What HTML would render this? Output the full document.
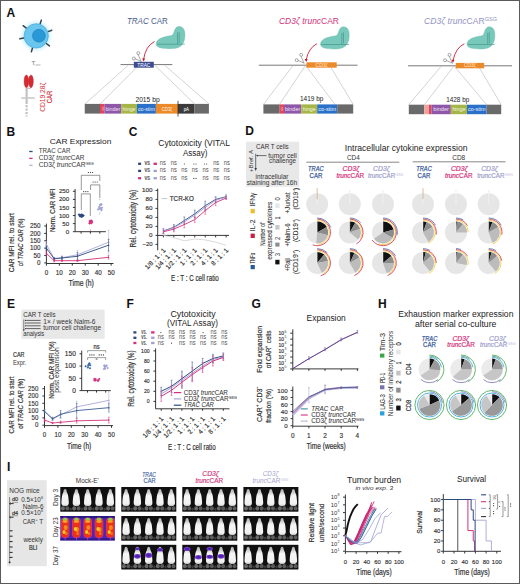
<!DOCTYPE html><html><head><meta charset="utf-8"><style>html,body{margin:0;padding:0;background:#fff;}svg{display:block;font-family:"Liberation Sans", sans-serif;}</style></head><body>
<svg width="520" height="584" viewBox="0 0 520 584">
<defs><radialGradient id="glow" cx="0.5" cy="0.5" r="0.5"><stop offset="0.6" stop-color="#a8e0f6" stop-opacity="0.9"/><stop offset="1" stop-color="#d8f2fc" stop-opacity="0"/></radialGradient><radialGradient id="cellg" cx="0.45" cy="0.45" r="0.6"><stop offset="0" stop-color="#6dcaf0"/><stop offset="1" stop-color="#3fa9dc"/></radialGradient><radialGradient id="nucg" cx="0.5" cy="0.5" r="0.5"><stop offset="0" stop-color="#2a95cf"/><stop offset="1" stop-color="#1a7fbf"/></radialGradient><filter id="bl" x="-20%" y="-20%" width="140%" height="140%"><feGaussianBlur stdDeviation="0.45"/></filter><filter id="bl2" x="-20%" y="-20%" width="140%" height="140%"><feGaussianBlur stdDeviation="0.8"/></filter><linearGradient id="mouseg" x1="0" y1="0" x2="0" y2="1"><stop offset="0" stop-color="#a8a8a8"/><stop offset="0.2" stop-color="#d0d0d0"/><stop offset="0.4" stop-color="#f6f6f6"/><stop offset="0.88" stop-color="#f0f0f0"/><stop offset="1" stop-color="#b0b0b0"/></linearGradient></defs>
<rect x="0.00" y="0.00" width="520.00" height="584.00" fill="#fff"/>
<text x="6.60" y="16.60" font-size="12" fill="#111" font-weight="bold">A</text>
<text x="6.60" y="135.80" font-size="12" fill="#111" font-weight="bold">B</text>
<text x="128.80" y="135.50" font-size="12" fill="#111" font-weight="bold">C</text>
<text x="245.20" y="135.40" font-size="12" fill="#111" font-weight="bold">D</text>
<text x="6.90" y="307.80" font-size="12" fill="#111" font-weight="bold">E</text>
<text x="126.50" y="307.70" font-size="12" fill="#111" font-weight="bold">F</text>
<text x="251.40" y="307.80" font-size="12" fill="#111" font-weight="bold">G</text>
<text x="378.00" y="307.80" font-size="12" fill="#111" font-weight="bold">H</text>
<text x="6.90" y="470.60" font-size="12" fill="#111" font-weight="bold">I</text>
<circle cx="36.20" cy="35.90" r="17.00" fill="url(#glow)"/>
<line x1="26.27" y1="28.14" x2="23.12" y2="25.68" stroke="#34444c" stroke-width="1.5" stroke-linecap="round"/>
<line x1="40.09" y1="23.92" x2="41.33" y2="20.11" stroke="#34444c" stroke-width="1.5" stroke-linecap="round"/>
<line x1="48.04" y1="31.59" x2="51.80" y2="30.22" stroke="#34444c" stroke-width="1.5" stroke-linecap="round"/>
<line x1="46.26" y1="43.48" x2="49.46" y2="45.89" stroke="#34444c" stroke-width="1.5" stroke-linecap="round"/>
<line x1="32.52" y1="47.95" x2="31.35" y2="51.77" stroke="#34444c" stroke-width="1.5" stroke-linecap="round"/>
<line x1="23.79" y1="38.09" x2="19.85" y2="38.78" stroke="#34444c" stroke-width="1.5" stroke-linecap="round"/>
<circle cx="36.20" cy="35.90" r="12.10" fill="#6ac6ee" stroke="#48ade0" stroke-width="0.8"/>
<circle cx="38.90" cy="35.70" r="6.40" fill="#2a98d4" stroke="#1c82c2" stroke-width="0.7"/>
<text x="31.40" y="64.80" font-size="6.2" fill="#7a7a7a">T</text>
<text x="34.60" y="65.60" font-size="2.8" fill="#9a9a9a">conv</text>
<line x1="26.60" y1="88.00" x2="26.60" y2="104.00" stroke="#c2c2c2" stroke-width="2.2"/>
<line x1="26.60" y1="105.00" x2="26.60" y2="116.50" stroke="#c2c2c2" stroke-width="2.2" stroke-dasharray="2.2,1.3"/>
<line x1="21.20" y1="98.00" x2="34.70" y2="98.00" stroke="#cacaca" stroke-width="1.6"/>
<ellipse cx="26.4" cy="81.3" rx="2.3" ry="6.4" fill="#d52a31" stroke="#b01823" stroke-width="0.4"/>
<ellipse cx="31.0" cy="81.3" rx="2.3" ry="6.4" fill="#d52a31" stroke="#b01823" stroke-width="0.4"/>
<path d="M25.2,75.2 q1.2,-1.8 2.4,0 M29.8,75.2 q1.2,-1.8 2.4,0" fill="none" stroke="#fff" stroke-width="0.4"/>
<line x1="27.50" y1="88.00" x2="30.50" y2="88.50" stroke="#d52a31" stroke-width="0.5"/>
<text x="44.60" y="97.20" font-size="6.8" fill="#d4303a" text-anchor="middle" textLength="29.30" lengthAdjust="spacingAndGlyphs" transform="rotate(-90 44.60 97.20)">CD19.28ζ</text>
<text x="52.40" y="97.00" font-size="6.8" fill="#d4303a" stroke="#d4303a" stroke-width="0.2" text-anchor="middle" textLength="12.50" lengthAdjust="spacingAndGlyphs" transform="rotate(-90 52.40 97.00)">CAR</text>
<text x="126.90" y="23.60" font-size="8.5" fill="#4b5b8c" textLength="41.00" lengthAdjust="spacingAndGlyphs"><tspan font-style="italic">TRAC</tspan> CAR</text>
<g transform="translate(156.2,26.0) scale(1.0,1)"><path d="M0,18 C0,12.5 8,10.5 15.5,9.5 C18.5,8.5 17.5,1.5 22,0.6 C27,0 29,4 28.7,10 C28.4,16 26,22.5 16,22.6 C7,22.8 0,22 0,18 Z" fill="#78c9bb" stroke="#5fb3a6" stroke-width="0.4"/><path d="M21.3,6.5 L21.3,18.1 M0.8,18.2 L21.3,18.2 L28.6,18.2 M23,6 L23,17" fill="none" stroke="#3e8e85" stroke-width="0.6"/></g>
<line x1="120.50" y1="64.60" x2="172.30" y2="64.60" stroke="#555" stroke-width="0.8"/>
<line x1="128.00" y1="65.50" x2="85.00" y2="103.90" stroke="#a8a8a8" stroke-width="0.5"/>
<line x1="138.80" y1="65.50" x2="100.20" y2="103.90" stroke="#a8a8a8" stroke-width="0.5"/>
<line x1="155.00" y1="65.50" x2="194.50" y2="103.90" stroke="#a8a8a8" stroke-width="0.5"/>
<line x1="165.00" y1="65.50" x2="208.90" y2="103.90" stroke="#a8a8a8" stroke-width="0.5"/>
<rect x="133.80" y="61.80" width="20.00" height="5.90" fill="#3d4b93"/>
<text x="143.80" y="66.60" font-size="4.6" fill="#fff" text-anchor="middle" textLength="13.00" lengthAdjust="spacingAndGlyphs">TRAC</text>
<g transform="translate(131.5,50.9)" fill="none" stroke="#444" stroke-width="0.45"><circle cx="2.3" cy="7.6" r="1.5" fill="#fff"/><circle cx="6.8" cy="2.2" r="1.5" fill="#fff"/><path d="M3.7,7.9 L10,10.6 M6.6,3.7 L9.6,10.6"/></g>
<path d="M154.6,41.5 Q145.5,46 143.6,59.4" fill="none" stroke="#c4122f" stroke-width="0.85"/>
<path d="M142.1,58.6 L143.6,61.6 L145.1,58.6 Z" fill="#c4122f"/>
<text x="135.40" y="101.50" font-size="7" fill="#222" textLength="24.30" lengthAdjust="spacingAndGlyphs">2015 bp</text>
<rect x="84.75" y="103.90" width="15.25" height="9.70" fill="#6a6a6a"/>
<rect x="100.00" y="103.90" width="4.40" height="9.70" fill="#e2445a"/>
<rect x="104.40" y="103.90" width="16.85" height="9.70" fill="#8f57a9"/>
<rect x="121.25" y="103.90" width="15.65" height="9.70" fill="#a6b646"/>
<rect x="136.90" y="103.90" width="19.00" height="9.70" fill="#2b70c8"/>
<rect x="155.90" y="103.90" width="22.10" height="9.70" fill="#ec8a2a"/>
<rect x="178.00" y="103.90" width="16.50" height="9.70" fill="#3b3b3b"/>
<rect x="194.50" y="103.90" width="14.40" height="9.70" fill="#6a6a6a"/>
<text x="103.50" y="108.75" font-size="4.2" fill="#fbd0d4" text-anchor="middle" transform="rotate(-90 103.50 108.75)">ss</text>
<text x="112.83" y="110.70" font-size="5.4" fill="#f0e6f4" text-anchor="middle" textLength="14.85" lengthAdjust="spacingAndGlyphs">binder</text>
<text x="129.07" y="110.70" font-size="5.4" fill="#f4f6e0" text-anchor="middle" textLength="13.00" lengthAdjust="spacingAndGlyphs">hinge</text>
<text x="146.40" y="110.70" font-size="5.4" fill="#e8f0ff" text-anchor="middle" textLength="17.00" lengthAdjust="spacingAndGlyphs">co-stim</text>
<text x="166.95" y="110.70" font-size="5.4" fill="#fff5ea" text-anchor="middle" textLength="10.40" lengthAdjust="spacingAndGlyphs">CD3ζ</text>
<text x="186.25" y="110.70" font-size="5.4" fill="#dcdcdc" stroke="#dcdcdc" stroke-width="0.2" text-anchor="middle" textLength="5.20" lengthAdjust="spacingAndGlyphs">pA</text>
<line x1="178.00" y1="100.80" x2="178.00" y2="116.60" stroke="#3a2a20" stroke-width="0.8"/>
<text x="279.00" y="23.80" font-size="8.5" fill="#d4317a" textLength="60.00" lengthAdjust="spacingAndGlyphs"><tspan font-style="italic">CD3ζ trunc</tspan>CAR</text>
<g transform="translate(320.5,26.3) scale(1.0,1)"><path d="M0,18 C0,12.5 8,10.5 15.5,9.5 C18.5,8.5 17.5,1.5 22,0.6 C27,0 29,4 28.7,10 C28.4,16 26,22.5 16,22.6 C7,22.8 0,22 0,18 Z" fill="#78c9bb" stroke="#5fb3a6" stroke-width="0.4"/><path d="M21.3,6.5 L21.3,18.1 M0.8,18.2 L21.3,18.2 L28.6,18.2 M23,6 L23,17" fill="none" stroke="#3e8e85" stroke-width="0.6"/></g>
<line x1="258.80" y1="65.20" x2="357.50" y2="65.20" stroke="#555" stroke-width="0.8"/>
<line x1="292.60" y1="66.00" x2="263.40" y2="104.50" stroke="#a8a8a8" stroke-width="0.5"/>
<line x1="305.10" y1="66.00" x2="279.40" y2="104.50" stroke="#a8a8a8" stroke-width="0.5"/>
<line x1="306.10" y1="66.00" x2="335.00" y2="104.50" stroke="#a8a8a8" stroke-width="0.5"/>
<line x1="330.10" y1="66.00" x2="353.20" y2="104.50" stroke="#a8a8a8" stroke-width="0.5"/>
<rect x="306.50" y="62.30" width="30.20" height="5.40" fill="#ec8a2a"/>
<text x="321.60" y="66.80" font-size="4.8" fill="#fde6cf" text-anchor="middle" textLength="12.00" lengthAdjust="spacingAndGlyphs">CD3ζ</text>
<g transform="translate(294.4,52.6)" fill="none" stroke="#444" stroke-width="0.45"><circle cx="2.3" cy="7.6" r="1.5" fill="#fff"/><circle cx="6.8" cy="2.2" r="1.5" fill="#fff"/><path d="M3.7,7.9 L10,10.6 M6.6,3.7 L9.6,10.6"/></g>
<path d="M316.9,43.7 Q308.5,48 306.2,59.8" fill="none" stroke="#c4122f" stroke-width="0.85"/>
<path d="M304.7,59.0 L306.2,62.0 L307.7,59.0 Z" fill="#c4122f"/>
<text x="300.00" y="101.20" font-size="7" fill="#222" textLength="23.40" lengthAdjust="spacingAndGlyphs">1419 bp</text>
<rect x="263.40" y="104.40" width="16.30" height="9.20" fill="#6a6a6a"/>
<rect x="279.70" y="104.40" width="4.30" height="9.20" fill="#e2445a"/>
<rect x="284.00" y="104.40" width="17.30" height="9.20" fill="#8f57a9"/>
<rect x="301.30" y="104.40" width="15.90" height="9.20" fill="#a6b646"/>
<rect x="317.20" y="104.40" width="20.00" height="9.20" fill="#2b70c8"/>
<rect x="337.20" y="104.40" width="16.00" height="9.20" fill="#6a6a6a"/>
<text x="283.15" y="109.00" font-size="4.2" fill="#fbd0d4" text-anchor="middle" transform="rotate(-90 283.15 109.00)">ss</text>
<text x="292.65" y="110.70" font-size="5.4" fill="#f0e6f4" text-anchor="middle" textLength="15.30" lengthAdjust="spacingAndGlyphs">binder</text>
<text x="309.25" y="110.70" font-size="5.4" fill="#f4f6e0" text-anchor="middle" textLength="13.00" lengthAdjust="spacingAndGlyphs">hinge</text>
<text x="327.20" y="110.70" font-size="5.4" fill="#e8f0ff" text-anchor="middle" textLength="18.00" lengthAdjust="spacingAndGlyphs">co-stim</text>
<text x="424.00" y="23.80" font-size="8.5" fill="#9393c4" textLength="73.00" lengthAdjust="spacingAndGlyphs"><tspan font-style="italic">CD3ζ trunc</tspan>CAR<tspan font-size="5.5" dy="-3">GSG</tspan></text>
<g transform="translate(467,26.3) scale(0.97,1)"><path d="M0,18 C0,12.5 8,10.5 15.5,9.5 C18.5,8.5 17.5,1.5 22,0.6 C27,0 29,4 28.7,10 C28.4,16 26,22.5 16,22.6 C7,22.8 0,22 0,18 Z" fill="#78c9bb" stroke="#5fb3a6" stroke-width="0.4"/><path d="M21.3,6.5 L21.3,18.1 M0.8,18.2 L21.3,18.2 L28.6,18.2 M23,6 L23,17" fill="none" stroke="#3e8e85" stroke-width="0.6"/></g>
<line x1="408.00" y1="65.80" x2="512.00" y2="65.80" stroke="#555" stroke-width="0.8"/>
<line x1="441.00" y1="66.50" x2="408.80" y2="104.70" stroke="#a8a8a8" stroke-width="0.5"/>
<line x1="453.60" y1="66.50" x2="424.40" y2="104.70" stroke="#a8a8a8" stroke-width="0.5"/>
<line x1="454.60" y1="66.50" x2="486.60" y2="104.70" stroke="#a8a8a8" stroke-width="0.5"/>
<line x1="478.60" y1="66.50" x2="501.20" y2="104.70" stroke="#a8a8a8" stroke-width="0.5"/>
<rect x="455.80" y="62.90" width="28.40" height="5.40" fill="#ec8a2a"/>
<text x="470.00" y="67.40" font-size="4.8" fill="#fde6cf" text-anchor="middle" textLength="12.00" lengthAdjust="spacingAndGlyphs">CD3ζ</text>
<g transform="translate(442.7,52.7)" fill="none" stroke="#444" stroke-width="0.45"><circle cx="2.3" cy="7.6" r="1.5" fill="#fff"/><circle cx="6.8" cy="2.2" r="1.5" fill="#fff"/><path d="M3.7,7.9 L10,10.6 M6.6,3.7 L9.6,10.6"/></g>
<path d="M464.4,43.7 Q455.5,48 453.0,60.599999999999994" fill="none" stroke="#c4122f" stroke-width="0.85"/>
<path d="M451.5,59.8 L453.0,62.8 L454.5,59.8 Z" fill="#c4122f"/>
<text x="446.20" y="102.20" font-size="7" fill="#222" textLength="23.10" lengthAdjust="spacingAndGlyphs">1428 bp</text>
<rect x="408.80" y="104.70" width="15.40" height="9.50" fill="#6a6a6a"/>
<rect x="424.20" y="104.70" width="4.70" height="9.50" fill="#f1a39a"/>
<rect x="428.90" y="104.70" width="2.50" height="9.50" fill="#e2445a"/>
<rect x="431.40" y="104.70" width="19.40" height="9.50" fill="#8f57a9"/>
<rect x="450.80" y="104.70" width="16.20" height="9.50" fill="#a6b646"/>
<rect x="467.00" y="104.70" width="19.60" height="9.50" fill="#2b70c8"/>
<rect x="486.60" y="104.70" width="14.60" height="9.50" fill="#6a6a6a"/>
<text x="441.10" y="111.30" font-size="5.4" fill="#f0e6f4" text-anchor="middle" textLength="15.60" lengthAdjust="spacingAndGlyphs">binder</text>
<text x="458.90" y="111.30" font-size="5.4" fill="#f4f6e0" text-anchor="middle" textLength="13.00" lengthAdjust="spacingAndGlyphs">hinge</text>
<text x="476.80" y="111.30" font-size="5.4" fill="#e8f0ff" text-anchor="middle" textLength="17.60" lengthAdjust="spacingAndGlyphs">co-stim</text>
<text x="49.80" y="144.20" font-size="8" fill="#222" textLength="61.50" lengthAdjust="spacingAndGlyphs">CAR Expression</text>
<line x1="29.20" y1="151.50" x2="32.60" y2="151.50" stroke="#2c4a7e" stroke-width="1.3"/>
<text x="38.80" y="153.30" font-size="6.3" fill="#444" stroke="#444" stroke-width="0.05" textLength="31.60" lengthAdjust="spacingAndGlyphs">TRAC CAR</text>
<line x1="29.20" y1="158.40" x2="32.60" y2="158.40" stroke="#d4317a" stroke-width="1.3"/>
<text x="38.80" y="160.20" font-size="6.3" fill="#444" stroke="#444" stroke-width="0.05" textLength="45.60" lengthAdjust="spacingAndGlyphs">CD3ζ <tspan font-style="italic">trunc</tspan>CAR</text>
<line x1="29.20" y1="165.30" x2="32.60" y2="165.30" stroke="#b4b4d8" stroke-width="1.3"/>
<text x="38.80" y="167.10" font-size="6.3" fill="#444" stroke="#444" stroke-width="0.05" textLength="55.00" lengthAdjust="spacingAndGlyphs">CD3ζ <tspan font-style="italic">trunc</tspan>CAR<tspan font-size="3.6" dy="-2.2">GSG</tspan></text>
<line x1="75.10" y1="189.00" x2="75.10" y2="231.70" stroke="#222" stroke-width="0.9"/>
<line x1="72.90" y1="231.70" x2="75.10" y2="231.70" stroke="#222" stroke-width="0.9"/>
<text x="69.20" y="233.76" font-size="5.9" fill="#333" stroke="#333" stroke-width="0.15" text-anchor="end" textLength="3.43" lengthAdjust="spacingAndGlyphs">0</text>
<line x1="72.90" y1="223.62" x2="75.10" y2="223.62" stroke="#222" stroke-width="0.9"/>
<text x="69.20" y="225.68" font-size="5.9" fill="#333" stroke="#333" stroke-width="0.15" text-anchor="end" textLength="6.86" lengthAdjust="spacingAndGlyphs">50</text>
<line x1="72.90" y1="215.54" x2="75.10" y2="215.54" stroke="#222" stroke-width="0.9"/>
<text x="69.20" y="217.60" font-size="5.9" fill="#333" stroke="#333" stroke-width="0.15" text-anchor="end" textLength="10.29" lengthAdjust="spacingAndGlyphs">100</text>
<line x1="72.90" y1="207.46" x2="75.10" y2="207.46" stroke="#222" stroke-width="0.9"/>
<text x="69.20" y="209.52" font-size="5.9" fill="#333" stroke="#333" stroke-width="0.15" text-anchor="end" textLength="10.29" lengthAdjust="spacingAndGlyphs">150</text>
<line x1="72.90" y1="199.38" x2="75.10" y2="199.38" stroke="#222" stroke-width="0.9"/>
<text x="69.20" y="201.44" font-size="5.9" fill="#333" stroke="#333" stroke-width="0.15" text-anchor="end" textLength="10.29" lengthAdjust="spacingAndGlyphs">200</text>
<line x1="72.90" y1="191.30" x2="75.10" y2="191.30" stroke="#222" stroke-width="0.9"/>
<text x="69.20" y="193.36" font-size="5.9" fill="#333" stroke="#333" stroke-width="0.15" text-anchor="end" textLength="10.29" lengthAdjust="spacingAndGlyphs">250</text>
<line x1="75.10" y1="231.70" x2="105.90" y2="231.70" stroke="#222" stroke-width="0.9"/>
<line x1="81.10" y1="231.70" x2="81.10" y2="233.70" stroke="#222" stroke-width="0.9"/>
<line x1="90.40" y1="231.70" x2="90.40" y2="233.70" stroke="#222" stroke-width="0.9"/>
<line x1="99.80" y1="231.70" x2="99.80" y2="233.70" stroke="#222" stroke-width="0.9"/>
<text x="55.30" y="210.30" font-size="7" fill="#333" stroke="#333" stroke-width="0.2" text-anchor="middle" textLength="43.50" lengthAdjust="spacingAndGlyphs" transform="rotate(-90 55.30 210.30)">Norm. CAR MFI</text>
<rect x="79.05" y="214.43" width="2.0" height="2.0" fill="#2c4a7e" transform="rotate(45 80.05 215.43)"/>
<rect x="79.63" y="214.27" width="2.0" height="2.0" fill="#2c4a7e" transform="rotate(45 80.63 215.27)"/>
<rect x="80.75" y="215.66" width="2.0" height="2.0" fill="#2c4a7e" transform="rotate(45 81.75 216.66)"/>
<rect x="78.06" y="213.67" width="2.0" height="2.0" fill="#2c4a7e" transform="rotate(45 79.06 214.67)"/>
<rect x="79.14" y="215.23" width="2.0" height="2.0" fill="#2c4a7e" transform="rotate(45 80.14 216.23)"/>
<rect x="82.38" y="214.62" width="2.0" height="2.0" fill="#2c4a7e" transform="rotate(45 83.38 215.62)"/>
<rect x="81.68" y="214.60" width="2.0" height="2.0" fill="#2c4a7e" transform="rotate(45 82.68 215.60)"/>
<rect x="80.81" y="215.44" width="2.0" height="2.0" fill="#2c4a7e" transform="rotate(45 81.81 216.44)"/>
<rect x="80.79" y="213.59" width="2.0" height="2.0" fill="#2c4a7e" transform="rotate(45 81.79 214.59)"/>
<rect x="89.50" y="220.38" width="2.0" height="2.0" fill="#d4317a" transform="rotate(45 90.50 221.38)"/>
<rect x="90.15" y="222.13" width="2.0" height="2.0" fill="#d4317a" transform="rotate(45 91.15 223.13)"/>
<rect x="90.54" y="220.77" width="2.0" height="2.0" fill="#d4317a" transform="rotate(45 91.54 221.77)"/>
<rect x="88.53" y="222.22" width="2.0" height="2.0" fill="#d4317a" transform="rotate(45 89.53 223.22)"/>
<rect x="91.01" y="221.07" width="2.0" height="2.0" fill="#d4317a" transform="rotate(45 92.01 222.07)"/>
<rect x="90.36" y="220.02" width="2.0" height="2.0" fill="#d4317a" transform="rotate(45 91.36 221.02)"/>
<rect x="90.34" y="219.92" width="2.0" height="2.0" fill="#d4317a" transform="rotate(45 91.34 220.92)"/>
<rect x="88.94" y="220.23" width="2.0" height="2.0" fill="#d4317a" transform="rotate(45 89.94 221.23)"/>
<rect x="89.16" y="219.88" width="2.0" height="2.0" fill="#d4317a" transform="rotate(45 90.16 220.88)"/>
<rect x="100.47" y="209.06" width="2.0" height="2.0" fill="#a0a0d4" transform="rotate(45 101.47 210.06)"/>
<rect x="97.20" y="208.29" width="2.0" height="2.0" fill="#a0a0d4" transform="rotate(45 98.20 209.29)"/>
<rect x="100.85" y="206.87" width="2.0" height="2.0" fill="#a0a0d4" transform="rotate(45 101.85 207.87)"/>
<rect x="99.36" y="207.75" width="2.0" height="2.0" fill="#a0a0d4" transform="rotate(45 100.36 208.75)"/>
<rect x="98.83" y="207.20" width="2.0" height="2.0" fill="#a0a0d4" transform="rotate(45 99.83 208.20)"/>
<rect x="98.14" y="205.91" width="2.0" height="2.0" fill="#a0a0d4" transform="rotate(45 99.14 206.91)"/>
<rect x="99.17" y="203.85" width="2.0" height="2.0" fill="#a0a0d4" transform="rotate(45 100.17 204.85)"/>
<rect x="99.60" y="203.69" width="2.0" height="2.0" fill="#a0a0d4" transform="rotate(45 100.60 204.69)"/>
<rect x="100.37" y="203.29" width="2.0" height="2.0" fill="#a0a0d4" transform="rotate(45 101.37 204.29)"/>
<circle cx="90.40" cy="230.08" r="0.50" fill="#d4317a"/>
<circle cx="99.80" cy="212.31" r="0.50" fill="#a0a0d4"/>
<circle cx="99.80" cy="213.92" r="0.50" fill="#a0a0d4"/>
<circle cx="99.80" cy="199.38" r="0.50" fill="#a0a0d4"/>
<path d="M81.3,210 L81.3,193.9 L90.3,193.9 L90.3,216" fill="none" stroke="#333" stroke-width="0.5"/>
<circle cx="83.70" cy="191.60" r="0.62" fill="#333"/>
<circle cx="85.80" cy="191.60" r="0.62" fill="#333"/>
<circle cx="87.90" cy="191.60" r="0.62" fill="#333"/>
<path d="M90.6,190 L90.6,184.9 L99.8,184.9 L99.8,198" fill="none" stroke="#333" stroke-width="0.5"/>
<circle cx="93.10" cy="182.00" r="0.62" fill="#333"/>
<circle cx="95.20" cy="182.00" r="0.62" fill="#333"/>
<circle cx="97.30" cy="182.00" r="0.62" fill="#333"/>
<path d="M81.3,190 L81.3,175.3 L99.8,175.3 L99.8,181" fill="none" stroke="#333" stroke-width="0.5"/>
<circle cx="88.40" cy="172.50" r="0.62" fill="#333"/>
<circle cx="90.50" cy="172.50" r="0.62" fill="#333"/>
<circle cx="92.60" cy="172.50" r="0.62" fill="#333"/>
<line x1="46.40" y1="223.60" x2="46.40" y2="263.50" stroke="#222" stroke-width="0.9"/>
<line x1="44.20" y1="262.90" x2="46.40" y2="262.90" stroke="#222" stroke-width="0.9"/>
<text x="40.50" y="265.14" font-size="6.4" fill="#333" stroke="#333" stroke-width="0.15" text-anchor="end" textLength="3.50" lengthAdjust="spacingAndGlyphs">0</text>
<line x1="44.20" y1="255.52" x2="46.40" y2="255.52" stroke="#222" stroke-width="0.9"/>
<text x="40.50" y="257.76" font-size="6.4" fill="#333" stroke="#333" stroke-width="0.15" text-anchor="end" textLength="7.00" lengthAdjust="spacingAndGlyphs">50</text>
<line x1="44.20" y1="248.14" x2="46.40" y2="248.14" stroke="#222" stroke-width="0.9"/>
<text x="40.50" y="250.38" font-size="6.4" fill="#333" stroke="#333" stroke-width="0.15" text-anchor="end" textLength="10.50" lengthAdjust="spacingAndGlyphs">100</text>
<line x1="44.20" y1="240.76" x2="46.40" y2="240.76" stroke="#222" stroke-width="0.9"/>
<text x="40.50" y="243.00" font-size="6.4" fill="#333" stroke="#333" stroke-width="0.15" text-anchor="end" textLength="10.50" lengthAdjust="spacingAndGlyphs">150</text>
<line x1="44.20" y1="233.38" x2="46.40" y2="233.38" stroke="#222" stroke-width="0.9"/>
<text x="40.50" y="235.62" font-size="6.4" fill="#333" stroke="#333" stroke-width="0.15" text-anchor="end" textLength="10.50" lengthAdjust="spacingAndGlyphs">200</text>
<line x1="44.20" y1="226.00" x2="46.40" y2="226.00" stroke="#222" stroke-width="0.9"/>
<text x="40.50" y="228.24" font-size="6.4" fill="#333" stroke="#333" stroke-width="0.15" text-anchor="end" textLength="10.50" lengthAdjust="spacingAndGlyphs">250</text>
<line x1="46.40" y1="263.50" x2="113.50" y2="263.50" stroke="#222" stroke-width="0.9"/>
<line x1="46.40" y1="263.50" x2="46.40" y2="265.70" stroke="#222" stroke-width="0.9"/>
<text x="46.40" y="274.60" font-size="6.4" fill="#333" stroke="#333" stroke-width="0.15" text-anchor="middle" textLength="3.50" lengthAdjust="spacingAndGlyphs">0</text>
<line x1="59.35" y1="263.50" x2="59.35" y2="265.70" stroke="#222" stroke-width="0.9"/>
<text x="59.35" y="274.60" font-size="6.4" fill="#333" stroke="#333" stroke-width="0.15" text-anchor="middle" textLength="7.00" lengthAdjust="spacingAndGlyphs">10</text>
<line x1="72.30" y1="263.50" x2="72.30" y2="265.70" stroke="#222" stroke-width="0.9"/>
<text x="72.30" y="274.60" font-size="6.4" fill="#333" stroke="#333" stroke-width="0.15" text-anchor="middle" textLength="7.00" lengthAdjust="spacingAndGlyphs">20</text>
<line x1="85.25" y1="263.50" x2="85.25" y2="265.70" stroke="#222" stroke-width="0.9"/>
<text x="85.25" y="274.60" font-size="6.4" fill="#333" stroke="#333" stroke-width="0.15" text-anchor="middle" textLength="7.00" lengthAdjust="spacingAndGlyphs">30</text>
<line x1="98.20" y1="263.50" x2="98.20" y2="265.70" stroke="#222" stroke-width="0.9"/>
<text x="98.20" y="274.60" font-size="6.4" fill="#333" stroke="#333" stroke-width="0.15" text-anchor="middle" textLength="7.00" lengthAdjust="spacingAndGlyphs">40</text>
<line x1="111.15" y1="263.50" x2="111.15" y2="265.70" stroke="#222" stroke-width="0.9"/>
<text x="111.15" y="274.60" font-size="6.4" fill="#333" stroke="#333" stroke-width="0.15" text-anchor="middle" textLength="7.00" lengthAdjust="spacingAndGlyphs">50</text>
<text x="68.50" y="286.20" font-size="8.8" fill="#333" stroke="#333" stroke-width="0.2" textLength="25.40" lengthAdjust="spacingAndGlyphs">Time (h)</text>
<text x="14.00" y="242.70" font-size="7.8" fill="#333" stroke="#333" stroke-width="0.2" text-anchor="middle" textLength="59.00" lengthAdjust="spacingAndGlyphs" transform="rotate(-90 14.00 242.70)">CAR MFI rel. to start</text>
<text x="22.60" y="242.30" font-size="7.8" fill="#333" stroke="#333" stroke-width="0.2" text-anchor="middle" textLength="47.70" lengthAdjust="spacingAndGlyphs" transform="rotate(-90 22.60 242.30)">of <tspan font-style="italic">TRAC CAR</tspan> (%)</text>
<polyline points="46.40,244.45 54.17,258.47 61.94,257.73 77.48,254.78 108.56,242.24" fill="none" stroke="#a9a9d8" stroke-width="0.9" stroke-linejoin="round"/>
<line x1="46.40" y1="241.50" x2="46.40" y2="247.40" stroke="#a9a9d8" stroke-width="0.5"/>
<line x1="45.50" y1="241.50" x2="47.30" y2="241.50" stroke="#a9a9d8" stroke-width="0.5"/>
<line x1="45.50" y1="247.40" x2="47.30" y2="247.40" stroke="#a9a9d8" stroke-width="0.5"/>
<circle cx="46.40" cy="244.45" r="0.80" fill="#a9a9d8"/>
<line x1="54.17" y1="257.29" x2="54.17" y2="259.65" stroke="#a9a9d8" stroke-width="0.5"/>
<line x1="53.27" y1="257.29" x2="55.07" y2="257.29" stroke="#a9a9d8" stroke-width="0.5"/>
<line x1="53.27" y1="259.65" x2="55.07" y2="259.65" stroke="#a9a9d8" stroke-width="0.5"/>
<circle cx="54.17" cy="258.47" r="0.80" fill="#a9a9d8"/>
<line x1="61.94" y1="256.26" x2="61.94" y2="259.21" stroke="#a9a9d8" stroke-width="0.5"/>
<line x1="61.04" y1="256.26" x2="62.84" y2="256.26" stroke="#a9a9d8" stroke-width="0.5"/>
<line x1="61.04" y1="259.21" x2="62.84" y2="259.21" stroke="#a9a9d8" stroke-width="0.5"/>
<circle cx="61.94" cy="257.73" r="0.80" fill="#a9a9d8"/>
<line x1="77.48" y1="250.35" x2="77.48" y2="259.21" stroke="#a9a9d8" stroke-width="0.5"/>
<line x1="76.58" y1="250.35" x2="78.38" y2="250.35" stroke="#a9a9d8" stroke-width="0.5"/>
<line x1="76.58" y1="259.21" x2="78.38" y2="259.21" stroke="#a9a9d8" stroke-width="0.5"/>
<circle cx="77.48" cy="254.78" r="0.80" fill="#a9a9d8"/>
<line x1="108.56" y1="230.43" x2="108.56" y2="254.04" stroke="#a9a9d8" stroke-width="0.5"/>
<line x1="107.66" y1="230.43" x2="109.46" y2="230.43" stroke="#a9a9d8" stroke-width="0.5"/>
<line x1="107.66" y1="254.04" x2="109.46" y2="254.04" stroke="#a9a9d8" stroke-width="0.5"/>
<circle cx="108.56" cy="242.24" r="0.80" fill="#a9a9d8"/>
<polyline points="46.40,248.14 54.17,258.77 61.94,258.03 77.48,256.26 108.56,245.19" fill="none" stroke="#2c4a7e" stroke-width="0.9" stroke-linejoin="round"/>
<line x1="46.40" y1="245.93" x2="46.40" y2="250.35" stroke="#2c4a7e" stroke-width="0.5"/>
<line x1="45.50" y1="245.93" x2="47.30" y2="245.93" stroke="#2c4a7e" stroke-width="0.5"/>
<line x1="45.50" y1="250.35" x2="47.30" y2="250.35" stroke="#2c4a7e" stroke-width="0.5"/>
<circle cx="46.40" cy="248.14" r="0.80" fill="#2c4a7e"/>
<line x1="54.17" y1="257.59" x2="54.17" y2="259.95" stroke="#2c4a7e" stroke-width="0.5"/>
<line x1="53.27" y1="257.59" x2="55.07" y2="257.59" stroke="#2c4a7e" stroke-width="0.5"/>
<line x1="53.27" y1="259.95" x2="55.07" y2="259.95" stroke="#2c4a7e" stroke-width="0.5"/>
<circle cx="54.17" cy="258.77" r="0.80" fill="#2c4a7e"/>
<line x1="61.94" y1="256.26" x2="61.94" y2="259.80" stroke="#2c4a7e" stroke-width="0.5"/>
<line x1="61.04" y1="256.26" x2="62.84" y2="256.26" stroke="#2c4a7e" stroke-width="0.5"/>
<line x1="61.04" y1="259.80" x2="62.84" y2="259.80" stroke="#2c4a7e" stroke-width="0.5"/>
<circle cx="61.94" cy="258.03" r="0.80" fill="#2c4a7e"/>
<line x1="77.48" y1="252.57" x2="77.48" y2="259.95" stroke="#2c4a7e" stroke-width="0.5"/>
<line x1="76.58" y1="252.57" x2="78.38" y2="252.57" stroke="#2c4a7e" stroke-width="0.5"/>
<line x1="76.58" y1="259.95" x2="78.38" y2="259.95" stroke="#2c4a7e" stroke-width="0.5"/>
<circle cx="77.48" cy="256.26" r="0.80" fill="#2c4a7e"/>
<line x1="108.56" y1="239.28" x2="108.56" y2="251.09" stroke="#2c4a7e" stroke-width="0.5"/>
<line x1="107.66" y1="239.28" x2="109.46" y2="239.28" stroke="#2c4a7e" stroke-width="0.5"/>
<line x1="107.66" y1="251.09" x2="109.46" y2="251.09" stroke="#2c4a7e" stroke-width="0.5"/>
<circle cx="108.56" cy="245.19" r="0.80" fill="#2c4a7e"/>
<polyline points="46.40,253.31 54.17,260.69 61.94,260.69 77.48,260.69 108.56,257.29" fill="none" stroke="#d4317a" stroke-width="0.9" stroke-linejoin="round"/>
<line x1="46.40" y1="251.09" x2="46.40" y2="255.52" stroke="#d4317a" stroke-width="0.5"/>
<line x1="45.50" y1="251.09" x2="47.30" y2="251.09" stroke="#d4317a" stroke-width="0.5"/>
<line x1="45.50" y1="255.52" x2="47.30" y2="255.52" stroke="#d4317a" stroke-width="0.5"/>
<circle cx="46.40" cy="253.31" r="0.80" fill="#d4317a"/>
<line x1="54.17" y1="259.51" x2="54.17" y2="261.87" stroke="#d4317a" stroke-width="0.5"/>
<line x1="53.27" y1="259.51" x2="55.07" y2="259.51" stroke="#d4317a" stroke-width="0.5"/>
<line x1="53.27" y1="261.87" x2="55.07" y2="261.87" stroke="#d4317a" stroke-width="0.5"/>
<circle cx="54.17" cy="260.69" r="0.80" fill="#d4317a"/>
<line x1="61.94" y1="259.95" x2="61.94" y2="261.42" stroke="#d4317a" stroke-width="0.5"/>
<line x1="61.04" y1="259.95" x2="62.84" y2="259.95" stroke="#d4317a" stroke-width="0.5"/>
<line x1="61.04" y1="261.42" x2="62.84" y2="261.42" stroke="#d4317a" stroke-width="0.5"/>
<circle cx="61.94" cy="260.69" r="0.80" fill="#d4317a"/>
<line x1="77.48" y1="259.95" x2="77.48" y2="261.42" stroke="#d4317a" stroke-width="0.5"/>
<line x1="76.58" y1="259.95" x2="78.38" y2="259.95" stroke="#d4317a" stroke-width="0.5"/>
<line x1="76.58" y1="261.42" x2="78.38" y2="261.42" stroke="#d4317a" stroke-width="0.5"/>
<circle cx="77.48" cy="260.69" r="0.80" fill="#d4317a"/>
<line x1="108.56" y1="255.52" x2="108.56" y2="259.06" stroke="#d4317a" stroke-width="0.5"/>
<line x1="107.66" y1="255.52" x2="109.46" y2="255.52" stroke="#d4317a" stroke-width="0.5"/>
<line x1="107.66" y1="259.06" x2="109.46" y2="259.06" stroke="#d4317a" stroke-width="0.5"/>
<circle cx="108.56" cy="257.29" r="0.80" fill="#d4317a"/>
<text x="158.30" y="146.00" font-size="8.3" fill="#222" textLength="71.70" lengthAdjust="spacingAndGlyphs">Cytotoxicity (VITAL</text>
<text x="183.00" y="155.70" font-size="8.3" fill="#222" textLength="24.40" lengthAdjust="spacingAndGlyphs">Assay)</text>
<rect x="138.10" y="162.65" width="3.00" height="2.30" fill="#2c4a7e"/>
<text x="147.25" y="165.30" font-size="6.4" fill="#555" stroke="#555" stroke-width="0.2" text-anchor="middle" textLength="5.50" lengthAdjust="spacingAndGlyphs">vs</text>
<rect x="153.50" y="162.65" width="3.40" height="2.30" fill="#d4317a"/>
<text x="162.90" y="165.30" font-size="6.4" fill="#555" text-anchor="middle" textLength="6.10" lengthAdjust="spacingAndGlyphs">ns</text>
<text x="173.80" y="165.30" font-size="6.4" fill="#555" text-anchor="middle" textLength="6.10" lengthAdjust="spacingAndGlyphs">ns</text>
<circle cx="184.40" cy="164.00" r="0.60" fill="#444"/>
<circle cx="193.80" cy="164.00" r="0.60" fill="#444"/>
<circle cx="196.00" cy="164.00" r="0.60" fill="#444"/>
<circle cx="204.40" cy="164.00" r="0.60" fill="#444"/>
<circle cx="206.60" cy="164.00" r="0.60" fill="#444"/>
<text x="216.20" y="165.30" font-size="6.4" fill="#555" text-anchor="middle" textLength="6.10" lengthAdjust="spacingAndGlyphs">ns</text>
<text x="226.80" y="165.30" font-size="6.4" fill="#555" text-anchor="middle" textLength="6.10" lengthAdjust="spacingAndGlyphs">ns</text>
<rect x="138.10" y="169.75" width="3.00" height="2.30" fill="#2c4a7e"/>
<text x="147.25" y="172.40" font-size="6.4" fill="#555" stroke="#555" stroke-width="0.2" text-anchor="middle" textLength="5.50" lengthAdjust="spacingAndGlyphs">vs</text>
<rect x="153.50" y="169.75" width="3.40" height="2.30" fill="#a0a0d4"/>
<text x="162.90" y="172.40" font-size="6.4" fill="#555" text-anchor="middle" textLength="6.10" lengthAdjust="spacingAndGlyphs">ns</text>
<text x="173.80" y="172.40" font-size="6.4" fill="#555" text-anchor="middle" textLength="6.10" lengthAdjust="spacingAndGlyphs">ns</text>
<text x="184.40" y="172.40" font-size="6.4" fill="#555" text-anchor="middle" textLength="6.10" lengthAdjust="spacingAndGlyphs">ns</text>
<text x="194.90" y="172.40" font-size="6.4" fill="#555" text-anchor="middle" textLength="6.10" lengthAdjust="spacingAndGlyphs">ns</text>
<text x="205.50" y="172.40" font-size="6.4" fill="#555" text-anchor="middle" textLength="6.10" lengthAdjust="spacingAndGlyphs">ns</text>
<text x="216.20" y="172.40" font-size="6.4" fill="#555" text-anchor="middle" textLength="6.10" lengthAdjust="spacingAndGlyphs">ns</text>
<text x="226.80" y="172.40" font-size="6.4" fill="#555" text-anchor="middle" textLength="6.10" lengthAdjust="spacingAndGlyphs">ns</text>
<rect x="138.10" y="177.05" width="3.00" height="2.30" fill="#d4317a"/>
<text x="147.25" y="179.70" font-size="6.4" fill="#555" stroke="#555" stroke-width="0.2" text-anchor="middle" textLength="5.50" lengthAdjust="spacingAndGlyphs">vs</text>
<rect x="153.50" y="177.05" width="3.40" height="2.30" fill="#a0a0d4"/>
<text x="162.90" y="179.70" font-size="6.4" fill="#555" text-anchor="middle" textLength="6.10" lengthAdjust="spacingAndGlyphs">ns</text>
<text x="173.80" y="179.70" font-size="6.4" fill="#555" text-anchor="middle" textLength="6.10" lengthAdjust="spacingAndGlyphs">ns</text>
<text x="184.40" y="179.70" font-size="6.4" fill="#555" text-anchor="middle" textLength="6.10" lengthAdjust="spacingAndGlyphs">ns</text>
<circle cx="193.80" cy="178.40" r="0.60" fill="#444"/>
<circle cx="196.00" cy="178.40" r="0.60" fill="#444"/>
<text x="205.50" y="179.70" font-size="6.4" fill="#555" text-anchor="middle" textLength="6.10" lengthAdjust="spacingAndGlyphs">ns</text>
<text x="216.20" y="179.70" font-size="6.4" fill="#555" text-anchor="middle" textLength="6.10" lengthAdjust="spacingAndGlyphs">ns</text>
<text x="226.80" y="179.70" font-size="6.4" fill="#555" text-anchor="middle" textLength="6.10" lengthAdjust="spacingAndGlyphs">ns</text>
<line x1="157.70" y1="188.60" x2="157.70" y2="250.30" stroke="#222" stroke-width="0.9"/>
<line x1="155.50" y1="190.40" x2="157.70" y2="190.40" stroke="#222" stroke-width="0.9"/>
<text x="152.60" y="192.43" font-size="5.8" fill="#333" stroke="#333" stroke-width="0.15" text-anchor="end" textLength="10.50" lengthAdjust="spacingAndGlyphs">100</text>
<line x1="155.50" y1="199.40" x2="157.70" y2="199.40" stroke="#222" stroke-width="0.9"/>
<text x="152.60" y="201.43" font-size="5.8" fill="#333" stroke="#333" stroke-width="0.15" text-anchor="end" textLength="7.00" lengthAdjust="spacingAndGlyphs">80</text>
<line x1="155.50" y1="208.40" x2="157.70" y2="208.40" stroke="#222" stroke-width="0.9"/>
<text x="152.60" y="210.43" font-size="5.8" fill="#333" stroke="#333" stroke-width="0.15" text-anchor="end" textLength="7.00" lengthAdjust="spacingAndGlyphs">60</text>
<line x1="155.50" y1="217.40" x2="157.70" y2="217.40" stroke="#222" stroke-width="0.9"/>
<text x="152.60" y="219.43" font-size="5.8" fill="#333" stroke="#333" stroke-width="0.15" text-anchor="end" textLength="7.00" lengthAdjust="spacingAndGlyphs">40</text>
<line x1="155.50" y1="226.40" x2="157.70" y2="226.40" stroke="#222" stroke-width="0.9"/>
<text x="152.60" y="228.43" font-size="5.8" fill="#333" stroke="#333" stroke-width="0.15" text-anchor="end" textLength="7.00" lengthAdjust="spacingAndGlyphs">20</text>
<line x1="155.50" y1="235.40" x2="157.70" y2="235.40" stroke="#222" stroke-width="0.9"/>
<text x="152.60" y="237.43" font-size="5.8" fill="#333" stroke="#333" stroke-width="0.15" text-anchor="end" textLength="3.50" lengthAdjust="spacingAndGlyphs">0</text>
<line x1="155.50" y1="244.40" x2="157.70" y2="244.40" stroke="#222" stroke-width="0.9"/>
<text x="152.60" y="246.43" font-size="5.8" fill="#333" stroke="#333" stroke-width="0.15" text-anchor="end" textLength="10.15" lengthAdjust="spacingAndGlyphs">−20</text>
<line x1="157.70" y1="235.40" x2="229.00" y2="235.40" stroke="#222" stroke-width="0.9"/>
<line x1="163.40" y1="235.40" x2="163.40" y2="237.40" stroke="#222" stroke-width="0.9"/>
<line x1="173.85" y1="235.40" x2="173.85" y2="237.40" stroke="#222" stroke-width="0.9"/>
<line x1="184.30" y1="235.40" x2="184.30" y2="237.40" stroke="#222" stroke-width="0.9"/>
<line x1="194.75" y1="235.40" x2="194.75" y2="237.40" stroke="#222" stroke-width="0.9"/>
<line x1="205.20" y1="235.40" x2="205.20" y2="237.40" stroke="#222" stroke-width="0.9"/>
<line x1="215.65" y1="235.40" x2="215.65" y2="237.40" stroke="#222" stroke-width="0.9"/>
<line x1="226.10" y1="235.40" x2="226.10" y2="237.40" stroke="#222" stroke-width="0.9"/>
<text x="136.20" y="218.70" font-size="8.6" fill="#333" stroke="#333" stroke-width="0.2" text-anchor="middle" textLength="57.80" lengthAdjust="spacingAndGlyphs" transform="rotate(-90 136.20 218.70)">Rel. cytotoxicity (%)</text>
<line x1="161.40" y1="198.60" x2="167.30" y2="198.60" stroke="#c8c8c8" stroke-width="1.0"/>
<text x="169.80" y="201.20" font-size="7.2" fill="#333" stroke="#333" stroke-width="0.2" textLength="24.00" lengthAdjust="spacingAndGlyphs">TCR-KO</text>
<polyline points="163.40,235.40 173.85,237.65 184.30,240.80 194.75,239.00 205.20,239.90 215.65,242.15 226.10,245.30" fill="none" stroke="#cfcfcf" stroke-width="0.8" stroke-linejoin="round"/>
<polyline points="163.40,230.90 173.85,227.30 184.30,220.55 194.75,213.80 205.20,205.70 215.65,199.40 226.10,196.70" fill="none" stroke="#2c4a7e" stroke-width="0.9" stroke-linejoin="round"/>
<line x1="163.40" y1="228.65" x2="163.40" y2="233.15" stroke="#2c4a7e" stroke-width="0.5"/>
<line x1="162.50" y1="228.65" x2="164.30" y2="228.65" stroke="#2c4a7e" stroke-width="0.5"/>
<line x1="162.50" y1="233.15" x2="164.30" y2="233.15" stroke="#2c4a7e" stroke-width="0.5"/>
<line x1="173.85" y1="224.60" x2="173.85" y2="230.00" stroke="#2c4a7e" stroke-width="0.5"/>
<line x1="172.95" y1="224.60" x2="174.75" y2="224.60" stroke="#2c4a7e" stroke-width="0.5"/>
<line x1="172.95" y1="230.00" x2="174.75" y2="230.00" stroke="#2c4a7e" stroke-width="0.5"/>
<line x1="184.30" y1="216.95" x2="184.30" y2="224.15" stroke="#2c4a7e" stroke-width="0.5"/>
<line x1="183.40" y1="216.95" x2="185.20" y2="216.95" stroke="#2c4a7e" stroke-width="0.5"/>
<line x1="183.40" y1="224.15" x2="185.20" y2="224.15" stroke="#2c4a7e" stroke-width="0.5"/>
<line x1="194.75" y1="210.20" x2="194.75" y2="217.40" stroke="#2c4a7e" stroke-width="0.5"/>
<line x1="193.85" y1="210.20" x2="195.65" y2="210.20" stroke="#2c4a7e" stroke-width="0.5"/>
<line x1="193.85" y1="217.40" x2="195.65" y2="217.40" stroke="#2c4a7e" stroke-width="0.5"/>
<line x1="205.20" y1="201.20" x2="205.20" y2="210.20" stroke="#2c4a7e" stroke-width="0.5"/>
<line x1="204.30" y1="201.20" x2="206.10" y2="201.20" stroke="#2c4a7e" stroke-width="0.5"/>
<line x1="204.30" y1="210.20" x2="206.10" y2="210.20" stroke="#2c4a7e" stroke-width="0.5"/>
<line x1="215.65" y1="196.70" x2="215.65" y2="202.10" stroke="#2c4a7e" stroke-width="0.5"/>
<line x1="214.75" y1="196.70" x2="216.55" y2="196.70" stroke="#2c4a7e" stroke-width="0.5"/>
<line x1="214.75" y1="202.10" x2="216.55" y2="202.10" stroke="#2c4a7e" stroke-width="0.5"/>
<line x1="226.10" y1="194.90" x2="226.10" y2="198.50" stroke="#2c4a7e" stroke-width="0.5"/>
<line x1="225.20" y1="194.90" x2="227.00" y2="194.90" stroke="#2c4a7e" stroke-width="0.5"/>
<line x1="225.20" y1="198.50" x2="227.00" y2="198.50" stroke="#2c4a7e" stroke-width="0.5"/>
<polyline points="163.40,230.90 173.85,227.75 184.30,221.90 194.75,215.15 205.20,207.50 215.65,200.30 226.10,197.15" fill="none" stroke="#a6a6d8" stroke-width="0.9" stroke-linejoin="round"/>
<line x1="163.40" y1="228.65" x2="163.40" y2="233.15" stroke="#a6a6d8" stroke-width="0.5"/>
<line x1="162.50" y1="228.65" x2="164.30" y2="228.65" stroke="#a6a6d8" stroke-width="0.5"/>
<line x1="162.50" y1="233.15" x2="164.30" y2="233.15" stroke="#a6a6d8" stroke-width="0.5"/>
<line x1="173.85" y1="225.05" x2="173.85" y2="230.45" stroke="#a6a6d8" stroke-width="0.5"/>
<line x1="172.95" y1="225.05" x2="174.75" y2="225.05" stroke="#a6a6d8" stroke-width="0.5"/>
<line x1="172.95" y1="230.45" x2="174.75" y2="230.45" stroke="#a6a6d8" stroke-width="0.5"/>
<line x1="184.30" y1="219.20" x2="184.30" y2="224.60" stroke="#a6a6d8" stroke-width="0.5"/>
<line x1="183.40" y1="219.20" x2="185.20" y2="219.20" stroke="#a6a6d8" stroke-width="0.5"/>
<line x1="183.40" y1="224.60" x2="185.20" y2="224.60" stroke="#a6a6d8" stroke-width="0.5"/>
<line x1="194.75" y1="212.00" x2="194.75" y2="218.30" stroke="#a6a6d8" stroke-width="0.5"/>
<line x1="193.85" y1="212.00" x2="195.65" y2="212.00" stroke="#a6a6d8" stroke-width="0.5"/>
<line x1="193.85" y1="218.30" x2="195.65" y2="218.30" stroke="#a6a6d8" stroke-width="0.5"/>
<line x1="205.20" y1="203.90" x2="205.20" y2="211.10" stroke="#a6a6d8" stroke-width="0.5"/>
<line x1="204.30" y1="203.90" x2="206.10" y2="203.90" stroke="#a6a6d8" stroke-width="0.5"/>
<line x1="204.30" y1="211.10" x2="206.10" y2="211.10" stroke="#a6a6d8" stroke-width="0.5"/>
<line x1="215.65" y1="197.60" x2="215.65" y2="203.00" stroke="#a6a6d8" stroke-width="0.5"/>
<line x1="214.75" y1="197.60" x2="216.55" y2="197.60" stroke="#a6a6d8" stroke-width="0.5"/>
<line x1="214.75" y1="203.00" x2="216.55" y2="203.00" stroke="#a6a6d8" stroke-width="0.5"/>
<line x1="226.10" y1="195.35" x2="226.10" y2="198.95" stroke="#a6a6d8" stroke-width="0.5"/>
<line x1="225.20" y1="195.35" x2="227.00" y2="195.35" stroke="#a6a6d8" stroke-width="0.5"/>
<line x1="225.20" y1="198.95" x2="227.00" y2="198.95" stroke="#a6a6d8" stroke-width="0.5"/>
<polyline points="163.40,231.80 173.85,229.10 184.30,224.60 194.75,219.65 205.20,210.65 215.65,202.55 226.10,198.05" fill="none" stroke="#d4317a" stroke-width="0.9" stroke-linejoin="round"/>
<line x1="163.40" y1="230.00" x2="163.40" y2="233.60" stroke="#d4317a" stroke-width="0.5"/>
<line x1="162.50" y1="230.00" x2="164.30" y2="230.00" stroke="#d4317a" stroke-width="0.5"/>
<line x1="162.50" y1="233.60" x2="164.30" y2="233.60" stroke="#d4317a" stroke-width="0.5"/>
<line x1="173.85" y1="226.40" x2="173.85" y2="231.80" stroke="#d4317a" stroke-width="0.5"/>
<line x1="172.95" y1="226.40" x2="174.75" y2="226.40" stroke="#d4317a" stroke-width="0.5"/>
<line x1="172.95" y1="231.80" x2="174.75" y2="231.80" stroke="#d4317a" stroke-width="0.5"/>
<line x1="184.30" y1="221.45" x2="184.30" y2="227.75" stroke="#d4317a" stroke-width="0.5"/>
<line x1="183.40" y1="221.45" x2="185.20" y2="221.45" stroke="#d4317a" stroke-width="0.5"/>
<line x1="183.40" y1="227.75" x2="185.20" y2="227.75" stroke="#d4317a" stroke-width="0.5"/>
<line x1="194.75" y1="216.95" x2="194.75" y2="222.35" stroke="#d4317a" stroke-width="0.5"/>
<line x1="193.85" y1="216.95" x2="195.65" y2="216.95" stroke="#d4317a" stroke-width="0.5"/>
<line x1="193.85" y1="222.35" x2="195.65" y2="222.35" stroke="#d4317a" stroke-width="0.5"/>
<line x1="205.20" y1="207.05" x2="205.20" y2="214.25" stroke="#d4317a" stroke-width="0.5"/>
<line x1="204.30" y1="207.05" x2="206.10" y2="207.05" stroke="#d4317a" stroke-width="0.5"/>
<line x1="204.30" y1="214.25" x2="206.10" y2="214.25" stroke="#d4317a" stroke-width="0.5"/>
<line x1="215.65" y1="199.40" x2="215.65" y2="205.70" stroke="#d4317a" stroke-width="0.5"/>
<line x1="214.75" y1="199.40" x2="216.55" y2="199.40" stroke="#d4317a" stroke-width="0.5"/>
<line x1="214.75" y1="205.70" x2="216.55" y2="205.70" stroke="#d4317a" stroke-width="0.5"/>
<line x1="226.10" y1="196.70" x2="226.10" y2="199.40" stroke="#d4317a" stroke-width="0.5"/>
<line x1="225.20" y1="196.70" x2="227.00" y2="196.70" stroke="#d4317a" stroke-width="0.5"/>
<line x1="225.20" y1="199.40" x2="227.00" y2="199.40" stroke="#d4317a" stroke-width="0.5"/>
<text x="166.00" y="250.60" font-size="6.4" fill="#333" stroke="#333" stroke-width="0.15" text-anchor="end" transform="rotate(-46 166.00 250.60)">1/8 : 1 : 1</text>
<text x="176.45" y="250.60" font-size="6.4" fill="#333" stroke="#333" stroke-width="0.15" text-anchor="end" transform="rotate(-46 176.45 250.60)">1/4 : 1 : 1</text>
<text x="186.90" y="250.60" font-size="6.4" fill="#333" stroke="#333" stroke-width="0.15" text-anchor="end" transform="rotate(-46 186.90 250.60)">1/2 : 1 : 1</text>
<text x="197.35" y="250.60" font-size="6.4" fill="#333" stroke="#333" stroke-width="0.15" text-anchor="end" transform="rotate(-46 197.35 250.60)">1 : 1 : 1</text>
<text x="207.80" y="250.60" font-size="6.4" fill="#333" stroke="#333" stroke-width="0.15" text-anchor="end" transform="rotate(-46 207.80 250.60)">2 : 1 : 1</text>
<text x="218.25" y="250.60" font-size="6.4" fill="#333" stroke="#333" stroke-width="0.15" text-anchor="end" transform="rotate(-46 218.25 250.60)">4 : 1 : 1</text>
<text x="228.70" y="250.60" font-size="6.4" fill="#333" stroke="#333" stroke-width="0.15" text-anchor="end" transform="rotate(-46 228.70 250.60)">8 : 1 : 1</text>
<text x="171.00" y="280.60" font-size="8.9" fill="#333" stroke="#333" stroke-width="0.2" textLength="47.80" lengthAdjust="spacingAndGlyphs">E : T : C cell ratio</text>
<rect x="246.00" y="141.70" width="53.20" height="45.10" fill="#e8e8e8"/>
<text x="256.00" y="149.10" font-size="6.3" fill="#333" textLength="32.70" lengthAdjust="spacingAndGlyphs">CAR T cells</text>
<text x="268.30" y="157.90" font-size="6.3" fill="#333" textLength="28.50" lengthAdjust="spacingAndGlyphs">tumor cell</text>
<text x="269.00" y="163.30" font-size="6.3" fill="#333" textLength="26.90" lengthAdjust="spacingAndGlyphs">challenge</text>
<text x="255.50" y="179.00" font-size="6.3" fill="#333" textLength="33.00" lengthAdjust="spacingAndGlyphs">intracellular</text>
<text x="246.70" y="185.30" font-size="6.3" fill="#333" textLength="50.50" lengthAdjust="spacingAndGlyphs">staining after 16h</text>
<text x="253.30" y="161.00" font-size="5.8" fill="#333" text-anchor="middle" textLength="22.00" lengthAdjust="spacingAndGlyphs" transform="rotate(-90 253.30 161.00)">+Bref. A</text>
<line x1="255.70" y1="153.80" x2="255.70" y2="168.50" stroke="#333" stroke-width="0.7"/>
<path d="M254.5,168 L255.7,171 L256.9,168 Z" fill="#333"/>
<circle cx="257.30" cy="155.60" r="0.80" fill="#333"/>
<line x1="257.30" y1="155.60" x2="266.50" y2="155.60" stroke="#333" stroke-width="0.7"/>
<text x="344.80" y="150.60" font-size="8.3" fill="#222" textLength="122.70" lengthAdjust="spacingAndGlyphs">Intracellular cytokine expression</text>
<text x="347.00" y="160.10" font-size="6.5" fill="#333" textLength="12.70" lengthAdjust="spacingAndGlyphs">CD4</text>
<text x="452.20" y="160.40" font-size="6.5" fill="#333" textLength="13.00" lengthAdjust="spacingAndGlyphs">CD8</text>
<line x1="306.30" y1="162.20" x2="399.40" y2="162.20" stroke="#555" stroke-width="0.7"/>
<line x1="412.70" y1="161.80" x2="505.60" y2="161.80" stroke="#555" stroke-width="0.7"/>
<text x="315.90" y="171.30" font-size="6.4" fill="#3d5d9a" stroke="#3d5d9a" stroke-width="0.25" text-anchor="middle" textLength="15.60" lengthAdjust="spacingAndGlyphs" font-style="italic">TRAC</text>
<text x="315.90" y="178.10" font-size="6.4" fill="#3d5d9a" stroke="#3d5d9a" stroke-width="0.25" text-anchor="middle" textLength="12.80" lengthAdjust="spacingAndGlyphs">CAR</text>
<text x="351.00" y="171.30" font-size="6.4" fill="#d4317a" stroke="#d4317a" stroke-width="0.2" text-anchor="middle" textLength="16.80" lengthAdjust="spacingAndGlyphs" font-style="italic">CD3ζ</text>
<text x="350.20" y="178.10" font-size="6.4" fill="#d4317a" stroke="#d4317a" stroke-width="0.2" text-anchor="middle" textLength="27.60" lengthAdjust="spacingAndGlyphs"><tspan font-style="italic">trunc</tspan>CAR</text>
<text x="381.50" y="171.30" font-size="6.4" fill="#a0a0cc" stroke="#a0a0cc" stroke-width="0.2" text-anchor="middle" textLength="16.80" lengthAdjust="spacingAndGlyphs" font-style="italic">CD3ζ</text>
<text x="381.60" y="178.10" font-size="6.4" fill="#a0a0cc" stroke="#a0a0cc" stroke-width="0.2" text-anchor="middle" textLength="27.30" lengthAdjust="spacingAndGlyphs"><tspan font-style="italic">trunc</tspan>CAR</text>
<text x="395.40" y="175.50" font-size="3.8" fill="#b8b8d8" textLength="8.00" lengthAdjust="spacingAndGlyphs">GSG</text>
<text x="424.00" y="171.30" font-size="6.4" fill="#3d5d9a" stroke="#3d5d9a" stroke-width="0.25" text-anchor="middle" textLength="15.60" lengthAdjust="spacingAndGlyphs" font-style="italic">TRAC</text>
<text x="424.00" y="178.10" font-size="6.4" fill="#3d5d9a" stroke="#3d5d9a" stroke-width="0.25" text-anchor="middle" textLength="12.80" lengthAdjust="spacingAndGlyphs">CAR</text>
<text x="459.30" y="171.30" font-size="6.4" fill="#d4317a" stroke="#d4317a" stroke-width="0.2" text-anchor="middle" textLength="16.80" lengthAdjust="spacingAndGlyphs" font-style="italic">CD3ζ</text>
<text x="458.70" y="178.10" font-size="6.4" fill="#d4317a" stroke="#d4317a" stroke-width="0.2" text-anchor="middle" textLength="27.60" lengthAdjust="spacingAndGlyphs"><tspan font-style="italic">trunc</tspan>CAR</text>
<text x="489.60" y="171.30" font-size="6.4" fill="#a0a0cc" stroke="#a0a0cc" stroke-width="0.2" text-anchor="middle" textLength="16.80" lengthAdjust="spacingAndGlyphs" font-style="italic">CD3ζ</text>
<text x="490.80" y="178.10" font-size="6.4" fill="#a0a0cc" stroke="#a0a0cc" stroke-width="0.2" text-anchor="middle" textLength="27.30" lengthAdjust="spacingAndGlyphs"><tspan font-style="italic">trunc</tspan>CAR</text>
<text x="504.80" y="175.50" font-size="3.8" fill="#b8b8d8" textLength="8.00" lengthAdjust="spacingAndGlyphs">GSG</text>
<circle cx="317.20" cy="204.20" r="11.00" fill="#e6e6e6"/>
<line x1="317.20" y1="204.20" x2="317.20" y2="193.20" stroke="#fff" stroke-width="0.4"/>
<line x1="317.20" y1="199.20" x2="317.20" y2="188.20" stroke="#c89060" stroke-width="0.6"/>
<circle cx="349.80" cy="204.20" r="11.00" fill="#e6e6e6"/>
<line x1="349.80" y1="204.20" x2="349.80" y2="193.20" stroke="#fff" stroke-width="0.4"/>
<line x1="349.80" y1="192.70" x2="349.80" y2="190.20" stroke="#d8c8b8" stroke-width="0.4"/>
<circle cx="383.00" cy="204.20" r="11.00" fill="#e6e6e6"/>
<line x1="383.00" y1="204.20" x2="383.00" y2="193.20" stroke="#fff" stroke-width="0.4"/>
<line x1="383.00" y1="192.70" x2="383.00" y2="190.20" stroke="#d8c8b8" stroke-width="0.4"/>
<circle cx="423.00" cy="204.20" r="11.00" fill="#e6e6e6"/>
<line x1="423.00" y1="204.20" x2="423.00" y2="193.20" stroke="#fff" stroke-width="0.4"/>
<line x1="423.00" y1="199.20" x2="423.00" y2="188.20" stroke="#c89060" stroke-width="0.6"/>
<circle cx="456.00" cy="204.20" r="11.00" fill="#e6e6e6"/>
<line x1="456.00" y1="204.20" x2="456.00" y2="193.20" stroke="#fff" stroke-width="0.4"/>
<line x1="456.00" y1="192.70" x2="456.00" y2="190.20" stroke="#d8c8b8" stroke-width="0.4"/>
<circle cx="488.70" cy="204.20" r="11.00" fill="#e6e6e6"/>
<line x1="488.70" y1="204.20" x2="488.70" y2="193.20" stroke="#fff" stroke-width="0.4"/>
<line x1="488.70" y1="192.70" x2="488.70" y2="190.20" stroke="#d8c8b8" stroke-width="0.4"/>
<circle cx="317.20" cy="232.40" r="11.00" fill="#e6e6e6"/>
<path d="M317.20,232.40 L317.20,221.40 A11.0,11.0 0 0 1 326.73,226.90 Z" fill="#111"/>
<path d="M317.20,232.40 L326.73,226.90 A11.0,11.0 0 0 1 327.83,235.25 Z" fill="#8c8c8c"/>
<path d="M317.20,232.40 L327.83,235.25 A11.0,11.0 0 0 1 316.24,243.36 Z" fill="#bcbcbc"/>
<line x1="317.20" y1="232.40" x2="317.20" y2="221.40" stroke="#fff" stroke-width="0.4"/>
<path d="M317.20,220.20 A12.2,12.2 0 0 1 318.26,244.55" fill="none" stroke="#f2c624" stroke-width="0.75"/>
<path d="M317.20,219.10 A13.3,13.3 0 1 1 312.65,244.90" fill="none" stroke="#c8203e" stroke-width="0.75"/>
<path d="M317.20,218.00 A14.4,14.4 0 0 1 330.73,227.47" fill="none" stroke="#4a5a94" stroke-width="0.75"/>
<circle cx="349.80" cy="232.40" r="11.00" fill="#e6e6e6"/>
<path d="M349.80,232.40 L349.80,221.40 A11.0,11.0 0 0 1 355.30,222.87 Z" fill="#111"/>
<path d="M349.80,232.40 L355.30,222.87 A11.0,11.0 0 0 1 360.14,228.64 Z" fill="#8c8c8c"/>
<path d="M349.80,232.40 L360.14,228.64 A11.0,11.0 0 0 1 358.23,239.47 Z" fill="#bcbcbc"/>
<line x1="349.80" y1="232.40" x2="349.80" y2="221.40" stroke="#fff" stroke-width="0.4"/>
<path d="M349.80,220.20 A12.2,12.2 0 0 1 360.37,238.50" fill="none" stroke="#f2c624" stroke-width="0.75"/>
<path d="M349.80,219.10 A13.3,13.3 0 0 1 356.45,243.92" fill="none" stroke="#c8203e" stroke-width="0.75"/>
<path d="M349.80,218.00 A14.4,14.4 0 0 1 360.83,223.14" fill="none" stroke="#4a5a94" stroke-width="0.75"/>
<circle cx="383.00" cy="232.40" r="11.00" fill="#e6e6e6"/>
<path d="M383.00,232.40 L383.00,221.40 A11.0,11.0 0 0 1 393.63,229.55 Z" fill="#111"/>
<path d="M383.00,232.40 L393.63,229.55 A11.0,11.0 0 0 1 392.53,237.90 Z" fill="#8c8c8c"/>
<path d="M383.00,232.40 L392.53,237.90 A11.0,11.0 0 0 1 373.99,238.71 Z" fill="#bcbcbc"/>
<line x1="383.00" y1="232.40" x2="383.00" y2="221.40" stroke="#fff" stroke-width="0.4"/>
<path d="M383.00,220.20 A12.2,12.2 0 1 1 378.83,243.86" fill="none" stroke="#f2c624" stroke-width="0.75"/>
<path d="M383.00,219.10 A13.3,13.3 0 1 1 372.11,240.03" fill="none" stroke="#c8203e" stroke-width="0.75"/>
<path d="M383.00,218.00 A14.4,14.4 0 0 1 397.18,234.90" fill="none" stroke="#4a5a94" stroke-width="0.75"/>
<circle cx="423.00" cy="232.40" r="11.00" fill="#e6e6e6"/>
<path d="M423.00,232.40 L423.00,221.40 A11.0,11.0 0 0 1 426.76,222.06 Z" fill="#111"/>
<path d="M423.00,232.40 L426.76,222.06 A11.0,11.0 0 0 1 432.53,226.90 Z" fill="#8c8c8c"/>
<path d="M423.00,232.40 L432.53,226.90 A11.0,11.0 0 0 1 428.50,241.93 Z" fill="#bcbcbc"/>
<line x1="423.00" y1="232.40" x2="423.00" y2="221.40" stroke="#fff" stroke-width="0.4"/>
<path d="M423.00,220.20 A12.2,12.2 0 0 1 428.16,243.46" fill="none" stroke="#f2c624" stroke-width="0.75"/>
<path d="M423.00,219.10 A13.3,13.3 0 0 1 436.10,234.71" fill="none" stroke="#c8203e" stroke-width="0.75"/>
<path d="M423.00,218.00 A14.4,14.4 0 0 1 435.47,225.20" fill="none" stroke="#4a5a94" stroke-width="0.75"/>
<circle cx="456.00" cy="232.40" r="11.00" fill="#e6e6e6"/>
<path d="M456.00,232.40 L456.00,221.40 A11.0,11.0 0 0 1 456.96,221.44 Z" fill="#111"/>
<path d="M456.00,232.40 L456.96,221.44 A11.0,11.0 0 0 1 463.07,223.97 Z" fill="#8c8c8c"/>
<path d="M456.00,232.40 L463.07,223.97 A11.0,11.0 0 0 1 467.00,232.40 Z" fill="#bcbcbc"/>
<line x1="456.00" y1="232.40" x2="456.00" y2="221.40" stroke="#fff" stroke-width="0.4"/>
<path d="M456.00,220.20 A12.2,12.2 0 0 1 468.20,232.40" fill="none" stroke="#f2c624" stroke-width="0.75"/>
<path d="M456.00,219.10 A13.3,13.3 0 0 1 467.52,225.75" fill="none" stroke="#c8203e" stroke-width="0.75"/>
<path d="M456.00,218.00 A14.4,14.4 0 0 1 463.20,219.93" fill="none" stroke="#4a5a94" stroke-width="0.75"/>
<circle cx="488.70" cy="232.40" r="11.00" fill="#e6e6e6"/>
<path d="M488.70,232.40 L488.70,221.40 A11.0,11.0 0 0 1 492.46,222.06 Z" fill="#111"/>
<path d="M488.70,232.40 L492.46,222.06 A11.0,11.0 0 0 1 498.23,226.90 Z" fill="#8c8c8c"/>
<path d="M488.70,232.40 L498.23,226.90 A11.0,11.0 0 0 1 492.46,242.74 Z" fill="#bcbcbc"/>
<line x1="488.70" y1="232.40" x2="488.70" y2="221.40" stroke="#fff" stroke-width="0.4"/>
<path d="M488.70,220.20 A12.2,12.2 0 0 1 492.87,243.86" fill="none" stroke="#f2c624" stroke-width="0.75"/>
<path d="M488.70,219.10 A13.3,13.3 0 0 1 501.80,234.71" fill="none" stroke="#c8203e" stroke-width="0.75"/>
<path d="M488.70,218.00 A14.4,14.4 0 0 1 501.17,225.20" fill="none" stroke="#4a5a94" stroke-width="0.75"/>
<circle cx="317.20" cy="263.00" r="11.00" fill="#e6e6e6"/>
<path d="M317.20,263.00 L317.20,252.00 A11.0,11.0 0 0 1 324.27,254.57 Z" fill="#111"/>
<path d="M317.20,263.00 L324.27,254.57 A11.0,11.0 0 0 1 328.03,261.09 Z" fill="#8c8c8c"/>
<path d="M317.20,263.00 L328.03,261.09 A11.0,11.0 0 0 1 321.85,272.97 Z" fill="#bcbcbc"/>
<line x1="317.20" y1="263.00" x2="317.20" y2="252.00" stroke="#fff" stroke-width="0.4"/>
<path d="M317.20,250.80 A12.2,12.2 0 0 1 323.30,273.57" fill="none" stroke="#f2c624" stroke-width="0.75"/>
<path d="M317.20,249.70 A13.3,13.3 0 0 1 320.64,275.85" fill="none" stroke="#c8203e" stroke-width="0.75"/>
<path d="M317.20,248.60 A14.4,14.4 0 0 1 327.38,252.82" fill="none" stroke="#4a5a94" stroke-width="0.75"/>
<circle cx="349.80" cy="263.00" r="11.00" fill="#e6e6e6"/>
<path d="M349.80,263.00 L349.80,252.00 A11.0,11.0 0 0 1 354.45,253.03 Z" fill="#111"/>
<path d="M349.80,263.00 L354.45,253.03 A11.0,11.0 0 0 1 359.33,257.50 Z" fill="#8c8c8c"/>
<path d="M349.80,263.00 L359.33,257.50 A11.0,11.0 0 0 1 355.30,272.53 Z" fill="#bcbcbc"/>
<line x1="349.80" y1="263.00" x2="349.80" y2="252.00" stroke="#fff" stroke-width="0.4"/>
<path d="M349.80,250.80 A12.2,12.2 0 0 1 357.64,272.35" fill="none" stroke="#f2c624" stroke-width="0.75"/>
<path d="M349.80,249.70 A13.3,13.3 0 0 1 354.35,275.50" fill="none" stroke="#c8203e" stroke-width="0.75"/>
<path d="M349.80,248.60 A14.4,14.4 0 0 1 357.00,250.53" fill="none" stroke="#4a5a94" stroke-width="0.75"/>
<circle cx="383.00" cy="263.00" r="11.00" fill="#e6e6e6"/>
<path d="M383.00,263.00 L383.00,252.00 A11.0,11.0 0 0 1 391.43,255.93 Z" fill="#111"/>
<path d="M383.00,263.00 L391.43,255.93 A11.0,11.0 0 0 1 394.00,263.00 Z" fill="#8c8c8c"/>
<path d="M383.00,263.00 L394.00,263.00 A11.0,11.0 0 0 1 386.76,273.34 Z" fill="#bcbcbc"/>
<line x1="383.00" y1="263.00" x2="383.00" y2="252.00" stroke="#fff" stroke-width="0.4"/>
<path d="M383.00,250.80 A12.2,12.2 0 0 1 389.10,273.57" fill="none" stroke="#f2c624" stroke-width="0.75"/>
<path d="M383.00,249.70 A13.3,13.3 0 0 1 387.55,275.50" fill="none" stroke="#c8203e" stroke-width="0.75"/>
<path d="M383.00,248.60 A14.4,14.4 0 0 1 395.47,255.80" fill="none" stroke="#4a5a94" stroke-width="0.75"/>
<circle cx="423.00" cy="263.00" r="11.00" fill="#e6e6e6"/>
<path d="M423.00,263.00 L423.00,252.00 A11.0,11.0 0 0 1 425.85,252.37 Z" fill="#111"/>
<path d="M423.00,263.00 L425.85,252.37 A11.0,11.0 0 0 1 431.43,255.93 Z" fill="#8c8c8c"/>
<path d="M423.00,263.00 L431.43,255.93 A11.0,11.0 0 0 1 430.07,271.43 Z" fill="#bcbcbc"/>
<line x1="423.00" y1="263.00" x2="423.00" y2="252.00" stroke="#fff" stroke-width="0.4"/>
<path d="M423.00,250.80 A12.2,12.2 0 0 1 429.10,273.57" fill="none" stroke="#f2c624" stroke-width="0.75"/>
<path d="M423.00,249.70 A13.3,13.3 0 0 1 436.30,263.00" fill="none" stroke="#c8203e" stroke-width="0.75"/>
<path d="M423.00,248.60 A14.4,14.4 0 0 1 430.20,250.53" fill="none" stroke="#4a5a94" stroke-width="0.75"/>
<circle cx="456.00" cy="263.00" r="11.00" fill="#e6e6e6"/>
<path d="M456.00,263.00 L456.00,252.00 A11.0,11.0 0 0 1 456.96,252.04 Z" fill="#111"/>
<path d="M456.00,263.00 L456.96,252.04 A11.0,11.0 0 0 1 463.07,254.57 Z" fill="#8c8c8c"/>
<path d="M456.00,263.00 L463.07,254.57 A11.0,11.0 0 0 1 466.83,264.91 Z" fill="#bcbcbc"/>
<line x1="456.00" y1="263.00" x2="456.00" y2="252.00" stroke="#fff" stroke-width="0.4"/>
<path d="M456.00,250.80 A12.2,12.2 0 0 1 468.01,265.12" fill="none" stroke="#f2c624" stroke-width="0.75"/>
<path d="M456.00,249.70 A13.3,13.3 0 0 1 467.52,256.35" fill="none" stroke="#c8203e" stroke-width="0.75"/>
<path d="M456.00,248.60 A14.4,14.4 0 0 1 460.93,249.47" fill="none" stroke="#4a5a94" stroke-width="0.75"/>
<circle cx="488.70" cy="263.00" r="11.00" fill="#e6e6e6"/>
<path d="M488.70,263.00 L488.70,252.00 A11.0,11.0 0 0 1 491.55,252.37 Z" fill="#111"/>
<path d="M488.70,263.00 L491.55,252.37 A11.0,11.0 0 0 1 497.13,255.93 Z" fill="#8c8c8c"/>
<path d="M488.70,263.00 L497.13,255.93 A11.0,11.0 0 0 1 495.77,271.43 Z" fill="#bcbcbc"/>
<line x1="488.70" y1="263.00" x2="488.70" y2="252.00" stroke="#fff" stroke-width="0.4"/>
<path d="M488.70,250.80 A12.2,12.2 0 0 1 494.80,273.57" fill="none" stroke="#f2c624" stroke-width="0.75"/>
<path d="M488.70,249.70 A13.3,13.3 0 0 1 501.80,260.69" fill="none" stroke="#c8203e" stroke-width="0.75"/>
<path d="M488.70,248.60 A14.4,14.4 0 0 1 495.90,250.53" fill="none" stroke="#4a5a94" stroke-width="0.75"/>
<rect x="250.60" y="265.00" width="4.20" height="4.20" fill="#2a5a9a"/>
<text x="255.20" y="263.60" font-size="6.5" fill="#333" stroke="#333" stroke-width="0.08" textLength="10.80" lengthAdjust="spacingAndGlyphs" transform="rotate(-90 255.20 263.60)">TNFα</text>
<rect x="250.60" y="233.60" width="4.20" height="4.40" fill="#c8203e"/>
<text x="255.20" y="231.20" font-size="6.5" fill="#333" stroke="#333" stroke-width="0.08" textLength="11.60" lengthAdjust="spacingAndGlyphs" transform="rotate(-90 255.20 231.20)">IL-2</text>
<rect x="250.60" y="208.90" width="4.20" height="4.40" fill="#e8c030"/>
<text x="255.20" y="206.50" font-size="6.5" fill="#333" stroke="#333" stroke-width="0.08" textLength="13.90" lengthAdjust="spacingAndGlyphs" transform="rotate(-90 255.20 206.50)">IFNγ</text>
<text x="265.00" y="234.30" font-size="6.4" fill="#333" stroke="#333" stroke-width="0.08" text-anchor="middle" textLength="23.20" lengthAdjust="spacingAndGlyphs" transform="rotate(-90 265.00 234.30)">Number of</text>
<text x="272.20" y="230.85" font-size="6.6" fill="#333" stroke="#333" stroke-width="0.08" text-anchor="middle" textLength="57.90" lengthAdjust="spacingAndGlyphs" transform="rotate(-90 272.20 230.85)">expressed cytokines</text>
<rect x="275.30" y="259.80" width="4.20" height="4.60" fill="#111"/>
<text x="279.80" y="256.20" font-size="6.5" fill="#333" textLength="3.30" lengthAdjust="spacingAndGlyphs" transform="rotate(-90 279.80 256.20)">3</text>
<rect x="275.30" y="242.60" width="4.20" height="4.00" fill="#8c8c8c"/>
<text x="279.80" y="240.00" font-size="6.5" fill="#333" textLength="3.30" lengthAdjust="spacingAndGlyphs" transform="rotate(-90 279.80 240.00)">2</text>
<rect x="275.30" y="225.00" width="4.20" height="4.60" fill="#c8c8c8"/>
<text x="279.80" y="219.20" font-size="6.5" fill="#333" stroke="#333" stroke-width="0.2" textLength="2.60" lengthAdjust="spacingAndGlyphs" transform="rotate(-90 279.80 219.20)">1</text>
<rect x="275.30" y="203.40" width="4.20" height="4.60" fill="#e6e6e6"/>
<text x="279.80" y="200.60" font-size="6.5" fill="#333" textLength="3.30" lengthAdjust="spacingAndGlyphs" transform="rotate(-90 279.80 200.60)">0</text>
<text x="289.90" y="264.70" font-size="6.5" fill="#333" stroke="#333" stroke-width="0.08" text-anchor="middle" textLength="13.10" lengthAdjust="spacingAndGlyphs" transform="rotate(-90 289.90 264.70)">+Raji</text>
<text x="297.70" y="262.00" font-size="6.5" fill="#333" stroke="#333" stroke-width="0.08" text-anchor="middle" textLength="24.70" lengthAdjust="spacingAndGlyphs" transform="rotate(-90 297.70 262.00)">(CD19⁺)</text>
<text x="289.90" y="235.00" font-size="6.5" fill="#333" stroke="#333" stroke-width="0.08" text-anchor="middle" textLength="23.10" lengthAdjust="spacingAndGlyphs" transform="rotate(-90 289.90 235.00)">+Nalm-6</text>
<text x="297.70" y="230.50" font-size="6.5" fill="#333" stroke="#333" stroke-width="0.08" text-anchor="middle" textLength="23.10" lengthAdjust="spacingAndGlyphs" transform="rotate(-90 297.70 230.50)">(CD19⁺)</text>
<text x="289.90" y="203.00" font-size="6.5" fill="#333" stroke="#333" stroke-width="0.08" text-anchor="middle" textLength="20.90" lengthAdjust="spacingAndGlyphs" transform="rotate(-90 289.90 203.00)">+Jurkat</text>
<text x="297.70" y="198.80" font-size="6.5" fill="#333" stroke="#333" stroke-width="0.08" text-anchor="middle" textLength="21.60" lengthAdjust="spacingAndGlyphs" transform="rotate(-90 297.70 198.80)">(CD19⁻)</text>
<rect x="21.40" y="309.60" width="83.20" height="29.20" fill="#e8e8e8"/>
<text x="23.20" y="316.90" font-size="6.4" fill="#333" textLength="32.40" lengthAdjust="spacingAndGlyphs">CAR T cells</text>
<text x="43.30" y="323.60" font-size="6.4" fill="#333" textLength="52.10" lengthAdjust="spacingAndGlyphs">1× / week Nalm-6</text>
<text x="43.30" y="329.70" font-size="6.4" fill="#333" textLength="57.70" lengthAdjust="spacingAndGlyphs">tumor cell challenge</text>
<text x="23.20" y="336.10" font-size="6.4" fill="#333" textLength="21.10" lengthAdjust="spacingAndGlyphs">analysis</text>
<line x1="23.80" y1="319.50" x2="23.80" y2="330.00" stroke="#333" stroke-width="0.6"/>
<path d="M22.9,329.6 L23.8,331.6 L24.7,329.6 Z" fill="#333"/>
<circle cx="25.60" cy="320.40" r="0.60" fill="#222"/>
<line x1="26.20" y1="320.40" x2="40.60" y2="320.40" stroke="#333" stroke-width="0.75"/>
<circle cx="25.60" cy="323.00" r="0.60" fill="#222"/>
<line x1="26.20" y1="323.00" x2="40.60" y2="323.00" stroke="#333" stroke-width="0.75"/>
<circle cx="25.60" cy="325.80" r="0.60" fill="#222"/>
<line x1="26.20" y1="325.80" x2="40.60" y2="325.80" stroke="#333" stroke-width="0.75"/>
<circle cx="25.60" cy="328.60" r="0.60" fill="#222"/>
<line x1="26.20" y1="328.60" x2="40.60" y2="328.60" stroke="#333" stroke-width="0.75"/>
<text x="13.00" y="357.40" font-size="6.4" fill="#333" stroke="#333" stroke-width="0.2" textLength="11.50" lengthAdjust="spacingAndGlyphs">CAR</text>
<text x="13.00" y="364.60" font-size="6.4" fill="#333" textLength="13.20" lengthAdjust="spacingAndGlyphs">Expr.</text>
<line x1="81.70" y1="350.60" x2="81.70" y2="390.60" stroke="#222" stroke-width="0.9"/>
<line x1="79.50" y1="390.60" x2="81.70" y2="390.60" stroke="#222" stroke-width="0.9"/>
<text x="75.90" y="392.84" font-size="6.4" fill="#333" stroke="#333" stroke-width="0.15" text-anchor="end" textLength="3.70" lengthAdjust="spacingAndGlyphs">0</text>
<line x1="79.50" y1="378.34" x2="81.70" y2="378.34" stroke="#222" stroke-width="0.9"/>
<text x="75.90" y="380.58" font-size="6.4" fill="#333" stroke="#333" stroke-width="0.15" text-anchor="end" textLength="7.40" lengthAdjust="spacingAndGlyphs">50</text>
<line x1="79.50" y1="366.07" x2="81.70" y2="366.07" stroke="#222" stroke-width="0.9"/>
<text x="75.90" y="368.31" font-size="6.4" fill="#333" stroke="#333" stroke-width="0.15" text-anchor="end" textLength="11.10" lengthAdjust="spacingAndGlyphs">100</text>
<line x1="79.50" y1="353.81" x2="81.70" y2="353.81" stroke="#222" stroke-width="0.9"/>
<text x="75.90" y="356.05" font-size="6.4" fill="#333" stroke="#333" stroke-width="0.15" text-anchor="end" textLength="11.10" lengthAdjust="spacingAndGlyphs">150</text>
<line x1="81.70" y1="390.60" x2="110.80" y2="390.60" stroke="#222" stroke-width="0.9"/>
<line x1="87.50" y1="390.60" x2="87.50" y2="392.60" stroke="#222" stroke-width="0.9"/>
<line x1="96.50" y1="390.60" x2="96.50" y2="392.60" stroke="#222" stroke-width="0.9"/>
<line x1="105.70" y1="390.60" x2="105.70" y2="392.60" stroke="#222" stroke-width="0.9"/>
<text x="53.60" y="370.00" font-size="7.2" fill="#333" stroke="#333" stroke-width="0.2" text-anchor="middle" textLength="57.50" lengthAdjust="spacingAndGlyphs" transform="rotate(-90 53.60 370.00)">Norm. CAR MFI (%)</text>
<text x="58.60" y="370.00" font-size="7.2" fill="#333" text-anchor="middle" textLength="45.50" lengthAdjust="spacingAndGlyphs" transform="rotate(-90 58.60 370.00)">post expansion</text>
<rect x="87.71" y="363.75" width="1.8" height="1.8" fill="#3b6aa8" transform="rotate(45 88.61 364.65)"/>
<rect x="88.58" y="362.57" width="1.8" height="1.8" fill="#3b6aa8" transform="rotate(45 89.48 363.47)"/>
<rect x="88.30" y="362.68" width="1.8" height="1.8" fill="#3b6aa8" transform="rotate(45 89.20 363.58)"/>
<rect x="84.75" y="365.37" width="1.8" height="1.8" fill="#3b6aa8" transform="rotate(45 85.65 366.27)"/>
<rect x="89.32" y="364.29" width="1.8" height="1.8" fill="#3b6aa8" transform="rotate(45 90.22 365.19)"/>
<rect x="89.10" y="367.45" width="1.8" height="1.8" fill="#3b6aa8" transform="rotate(45 90.00 368.35)"/>
<rect x="86.95" y="366.66" width="1.8" height="1.8" fill="#3b6aa8" transform="rotate(45 87.85 367.56)"/>
<rect x="87.32" y="364.73" width="1.8" height="1.8" fill="#3b6aa8" transform="rotate(45 88.22 365.63)"/>
<rect x="93.47" y="379.46" width="1.8" height="1.8" fill="#d4317a" transform="rotate(45 94.37 380.36)"/>
<rect x="94.80" y="378.09" width="1.8" height="1.8" fill="#d4317a" transform="rotate(45 95.70 378.99)"/>
<rect x="97.23" y="379.57" width="1.8" height="1.8" fill="#d4317a" transform="rotate(45 98.13 380.47)"/>
<rect x="97.39" y="379.62" width="1.8" height="1.8" fill="#d4317a" transform="rotate(45 98.29 380.52)"/>
<rect x="96.49" y="379.64" width="1.8" height="1.8" fill="#d4317a" transform="rotate(45 97.39 380.54)"/>
<rect x="93.41" y="378.18" width="1.8" height="1.8" fill="#d4317a" transform="rotate(45 94.31 379.08)"/>
<rect x="94.45" y="379.47" width="1.8" height="1.8" fill="#d4317a" transform="rotate(45 95.35 380.37)"/>
<rect x="98.31" y="378.18" width="1.8" height="1.8" fill="#d4317a" transform="rotate(45 99.21 379.08)"/>
<rect x="103.75" y="364.59" width="1.8" height="1.8" fill="#a0a0d4" transform="rotate(45 104.65 365.49)"/>
<rect x="105.00" y="365.70" width="1.8" height="1.8" fill="#a0a0d4" transform="rotate(45 105.90 366.60)"/>
<rect x="103.32" y="364.67" width="1.8" height="1.8" fill="#a0a0d4" transform="rotate(45 104.22 365.57)"/>
<rect x="105.75" y="364.57" width="1.8" height="1.8" fill="#a0a0d4" transform="rotate(45 106.65 365.47)"/>
<rect x="106.77" y="367.19" width="1.8" height="1.8" fill="#a0a0d4" transform="rotate(45 107.67 368.09)"/>
<rect x="104.11" y="367.71" width="1.8" height="1.8" fill="#a0a0d4" transform="rotate(45 105.01 368.61)"/>
<rect x="103.03" y="368.10" width="1.8" height="1.8" fill="#a0a0d4" transform="rotate(45 103.93 369.00)"/>
<rect x="103.81" y="365.99" width="1.8" height="1.8" fill="#a0a0d4" transform="rotate(45 104.71 366.89)"/>
<path d="M87.6,360.0 L87.6,357.6 L96.2,357.6 L96.2,360.0" fill="none" stroke="#444" stroke-width="0.5"/>
<path d="M97.0,360.0 L97.0,357.6 L105.7,357.6 L105.7,360.0" fill="none" stroke="#444" stroke-width="0.5"/>
<circle cx="89.80" cy="354.90" r="0.62" fill="#333"/>
<circle cx="91.90" cy="354.90" r="0.62" fill="#333"/>
<circle cx="94.00" cy="354.90" r="0.62" fill="#333"/>
<circle cx="99.20" cy="354.90" r="0.62" fill="#333"/>
<circle cx="101.30" cy="354.90" r="0.62" fill="#333"/>
<circle cx="103.40" cy="354.90" r="0.62" fill="#333"/>
<path d="M87.6,352.6 L87.6,350.6 L105.7,350.6 L105.7,352.6" fill="none" stroke="#444" stroke-width="0.5"/>
<text x="96.60" y="349.00" font-size="6.4" fill="#333" stroke="#333" stroke-width="0.2" text-anchor="middle" textLength="6.00" lengthAdjust="spacingAndGlyphs">ns</text>
<line x1="44.50" y1="386.00" x2="44.50" y2="425.60" stroke="#222" stroke-width="0.9"/>
<line x1="42.30" y1="425.20" x2="44.50" y2="425.20" stroke="#222" stroke-width="0.9"/>
<text x="38.30" y="427.44" font-size="6.4" fill="#333" stroke="#333" stroke-width="0.15" text-anchor="end" textLength="3.40" lengthAdjust="spacingAndGlyphs">0</text>
<line x1="42.30" y1="417.90" x2="44.50" y2="417.90" stroke="#222" stroke-width="0.9"/>
<text x="38.30" y="420.14" font-size="6.4" fill="#333" stroke="#333" stroke-width="0.15" text-anchor="end" textLength="6.80" lengthAdjust="spacingAndGlyphs">50</text>
<line x1="42.30" y1="410.60" x2="44.50" y2="410.60" stroke="#222" stroke-width="0.9"/>
<text x="38.30" y="412.84" font-size="6.4" fill="#333" stroke="#333" stroke-width="0.15" text-anchor="end" textLength="10.20" lengthAdjust="spacingAndGlyphs">100</text>
<line x1="42.30" y1="403.30" x2="44.50" y2="403.30" stroke="#222" stroke-width="0.9"/>
<text x="38.30" y="405.54" font-size="6.4" fill="#333" stroke="#333" stroke-width="0.15" text-anchor="end" textLength="10.20" lengthAdjust="spacingAndGlyphs">150</text>
<line x1="42.30" y1="396.00" x2="44.50" y2="396.00" stroke="#222" stroke-width="0.9"/>
<text x="38.30" y="398.24" font-size="6.4" fill="#333" stroke="#333" stroke-width="0.15" text-anchor="end" textLength="10.20" lengthAdjust="spacingAndGlyphs">200</text>
<line x1="42.30" y1="388.70" x2="44.50" y2="388.70" stroke="#222" stroke-width="0.9"/>
<text x="38.30" y="390.94" font-size="6.4" fill="#333" stroke="#333" stroke-width="0.15" text-anchor="end" textLength="10.20" lengthAdjust="spacingAndGlyphs">250</text>
<line x1="44.50" y1="425.60" x2="113.00" y2="425.60" stroke="#222" stroke-width="0.9"/>
<line x1="44.50" y1="425.60" x2="44.50" y2="427.80" stroke="#222" stroke-width="0.9"/>
<text x="44.50" y="437.20" font-size="6.4" fill="#333" stroke="#333" stroke-width="0.15" text-anchor="middle" textLength="3.40" lengthAdjust="spacingAndGlyphs">0</text>
<line x1="57.90" y1="425.60" x2="57.90" y2="427.80" stroke="#222" stroke-width="0.9"/>
<text x="57.90" y="437.20" font-size="6.4" fill="#333" stroke="#333" stroke-width="0.15" text-anchor="middle" textLength="6.80" lengthAdjust="spacingAndGlyphs">10</text>
<line x1="71.30" y1="425.60" x2="71.30" y2="427.80" stroke="#222" stroke-width="0.9"/>
<text x="71.30" y="437.20" font-size="6.4" fill="#333" stroke="#333" stroke-width="0.15" text-anchor="middle" textLength="6.80" lengthAdjust="spacingAndGlyphs">20</text>
<line x1="84.70" y1="425.60" x2="84.70" y2="427.80" stroke="#222" stroke-width="0.9"/>
<text x="84.70" y="437.20" font-size="6.4" fill="#333" stroke="#333" stroke-width="0.15" text-anchor="middle" textLength="6.80" lengthAdjust="spacingAndGlyphs">30</text>
<line x1="98.10" y1="425.60" x2="98.10" y2="427.80" stroke="#222" stroke-width="0.9"/>
<text x="98.10" y="437.20" font-size="6.4" fill="#333" stroke="#333" stroke-width="0.15" text-anchor="middle" textLength="6.80" lengthAdjust="spacingAndGlyphs">40</text>
<line x1="111.50" y1="425.60" x2="111.50" y2="427.80" stroke="#222" stroke-width="0.9"/>
<text x="111.50" y="437.20" font-size="6.4" fill="#333" stroke="#333" stroke-width="0.15" text-anchor="middle" textLength="6.80" lengthAdjust="spacingAndGlyphs">50</text>
<text x="67.00" y="449.20" font-size="8.8" fill="#333" stroke="#333" stroke-width="0.2" textLength="24.30" lengthAdjust="spacingAndGlyphs">Time (h)</text>
<text x="14.30" y="405.00" font-size="7.8" fill="#333" stroke="#333" stroke-width="0.2" text-anchor="middle" textLength="57.00" lengthAdjust="spacingAndGlyphs" transform="rotate(-90 14.30 405.00)">CAR MFI rel. to start</text>
<text x="22.60" y="403.80" font-size="7.8" fill="#333" stroke="#333" stroke-width="0.2" text-anchor="middle" textLength="50.00" lengthAdjust="spacingAndGlyphs" transform="rotate(-90 22.60 403.80)">of <tspan font-style="italic">TRAC CAR</tspan> (%)</text>
<polyline points="44.50,411.33 52.54,419.36 60.58,414.98 76.66,406.95 108.82,400.38" fill="none" stroke="#a9a9d8" stroke-width="0.9" stroke-linejoin="round"/>
<line x1="44.50" y1="409.87" x2="44.50" y2="412.79" stroke="#a9a9d8" stroke-width="0.5"/>
<line x1="43.60" y1="409.87" x2="45.40" y2="409.87" stroke="#a9a9d8" stroke-width="0.5"/>
<line x1="43.60" y1="412.79" x2="45.40" y2="412.79" stroke="#a9a9d8" stroke-width="0.5"/>
<circle cx="44.50" cy="411.33" r="0.80" fill="#a9a9d8"/>
<line x1="52.54" y1="418.19" x2="52.54" y2="420.53" stroke="#a9a9d8" stroke-width="0.5"/>
<line x1="51.64" y1="418.19" x2="53.44" y2="418.19" stroke="#a9a9d8" stroke-width="0.5"/>
<line x1="51.64" y1="420.53" x2="53.44" y2="420.53" stroke="#a9a9d8" stroke-width="0.5"/>
<circle cx="52.54" cy="419.36" r="0.80" fill="#a9a9d8"/>
<line x1="60.58" y1="412.06" x2="60.58" y2="417.90" stroke="#a9a9d8" stroke-width="0.5"/>
<line x1="59.68" y1="412.06" x2="61.48" y2="412.06" stroke="#a9a9d8" stroke-width="0.5"/>
<line x1="59.68" y1="417.90" x2="61.48" y2="417.90" stroke="#a9a9d8" stroke-width="0.5"/>
<circle cx="60.58" cy="414.98" r="0.80" fill="#a9a9d8"/>
<line x1="76.66" y1="401.11" x2="76.66" y2="412.79" stroke="#a9a9d8" stroke-width="0.5"/>
<line x1="75.76" y1="401.11" x2="77.56" y2="401.11" stroke="#a9a9d8" stroke-width="0.5"/>
<line x1="75.76" y1="412.79" x2="77.56" y2="412.79" stroke="#a9a9d8" stroke-width="0.5"/>
<circle cx="76.66" cy="406.95" r="0.80" fill="#a9a9d8"/>
<line x1="108.82" y1="391.62" x2="108.82" y2="409.14" stroke="#a9a9d8" stroke-width="0.5"/>
<line x1="107.92" y1="391.62" x2="109.72" y2="391.62" stroke="#a9a9d8" stroke-width="0.5"/>
<line x1="107.92" y1="409.14" x2="109.72" y2="409.14" stroke="#a9a9d8" stroke-width="0.5"/>
<circle cx="108.82" cy="400.38" r="0.80" fill="#a9a9d8"/>
<polyline points="44.50,411.33 52.54,418.63 60.58,414.25 76.66,410.60 108.82,407.68" fill="none" stroke="#3b5f95" stroke-width="0.9" stroke-linejoin="round"/>
<line x1="44.50" y1="409.87" x2="44.50" y2="412.79" stroke="#3b5f95" stroke-width="0.5"/>
<line x1="43.60" y1="409.87" x2="45.40" y2="409.87" stroke="#3b5f95" stroke-width="0.5"/>
<line x1="43.60" y1="412.79" x2="45.40" y2="412.79" stroke="#3b5f95" stroke-width="0.5"/>
<circle cx="44.50" cy="411.33" r="0.80" fill="#3b5f95"/>
<line x1="52.54" y1="417.17" x2="52.54" y2="420.09" stroke="#3b5f95" stroke-width="0.5"/>
<line x1="51.64" y1="417.17" x2="53.44" y2="417.17" stroke="#3b5f95" stroke-width="0.5"/>
<line x1="51.64" y1="420.09" x2="53.44" y2="420.09" stroke="#3b5f95" stroke-width="0.5"/>
<circle cx="52.54" cy="418.63" r="0.80" fill="#3b5f95"/>
<line x1="60.58" y1="410.60" x2="60.58" y2="417.90" stroke="#3b5f95" stroke-width="0.5"/>
<line x1="59.68" y1="410.60" x2="61.48" y2="410.60" stroke="#3b5f95" stroke-width="0.5"/>
<line x1="59.68" y1="417.90" x2="61.48" y2="417.90" stroke="#3b5f95" stroke-width="0.5"/>
<circle cx="60.58" cy="414.25" r="0.80" fill="#3b5f95"/>
<line x1="76.66" y1="403.30" x2="76.66" y2="417.90" stroke="#3b5f95" stroke-width="0.5"/>
<line x1="75.76" y1="403.30" x2="77.56" y2="403.30" stroke="#3b5f95" stroke-width="0.5"/>
<line x1="75.76" y1="417.90" x2="77.56" y2="417.90" stroke="#3b5f95" stroke-width="0.5"/>
<circle cx="76.66" cy="410.60" r="0.80" fill="#3b5f95"/>
<line x1="108.82" y1="403.30" x2="108.82" y2="412.06" stroke="#3b5f95" stroke-width="0.5"/>
<line x1="107.92" y1="403.30" x2="109.72" y2="403.30" stroke="#3b5f95" stroke-width="0.5"/>
<line x1="107.92" y1="412.06" x2="109.72" y2="412.06" stroke="#3b5f95" stroke-width="0.5"/>
<circle cx="108.82" cy="407.68" r="0.80" fill="#3b5f95"/>
<polyline points="44.50,420.09 52.54,423.01 60.58,422.28 76.66,420.82 108.82,420.09" fill="none" stroke="#d4317a" stroke-width="0.9" stroke-linejoin="round"/>
<line x1="44.50" y1="418.63" x2="44.50" y2="421.55" stroke="#d4317a" stroke-width="0.5"/>
<line x1="43.60" y1="418.63" x2="45.40" y2="418.63" stroke="#d4317a" stroke-width="0.5"/>
<line x1="43.60" y1="421.55" x2="45.40" y2="421.55" stroke="#d4317a" stroke-width="0.5"/>
<circle cx="44.50" cy="420.09" r="0.80" fill="#d4317a"/>
<line x1="52.54" y1="422.28" x2="52.54" y2="423.74" stroke="#d4317a" stroke-width="0.5"/>
<line x1="51.64" y1="422.28" x2="53.44" y2="422.28" stroke="#d4317a" stroke-width="0.5"/>
<line x1="51.64" y1="423.74" x2="53.44" y2="423.74" stroke="#d4317a" stroke-width="0.5"/>
<circle cx="52.54" cy="423.01" r="0.80" fill="#d4317a"/>
<line x1="60.58" y1="421.11" x2="60.58" y2="423.45" stroke="#d4317a" stroke-width="0.5"/>
<line x1="59.68" y1="421.11" x2="61.48" y2="421.11" stroke="#d4317a" stroke-width="0.5"/>
<line x1="59.68" y1="423.45" x2="61.48" y2="423.45" stroke="#d4317a" stroke-width="0.5"/>
<circle cx="60.58" cy="422.28" r="0.80" fill="#d4317a"/>
<line x1="76.66" y1="418.63" x2="76.66" y2="423.01" stroke="#d4317a" stroke-width="0.5"/>
<line x1="75.76" y1="418.63" x2="77.56" y2="418.63" stroke="#d4317a" stroke-width="0.5"/>
<line x1="75.76" y1="423.01" x2="77.56" y2="423.01" stroke="#d4317a" stroke-width="0.5"/>
<circle cx="76.66" cy="420.82" r="0.80" fill="#d4317a"/>
<line x1="108.82" y1="417.17" x2="108.82" y2="423.01" stroke="#d4317a" stroke-width="0.5"/>
<line x1="107.92" y1="417.17" x2="109.72" y2="417.17" stroke="#d4317a" stroke-width="0.5"/>
<line x1="107.92" y1="423.01" x2="109.72" y2="423.01" stroke="#d4317a" stroke-width="0.5"/>
<circle cx="108.82" cy="420.09" r="0.80" fill="#d4317a"/>
<text x="170.40" y="317.20" font-size="8.3" fill="#222" textLength="45.30" lengthAdjust="spacingAndGlyphs">Cytotoxicity</text>
<text x="167.00" y="326.20" font-size="8.3" fill="#222" textLength="50.90" lengthAdjust="spacingAndGlyphs">(VITAL Assay)</text>
<rect x="133.40" y="331.25" width="3.00" height="2.30" fill="#2c4a7e"/>
<text x="144.10" y="333.90" font-size="6.4" fill="#555" stroke="#555" stroke-width="0.2" text-anchor="middle" textLength="5.50" lengthAdjust="spacingAndGlyphs">vs.</text>
<rect x="151.10" y="331.25" width="3.40" height="2.30" fill="#d4317a"/>
<circle cx="160.90" cy="332.60" r="0.60" fill="#444"/>
<text x="171.50" y="333.90" font-size="6.4" fill="#555" text-anchor="middle" textLength="6.10" lengthAdjust="spacingAndGlyphs">ns</text>
<text x="182.00" y="333.90" font-size="6.4" fill="#555" text-anchor="middle" textLength="6.10" lengthAdjust="spacingAndGlyphs">ns</text>
<text x="192.50" y="333.90" font-size="6.4" fill="#555" text-anchor="middle" textLength="6.10" lengthAdjust="spacingAndGlyphs">ns</text>
<circle cx="203.10" cy="332.60" r="0.60" fill="#444"/>
<text x="213.60" y="333.90" font-size="6.4" fill="#555" text-anchor="middle" textLength="6.10" lengthAdjust="spacingAndGlyphs">ns</text>
<text x="224.30" y="333.90" font-size="6.4" fill="#555" text-anchor="middle" textLength="6.10" lengthAdjust="spacingAndGlyphs">ns</text>
<rect x="133.40" y="336.65" width="3.00" height="2.30" fill="#2c4a7e"/>
<text x="144.10" y="339.30" font-size="6.4" fill="#555" stroke="#555" stroke-width="0.2" text-anchor="middle" textLength="5.50" lengthAdjust="spacingAndGlyphs">vs.</text>
<rect x="151.10" y="336.65" width="3.40" height="2.30" fill="#a0a0d4"/>
<text x="160.90" y="339.30" font-size="6.4" fill="#555" text-anchor="middle" textLength="6.10" lengthAdjust="spacingAndGlyphs">ns</text>
<text x="171.50" y="339.30" font-size="6.4" fill="#555" text-anchor="middle" textLength="6.10" lengthAdjust="spacingAndGlyphs">ns</text>
<text x="182.00" y="339.30" font-size="6.4" fill="#555" text-anchor="middle" textLength="6.10" lengthAdjust="spacingAndGlyphs">ns</text>
<text x="192.50" y="339.30" font-size="6.4" fill="#555" text-anchor="middle" textLength="6.10" lengthAdjust="spacingAndGlyphs">ns</text>
<text x="203.10" y="339.30" font-size="6.4" fill="#555" text-anchor="middle" textLength="6.10" lengthAdjust="spacingAndGlyphs">ns</text>
<text x="213.60" y="339.30" font-size="6.4" fill="#555" text-anchor="middle" textLength="6.10" lengthAdjust="spacingAndGlyphs">ns</text>
<text x="224.30" y="339.30" font-size="6.4" fill="#555" text-anchor="middle" textLength="6.10" lengthAdjust="spacingAndGlyphs">ns</text>
<rect x="133.40" y="341.85" width="3.00" height="2.30" fill="#d4317a"/>
<text x="144.10" y="344.50" font-size="6.4" fill="#555" stroke="#555" stroke-width="0.2" text-anchor="middle" textLength="5.50" lengthAdjust="spacingAndGlyphs">vs.</text>
<rect x="151.10" y="341.85" width="3.40" height="2.30" fill="#a0a0d4"/>
<text x="160.90" y="344.50" font-size="6.4" fill="#555" text-anchor="middle" textLength="6.10" lengthAdjust="spacingAndGlyphs">ns</text>
<circle cx="171.50" cy="343.20" r="0.60" fill="#444"/>
<text x="182.00" y="344.50" font-size="6.4" fill="#555" text-anchor="middle" textLength="6.10" lengthAdjust="spacingAndGlyphs">ns</text>
<text x="192.50" y="344.50" font-size="6.4" fill="#555" text-anchor="middle" textLength="6.10" lengthAdjust="spacingAndGlyphs">ns</text>
<text x="203.10" y="344.50" font-size="6.4" fill="#555" text-anchor="middle" textLength="6.10" lengthAdjust="spacingAndGlyphs">ns</text>
<text x="213.60" y="344.50" font-size="6.4" fill="#555" text-anchor="middle" textLength="6.10" lengthAdjust="spacingAndGlyphs">ns</text>
<text x="224.30" y="344.50" font-size="6.4" fill="#555" text-anchor="middle" textLength="6.10" lengthAdjust="spacingAndGlyphs">ns</text>
<line x1="155.60" y1="348.40" x2="155.60" y2="408.80" stroke="#222" stroke-width="0.9"/>
<line x1="153.40" y1="350.90" x2="155.60" y2="350.90" stroke="#222" stroke-width="0.9"/>
<text x="149.70" y="352.82" font-size="5.5" fill="#333" stroke="#333" stroke-width="0.15" text-anchor="end" textLength="8.61" lengthAdjust="spacingAndGlyphs">100</text>
<line x1="153.40" y1="361.00" x2="155.60" y2="361.00" stroke="#222" stroke-width="0.9"/>
<text x="149.70" y="362.93" font-size="5.5" fill="#333" stroke="#333" stroke-width="0.15" text-anchor="end" textLength="5.74" lengthAdjust="spacingAndGlyphs">80</text>
<line x1="153.40" y1="371.10" x2="155.60" y2="371.10" stroke="#222" stroke-width="0.9"/>
<text x="149.70" y="373.02" font-size="5.5" fill="#333" stroke="#333" stroke-width="0.15" text-anchor="end" textLength="5.74" lengthAdjust="spacingAndGlyphs">60</text>
<line x1="153.40" y1="381.20" x2="155.60" y2="381.20" stroke="#222" stroke-width="0.9"/>
<text x="149.70" y="383.12" font-size="5.5" fill="#333" stroke="#333" stroke-width="0.15" text-anchor="end" textLength="5.74" lengthAdjust="spacingAndGlyphs">40</text>
<line x1="153.40" y1="391.30" x2="155.60" y2="391.30" stroke="#222" stroke-width="0.9"/>
<text x="149.70" y="393.22" font-size="5.5" fill="#333" stroke="#333" stroke-width="0.15" text-anchor="end" textLength="5.74" lengthAdjust="spacingAndGlyphs">20</text>
<line x1="153.40" y1="401.40" x2="155.60" y2="401.40" stroke="#222" stroke-width="0.9"/>
<text x="149.70" y="403.32" font-size="5.5" fill="#333" stroke="#333" stroke-width="0.15" text-anchor="end" textLength="2.87" lengthAdjust="spacingAndGlyphs">0</text>
<line x1="155.60" y1="408.80" x2="229.50" y2="408.80" stroke="#222" stroke-width="0.9"/>
<line x1="161.20" y1="408.80" x2="161.20" y2="410.80" stroke="#222" stroke-width="0.9"/>
<line x1="171.55" y1="408.80" x2="171.55" y2="410.80" stroke="#222" stroke-width="0.9"/>
<line x1="181.90" y1="408.80" x2="181.90" y2="410.80" stroke="#222" stroke-width="0.9"/>
<line x1="192.25" y1="408.80" x2="192.25" y2="410.80" stroke="#222" stroke-width="0.9"/>
<line x1="202.60" y1="408.80" x2="202.60" y2="410.80" stroke="#222" stroke-width="0.9"/>
<line x1="212.95" y1="408.80" x2="212.95" y2="410.80" stroke="#222" stroke-width="0.9"/>
<line x1="223.30" y1="408.80" x2="223.30" y2="410.80" stroke="#222" stroke-width="0.9"/>
<text x="133.90" y="378.50" font-size="8.6" fill="#333" stroke="#333" stroke-width="0.2" text-anchor="middle" textLength="56.40" lengthAdjust="spacingAndGlyphs" transform="rotate(-90 133.90 378.50)">Rel. cytotoxicity (%)</text>
<polyline points="161.20,391.30 171.55,386.25 181.90,378.67 192.25,371.10 202.60,363.52 212.95,358.47 223.30,355.95" fill="none" stroke="#2c4a7e" stroke-width="1.0" stroke-linejoin="round"/>
<line x1="161.20" y1="387.26" x2="161.20" y2="395.34" stroke="#2c4a7e" stroke-width="0.5"/>
<line x1="160.30" y1="387.26" x2="162.10" y2="387.26" stroke="#2c4a7e" stroke-width="0.5"/>
<line x1="160.30" y1="395.34" x2="162.10" y2="395.34" stroke="#2c4a7e" stroke-width="0.5"/>
<line x1="171.55" y1="380.19" x2="171.55" y2="392.31" stroke="#2c4a7e" stroke-width="0.5"/>
<line x1="170.65" y1="380.19" x2="172.45" y2="380.19" stroke="#2c4a7e" stroke-width="0.5"/>
<line x1="170.65" y1="392.31" x2="172.45" y2="392.31" stroke="#2c4a7e" stroke-width="0.5"/>
<line x1="181.90" y1="371.10" x2="181.90" y2="386.25" stroke="#2c4a7e" stroke-width="0.5"/>
<line x1="181.00" y1="371.10" x2="182.80" y2="371.10" stroke="#2c4a7e" stroke-width="0.5"/>
<line x1="181.00" y1="386.25" x2="182.80" y2="386.25" stroke="#2c4a7e" stroke-width="0.5"/>
<line x1="192.25" y1="362.01" x2="192.25" y2="380.19" stroke="#2c4a7e" stroke-width="0.5"/>
<line x1="191.35" y1="362.01" x2="193.15" y2="362.01" stroke="#2c4a7e" stroke-width="0.5"/>
<line x1="191.35" y1="380.19" x2="193.15" y2="380.19" stroke="#2c4a7e" stroke-width="0.5"/>
<line x1="202.60" y1="358.47" x2="202.60" y2="368.57" stroke="#2c4a7e" stroke-width="0.5"/>
<line x1="201.70" y1="358.47" x2="203.50" y2="358.47" stroke="#2c4a7e" stroke-width="0.5"/>
<line x1="201.70" y1="368.57" x2="203.50" y2="368.57" stroke="#2c4a7e" stroke-width="0.5"/>
<line x1="212.95" y1="354.43" x2="212.95" y2="362.51" stroke="#2c4a7e" stroke-width="0.5"/>
<line x1="212.05" y1="354.43" x2="213.85" y2="354.43" stroke="#2c4a7e" stroke-width="0.5"/>
<line x1="212.05" y1="362.51" x2="213.85" y2="362.51" stroke="#2c4a7e" stroke-width="0.5"/>
<line x1="223.30" y1="352.92" x2="223.30" y2="358.98" stroke="#2c4a7e" stroke-width="0.5"/>
<line x1="222.40" y1="352.92" x2="224.20" y2="352.92" stroke="#2c4a7e" stroke-width="0.5"/>
<line x1="222.40" y1="358.98" x2="224.20" y2="358.98" stroke="#2c4a7e" stroke-width="0.5"/>
<polyline points="161.20,393.82 171.55,387.76 181.90,380.19 192.25,373.12 202.60,366.05 212.95,359.48 223.30,356.96" fill="none" stroke="#a6a6d8" stroke-width="1.0" stroke-linejoin="round"/>
<line x1="161.20" y1="389.78" x2="161.20" y2="397.86" stroke="#a6a6d8" stroke-width="0.5"/>
<line x1="160.30" y1="389.78" x2="162.10" y2="389.78" stroke="#a6a6d8" stroke-width="0.5"/>
<line x1="160.30" y1="397.86" x2="162.10" y2="397.86" stroke="#a6a6d8" stroke-width="0.5"/>
<line x1="171.55" y1="382.71" x2="171.55" y2="392.81" stroke="#a6a6d8" stroke-width="0.5"/>
<line x1="170.65" y1="382.71" x2="172.45" y2="382.71" stroke="#a6a6d8" stroke-width="0.5"/>
<line x1="170.65" y1="392.81" x2="172.45" y2="392.81" stroke="#a6a6d8" stroke-width="0.5"/>
<line x1="181.90" y1="372.61" x2="181.90" y2="387.76" stroke="#a6a6d8" stroke-width="0.5"/>
<line x1="181.00" y1="372.61" x2="182.80" y2="372.61" stroke="#a6a6d8" stroke-width="0.5"/>
<line x1="181.00" y1="387.76" x2="182.80" y2="387.76" stroke="#a6a6d8" stroke-width="0.5"/>
<line x1="192.25" y1="365.54" x2="192.25" y2="380.69" stroke="#a6a6d8" stroke-width="0.5"/>
<line x1="191.35" y1="365.54" x2="193.15" y2="365.54" stroke="#a6a6d8" stroke-width="0.5"/>
<line x1="191.35" y1="380.69" x2="193.15" y2="380.69" stroke="#a6a6d8" stroke-width="0.5"/>
<line x1="202.60" y1="361.00" x2="202.60" y2="371.10" stroke="#a6a6d8" stroke-width="0.5"/>
<line x1="201.70" y1="361.00" x2="203.50" y2="361.00" stroke="#a6a6d8" stroke-width="0.5"/>
<line x1="201.70" y1="371.10" x2="203.50" y2="371.10" stroke="#a6a6d8" stroke-width="0.5"/>
<line x1="212.95" y1="355.44" x2="212.95" y2="363.52" stroke="#a6a6d8" stroke-width="0.5"/>
<line x1="212.05" y1="355.44" x2="213.85" y2="355.44" stroke="#a6a6d8" stroke-width="0.5"/>
<line x1="212.05" y1="363.52" x2="213.85" y2="363.52" stroke="#a6a6d8" stroke-width="0.5"/>
<line x1="223.30" y1="353.93" x2="223.30" y2="359.99" stroke="#a6a6d8" stroke-width="0.5"/>
<line x1="222.40" y1="353.93" x2="224.20" y2="353.93" stroke="#a6a6d8" stroke-width="0.5"/>
<line x1="222.40" y1="359.99" x2="224.20" y2="359.99" stroke="#a6a6d8" stroke-width="0.5"/>
<polyline points="161.20,396.35 171.55,390.29 181.90,382.21 192.25,374.63 202.60,367.56 212.95,361.00 223.30,357.46" fill="none" stroke="#d4317a" stroke-width="1.0" stroke-linejoin="round"/>
<line x1="161.20" y1="391.30" x2="161.20" y2="401.40" stroke="#d4317a" stroke-width="0.5"/>
<line x1="160.30" y1="391.30" x2="162.10" y2="391.30" stroke="#d4317a" stroke-width="0.5"/>
<line x1="160.30" y1="401.40" x2="162.10" y2="401.40" stroke="#d4317a" stroke-width="0.5"/>
<line x1="171.55" y1="385.24" x2="171.55" y2="395.34" stroke="#d4317a" stroke-width="0.5"/>
<line x1="170.65" y1="385.24" x2="172.45" y2="385.24" stroke="#d4317a" stroke-width="0.5"/>
<line x1="170.65" y1="395.34" x2="172.45" y2="395.34" stroke="#d4317a" stroke-width="0.5"/>
<line x1="181.90" y1="376.15" x2="181.90" y2="388.27" stroke="#d4317a" stroke-width="0.5"/>
<line x1="181.00" y1="376.15" x2="182.80" y2="376.15" stroke="#d4317a" stroke-width="0.5"/>
<line x1="181.00" y1="388.27" x2="182.80" y2="388.27" stroke="#d4317a" stroke-width="0.5"/>
<line x1="192.25" y1="367.56" x2="192.25" y2="381.70" stroke="#d4317a" stroke-width="0.5"/>
<line x1="191.35" y1="367.56" x2="193.15" y2="367.56" stroke="#d4317a" stroke-width="0.5"/>
<line x1="191.35" y1="381.70" x2="193.15" y2="381.70" stroke="#d4317a" stroke-width="0.5"/>
<line x1="202.60" y1="362.51" x2="202.60" y2="372.61" stroke="#d4317a" stroke-width="0.5"/>
<line x1="201.70" y1="362.51" x2="203.50" y2="362.51" stroke="#d4317a" stroke-width="0.5"/>
<line x1="201.70" y1="372.61" x2="203.50" y2="372.61" stroke="#d4317a" stroke-width="0.5"/>
<line x1="212.95" y1="355.95" x2="212.95" y2="366.05" stroke="#d4317a" stroke-width="0.5"/>
<line x1="212.05" y1="355.95" x2="213.85" y2="355.95" stroke="#d4317a" stroke-width="0.5"/>
<line x1="212.05" y1="366.05" x2="213.85" y2="366.05" stroke="#d4317a" stroke-width="0.5"/>
<line x1="223.30" y1="354.43" x2="223.30" y2="360.50" stroke="#d4317a" stroke-width="0.5"/>
<line x1="222.40" y1="354.43" x2="224.20" y2="354.43" stroke="#d4317a" stroke-width="0.5"/>
<line x1="222.40" y1="360.50" x2="224.20" y2="360.50" stroke="#d4317a" stroke-width="0.5"/>
<line x1="173.80" y1="392.60" x2="181.30" y2="392.60" stroke="#d4317a" stroke-width="1.2"/>
<text x="183.80" y="394.80" font-size="7.0" fill="#333" stroke="#333" stroke-width="0.05" textLength="44.00" lengthAdjust="spacingAndGlyphs">CD3ζ <tspan font-style="italic">trunc</tspan>CAR</text>
<line x1="173.80" y1="398.90" x2="181.30" y2="398.90" stroke="#a6a6d8" stroke-width="1.2"/>
<text x="183.80" y="401.10" font-size="7.0" fill="#333" stroke="#333" stroke-width="0.05" textLength="53.00" lengthAdjust="spacingAndGlyphs">CD3ζ <tspan font-style="italic">trunc</tspan>CAR<tspan font-size="4" dy="-2.5">GSG</tspan></text>
<line x1="173.80" y1="405.20" x2="181.30" y2="405.20" stroke="#2c4a7e" stroke-width="1.2"/>
<text x="183.80" y="407.40" font-size="7.0" fill="#333" stroke="#333" stroke-width="0.05" textLength="30.00" lengthAdjust="spacingAndGlyphs" font-style="italic">TRAC CAR</text>
<text x="163.80" y="419.20" font-size="6.4" fill="#333" stroke="#333" stroke-width="0.15" text-anchor="end" transform="rotate(-46 163.80 419.20)">1/8 : 1 : 1</text>
<text x="174.15" y="419.20" font-size="6.4" fill="#333" stroke="#333" stroke-width="0.15" text-anchor="end" transform="rotate(-46 174.15 419.20)">1/4 : 1 : 1</text>
<text x="184.50" y="419.20" font-size="6.4" fill="#333" stroke="#333" stroke-width="0.15" text-anchor="end" transform="rotate(-46 184.50 419.20)">1/2 : 1 : 1</text>
<text x="194.85" y="419.20" font-size="6.4" fill="#333" stroke="#333" stroke-width="0.15" text-anchor="end" transform="rotate(-46 194.85 419.20)">1 : 1 : 1</text>
<text x="205.20" y="419.20" font-size="6.4" fill="#333" stroke="#333" stroke-width="0.15" text-anchor="end" transform="rotate(-46 205.20 419.20)">2 : 1 : 1</text>
<text x="215.55" y="419.20" font-size="6.4" fill="#333" stroke="#333" stroke-width="0.15" text-anchor="end" transform="rotate(-46 215.55 419.20)">4 : 1 : 1</text>
<text x="225.90" y="419.20" font-size="6.4" fill="#333" stroke="#333" stroke-width="0.15" text-anchor="end" transform="rotate(-46 225.90 419.20)">8 : 1 : 1</text>
<text x="168.10" y="450.30" font-size="8.9" fill="#333" stroke="#333" stroke-width="0.2" textLength="47.60" lengthAdjust="spacingAndGlyphs">E : T : C cell ratio</text>
<text x="306.60" y="321.40" font-size="8.3" fill="#222" textLength="39.20" lengthAdjust="spacingAndGlyphs">Expansion</text>
<line x1="292.80" y1="329.30" x2="292.80" y2="368.90" stroke="#222" stroke-width="0.9"/>
<line x1="290.20" y1="368.90" x2="292.80" y2="368.90" stroke="#222" stroke-width="0.9"/>
<line x1="290.20" y1="362.95" x2="292.80" y2="362.95" stroke="#222" stroke-width="0.9"/>
<line x1="290.20" y1="357.00" x2="292.80" y2="357.00" stroke="#222" stroke-width="0.9"/>
<line x1="290.20" y1="351.05" x2="292.80" y2="351.05" stroke="#222" stroke-width="0.9"/>
<line x1="290.20" y1="345.10" x2="292.80" y2="345.10" stroke="#222" stroke-width="0.9"/>
<line x1="290.20" y1="339.15" x2="292.80" y2="339.15" stroke="#222" stroke-width="0.9"/>
<line x1="290.20" y1="333.20" x2="292.80" y2="333.20" stroke="#222" stroke-width="0.9"/>
<line x1="292.80" y1="368.90" x2="358.50" y2="368.90" stroke="#222" stroke-width="0.9"/>
<line x1="292.70" y1="368.90" x2="292.70" y2="370.90" stroke="#222" stroke-width="0.9"/>
<line x1="308.90" y1="368.90" x2="308.90" y2="370.90" stroke="#222" stroke-width="0.9"/>
<line x1="325.00" y1="368.90" x2="325.00" y2="370.90" stroke="#222" stroke-width="0.9"/>
<line x1="341.20" y1="368.90" x2="341.20" y2="370.90" stroke="#222" stroke-width="0.9"/>
<line x1="357.40" y1="368.90" x2="357.40" y2="370.90" stroke="#222" stroke-width="0.9"/>
<text x="284.00" y="370.90" font-size="5.8" fill="#333" stroke="#333" stroke-width="0.2" text-anchor="end" textLength="5.50" lengthAdjust="spacingAndGlyphs">10</text>
<text x="284.50" y="368.20" font-size="3.4" fill="#333">0</text>
<text x="284.00" y="364.95" font-size="5.8" fill="#333" stroke="#333" stroke-width="0.2" text-anchor="end" textLength="5.50" lengthAdjust="spacingAndGlyphs">10</text>
<text x="284.50" y="362.25" font-size="3.4" fill="#333">1</text>
<text x="284.00" y="359.00" font-size="5.8" fill="#333" stroke="#333" stroke-width="0.2" text-anchor="end" textLength="5.50" lengthAdjust="spacingAndGlyphs">10</text>
<text x="284.50" y="356.30" font-size="3.4" fill="#333">2</text>
<text x="284.00" y="353.05" font-size="5.8" fill="#333" stroke="#333" stroke-width="0.2" text-anchor="end" textLength="5.50" lengthAdjust="spacingAndGlyphs">10</text>
<text x="284.50" y="350.35" font-size="3.4" fill="#333">3</text>
<text x="284.00" y="347.10" font-size="5.8" fill="#333" stroke="#333" stroke-width="0.2" text-anchor="end" textLength="5.50" lengthAdjust="spacingAndGlyphs">10</text>
<text x="284.50" y="344.40" font-size="3.4" fill="#333">4</text>
<text x="284.00" y="341.15" font-size="5.8" fill="#333" stroke="#333" stroke-width="0.2" text-anchor="end" textLength="5.50" lengthAdjust="spacingAndGlyphs">10</text>
<text x="284.50" y="338.45" font-size="3.4" fill="#333">5</text>
<text x="284.00" y="335.20" font-size="5.8" fill="#333" stroke="#333" stroke-width="0.2" text-anchor="end" textLength="5.50" lengthAdjust="spacingAndGlyphs">10</text>
<text x="284.50" y="332.50" font-size="3.4" fill="#333">6</text>
<polyline points="292.80,368.60 308.90,358.60 325.00,349.60 341.20,339.80 357.40,332.20" fill="none" stroke="#4e4a92" stroke-width="1.0" stroke-linejoin="round"/>
<polyline points="292.80,368.60 308.90,358.90 325.00,349.30 341.20,339.40 357.40,332.60" fill="none" stroke="#8a3f8f" stroke-width="0.5" stroke-linejoin="round"/>
<line x1="308.90" y1="356.80" x2="308.90" y2="359.60" stroke="#6a4a9a" stroke-width="0.5"/>
<line x1="308.00" y1="356.80" x2="309.80" y2="356.80" stroke="#6a4a9a" stroke-width="0.5"/>
<line x1="308.00" y1="359.60" x2="309.80" y2="359.60" stroke="#6a4a9a" stroke-width="0.5"/>
<line x1="325.00" y1="347.80" x2="325.00" y2="350.60" stroke="#6a4a9a" stroke-width="0.5"/>
<line x1="324.10" y1="347.80" x2="325.90" y2="347.80" stroke="#6a4a9a" stroke-width="0.5"/>
<line x1="324.10" y1="350.60" x2="325.90" y2="350.60" stroke="#6a4a9a" stroke-width="0.5"/>
<line x1="341.20" y1="338.00" x2="341.20" y2="340.80" stroke="#6a4a9a" stroke-width="0.5"/>
<line x1="340.30" y1="338.00" x2="342.10" y2="338.00" stroke="#6a4a9a" stroke-width="0.5"/>
<line x1="340.30" y1="340.80" x2="342.10" y2="340.80" stroke="#6a4a9a" stroke-width="0.5"/>
<line x1="357.40" y1="330.40" x2="357.40" y2="333.20" stroke="#6a4a9a" stroke-width="0.5"/>
<line x1="356.50" y1="330.40" x2="358.30" y2="330.40" stroke="#6a4a9a" stroke-width="0.5"/>
<line x1="356.50" y1="333.20" x2="358.30" y2="333.20" stroke="#6a4a9a" stroke-width="0.5"/>
<text x="262.00" y="349.30" font-size="7.8" fill="#333" stroke="#333" stroke-width="0.2" text-anchor="middle" textLength="46.70" lengthAdjust="spacingAndGlyphs" transform="rotate(-90 262.00 349.30)">Fold expansion</text>
<text x="270.80" y="349.30" font-size="7.8" fill="#333" stroke="#333" stroke-width="0.2" text-anchor="middle" textLength="37.70" lengthAdjust="spacingAndGlyphs" transform="rotate(-90 270.80 349.30)">of CAR⁺ cells</text>
<line x1="292.80" y1="386.50" x2="292.80" y2="426.20" stroke="#222" stroke-width="0.9"/>
<line x1="290.60" y1="425.70" x2="292.80" y2="425.70" stroke="#222" stroke-width="0.9"/>
<text x="287.60" y="427.80" font-size="6.0" fill="#333" stroke="#333" stroke-width="0.15" text-anchor="end" textLength="3.45" lengthAdjust="spacingAndGlyphs">0</text>
<line x1="290.60" y1="418.64" x2="292.80" y2="418.64" stroke="#222" stroke-width="0.9"/>
<text x="287.60" y="420.74" font-size="6.0" fill="#333" stroke="#333" stroke-width="0.15" text-anchor="end" textLength="6.90" lengthAdjust="spacingAndGlyphs">20</text>
<line x1="290.60" y1="411.58" x2="292.80" y2="411.58" stroke="#222" stroke-width="0.9"/>
<text x="287.60" y="413.68" font-size="6.0" fill="#333" stroke="#333" stroke-width="0.15" text-anchor="end" textLength="6.90" lengthAdjust="spacingAndGlyphs">40</text>
<line x1="290.60" y1="404.52" x2="292.80" y2="404.52" stroke="#222" stroke-width="0.9"/>
<text x="287.60" y="406.62" font-size="6.0" fill="#333" stroke="#333" stroke-width="0.15" text-anchor="end" textLength="6.90" lengthAdjust="spacingAndGlyphs">60</text>
<line x1="290.60" y1="397.46" x2="292.80" y2="397.46" stroke="#222" stroke-width="0.9"/>
<text x="287.60" y="399.56" font-size="6.0" fill="#333" stroke="#333" stroke-width="0.15" text-anchor="end" textLength="6.90" lengthAdjust="spacingAndGlyphs">80</text>
<line x1="290.60" y1="390.40" x2="292.80" y2="390.40" stroke="#222" stroke-width="0.9"/>
<text x="287.60" y="392.50" font-size="6.0" fill="#333" stroke="#333" stroke-width="0.15" text-anchor="end" textLength="10.35" lengthAdjust="spacingAndGlyphs">100</text>
<line x1="292.80" y1="426.20" x2="358.50" y2="426.20" stroke="#222" stroke-width="0.9"/>
<line x1="292.70" y1="426.20" x2="292.70" y2="428.40" stroke="#222" stroke-width="0.9"/>
<text x="292.70" y="438.00" font-size="6.4" fill="#333" stroke="#333" stroke-width="0.15" text-anchor="middle" textLength="3.60" lengthAdjust="spacingAndGlyphs">0</text>
<line x1="308.90" y1="426.20" x2="308.90" y2="428.40" stroke="#222" stroke-width="0.9"/>
<text x="308.90" y="438.00" font-size="6.4" fill="#333" stroke="#333" stroke-width="0.15" text-anchor="middle" textLength="3.60" lengthAdjust="spacingAndGlyphs">1</text>
<line x1="325.00" y1="426.20" x2="325.00" y2="428.40" stroke="#222" stroke-width="0.9"/>
<text x="325.00" y="438.00" font-size="6.4" fill="#333" stroke="#333" stroke-width="0.15" text-anchor="middle" textLength="3.60" lengthAdjust="spacingAndGlyphs">2</text>
<line x1="341.20" y1="426.20" x2="341.20" y2="428.40" stroke="#222" stroke-width="0.9"/>
<text x="341.20" y="438.00" font-size="6.4" fill="#333" stroke="#333" stroke-width="0.15" text-anchor="middle" textLength="3.60" lengthAdjust="spacingAndGlyphs">3</text>
<line x1="357.40" y1="426.20" x2="357.40" y2="428.40" stroke="#222" stroke-width="0.9"/>
<text x="357.40" y="438.00" font-size="6.4" fill="#333" stroke="#333" stroke-width="0.15" text-anchor="middle" textLength="3.60" lengthAdjust="spacingAndGlyphs">4</text>
<text x="306.60" y="449.40" font-size="8.8" fill="#333" stroke="#333" stroke-width="0.2" textLength="39.20" lengthAdjust="spacingAndGlyphs">Time (weeks)</text>
<text x="262.40" y="404.00" font-size="7.8" fill="#333" stroke="#333" stroke-width="0.2" text-anchor="middle" textLength="36.00" lengthAdjust="spacingAndGlyphs" transform="rotate(-90 262.40 404.00)">CAR⁺ CD3⁻</text>
<text x="270.60" y="405.80" font-size="7.8" fill="#333" stroke="#333" stroke-width="0.2" text-anchor="middle" textLength="34.10" lengthAdjust="spacingAndGlyphs" transform="rotate(-90 270.60 405.80)">fraction (%)</text>
<polyline points="292.70,415.11 308.90,398.17 325.00,389.69 341.20,387.93 357.40,387.58" fill="none" stroke="#b8b8e0" stroke-width="2.2" stroke-linejoin="round"/>
<polyline points="292.70,413.34 308.90,397.46 325.00,389.34 341.20,387.58 357.40,387.22" fill="none" stroke="#d4317a" stroke-width="0.7" stroke-linejoin="round"/>
<polyline points="292.70,411.58 308.90,396.75 325.00,389.69 341.20,387.58 357.40,387.22" fill="none" stroke="#3a6a9a" stroke-width="0.8" stroke-linejoin="round"/>
<line x1="308.90" y1="387.58" x2="308.90" y2="402.75" stroke="#9a9ad0" stroke-width="0.5"/>
<line x1="308.00" y1="387.58" x2="309.80" y2="387.58" stroke="#9a9ad0" stroke-width="0.5"/>
<line x1="308.00" y1="402.75" x2="309.80" y2="402.75" stroke="#9a9ad0" stroke-width="0.5"/>
<line x1="325.00" y1="385.11" x2="325.00" y2="393.22" stroke="#4a5a8a" stroke-width="0.5"/>
<line x1="324.10" y1="385.11" x2="325.90" y2="385.11" stroke="#4a5a8a" stroke-width="0.5"/>
<line x1="324.10" y1="393.22" x2="325.90" y2="393.22" stroke="#4a5a8a" stroke-width="0.5"/>
<line x1="341.20" y1="386.87" x2="341.20" y2="388.63" stroke="#4a5a8a" stroke-width="0.5"/>
<line x1="340.30" y1="386.87" x2="342.10" y2="386.87" stroke="#4a5a8a" stroke-width="0.5"/>
<line x1="340.30" y1="388.63" x2="342.10" y2="388.63" stroke="#4a5a8a" stroke-width="0.5"/>
<line x1="357.40" y1="386.52" x2="357.40" y2="388.28" stroke="#4a5a8a" stroke-width="0.5"/>
<line x1="356.50" y1="386.52" x2="358.30" y2="386.52" stroke="#4a5a8a" stroke-width="0.5"/>
<line x1="356.50" y1="388.28" x2="358.30" y2="388.28" stroke="#4a5a8a" stroke-width="0.5"/>
<line x1="300.80" y1="408.90" x2="307.70" y2="408.90" stroke="#3a8aa0" stroke-width="1.1"/>
<text x="311.20" y="411.20" font-size="7.0" fill="#333" stroke="#333" stroke-width="0.05" textLength="32.30" lengthAdjust="spacingAndGlyphs"><tspan font-style="italic">TRAC</tspan> CAR</text>
<line x1="300.80" y1="415.00" x2="307.70" y2="415.00" stroke="#d4317a" stroke-width="1.1"/>
<text x="311.20" y="417.30" font-size="7.0" fill="#333" stroke="#333" stroke-width="0.05" textLength="44.50" lengthAdjust="spacingAndGlyphs">CD3ζ <tspan font-style="italic">trunc</tspan>CAR</text>
<line x1="300.80" y1="421.10" x2="307.70" y2="421.10" stroke="#b4b4d8" stroke-width="1.1"/>
<text x="311.20" y="423.40" font-size="7.0" fill="#333" stroke="#333" stroke-width="0.05" textLength="53.00" lengthAdjust="spacingAndGlyphs">CD3ζ <tspan font-style="italic">trunc</tspan>CAR<tspan font-size="4" dy="-2.5">GSG</tspan></text>
<text x="398.30" y="317.00" font-size="8.3" fill="#222" textLength="115.10" lengthAdjust="spacingAndGlyphs">Exhaustion marker expression</text>
<text x="415.00" y="326.60" font-size="8.3" fill="#222" textLength="81.40" lengthAdjust="spacingAndGlyphs">after serial co-culture</text>
<text x="429.50" y="340.80" font-size="6.6" fill="#3d5d9a" stroke="#3d5d9a" stroke-width="0.25" text-anchor="middle" textLength="15.60" lengthAdjust="spacingAndGlyphs" font-style="italic">TRAC</text>
<text x="429.50" y="347.10" font-size="6.6" fill="#3d5d9a" stroke="#3d5d9a" stroke-width="0.25" text-anchor="middle" textLength="12.80" lengthAdjust="spacingAndGlyphs">CAR</text>
<text x="460.80" y="340.80" font-size="6.6" fill="#d4317a" stroke="#d4317a" stroke-width="0.2" text-anchor="middle" textLength="16.80" lengthAdjust="spacingAndGlyphs" font-style="italic">CD3ζ</text>
<text x="461.10" y="347.10" font-size="6.6" fill="#d4317a" stroke="#d4317a" stroke-width="0.2" text-anchor="middle" textLength="27.60" lengthAdjust="spacingAndGlyphs"><tspan font-style="italic">trunc</tspan>CAR</text>
<text x="497.50" y="340.80" font-size="6.6" fill="#a0a0cc" stroke="#a0a0cc" stroke-width="0.2" text-anchor="middle" textLength="16.80" lengthAdjust="spacingAndGlyphs" font-style="italic">CD3ζ</text>
<text x="493.60" y="347.10" font-size="6.6" fill="#a0a0cc" stroke="#a0a0cc" stroke-width="0.2" text-anchor="middle" textLength="27.30" lengthAdjust="spacingAndGlyphs"><tspan font-style="italic">trunc</tspan>CAR</text>
<text x="507.50" y="344.50" font-size="3.8" fill="#b8b8d8" textLength="8.00" lengthAdjust="spacingAndGlyphs">GSG</text>
<circle cx="429.50" cy="369.40" r="10.80" fill="#ebebeb"/>
<path d="M429.50,369.40 L429.50,358.60 A10.8,10.8 0 0 1 434.57,359.86 Z" fill="#111"/>
<path d="M429.50,369.40 L434.57,359.86 A10.8,10.8 0 0 1 440.26,370.34 Z" fill="#999"/>
<path d="M429.50,369.40 L440.26,370.34 A10.8,10.8 0 0 1 420.65,375.59 Z" fill="#c6c6c6"/>
<line x1="429.50" y1="369.40" x2="429.50" y2="358.60" stroke="#fff" stroke-width="0.4"/>
<path d="M429.50,357.20 A12.2,12.2 0 0 1 441.51,367.28" fill="none" stroke="#2aa0dc" stroke-width="0.8"/>
<path d="M438.05,379.59 A13.3,13.3 0 0 1 420.95,379.59" fill="none" stroke="#7b6fb0" stroke-width="0.8"/>
<path d="M429.50,355.00 A14.4,14.4 0 0 1 436.70,381.87" fill="none" stroke="#3aa648" stroke-width="0.8"/>
<path d="M429.50,356.10 A13.3,13.3 0 0 1 438.05,359.21" fill="none" stroke="#5a9a8a" stroke-width="0.8"/>
<circle cx="461.00" cy="369.40" r="10.80" fill="#ebebeb"/>
<path d="M461.00,369.40 L461.00,358.60 A10.8,10.8 0 0 1 464.69,359.25 Z" fill="#111"/>
<path d="M461.00,369.40 L464.69,359.25 A10.8,10.8 0 0 1 471.80,369.40 Z" fill="#999"/>
<path d="M461.00,369.40 L471.80,369.40 A10.8,10.8 0 0 1 452.97,376.63 Z" fill="#c6c6c6"/>
<line x1="461.00" y1="369.40" x2="461.00" y2="358.60" stroke="#fff" stroke-width="0.4"/>
<path d="M461.00,357.20 A12.2,12.2 0 0 1 473.01,367.28" fill="none" stroke="#2aa0dc" stroke-width="0.8"/>
<path d="M469.55,379.59 A13.3,13.3 0 0 1 452.45,379.59" fill="none" stroke="#7b6fb0" stroke-width="0.8"/>
<path d="M461.00,355.00 A14.4,14.4 0 0 1 468.20,381.87" fill="none" stroke="#3aa648" stroke-width="0.8"/>
<path d="M461.00,356.10 A13.3,13.3 0 0 1 469.55,359.21" fill="none" stroke="#5a9a8a" stroke-width="0.8"/>
<circle cx="492.00" cy="369.40" r="10.80" fill="#ebebeb"/>
<path d="M492.00,369.40 L492.00,358.60 A10.8,10.8 0 0 1 495.69,359.25 Z" fill="#111"/>
<path d="M492.00,369.40 L495.69,359.25 A10.8,10.8 0 0 1 502.80,369.40 Z" fill="#999"/>
<path d="M492.00,369.40 L502.80,369.40 A10.8,10.8 0 0 1 483.15,375.59 Z" fill="#c6c6c6"/>
<line x1="492.00" y1="369.40" x2="492.00" y2="358.60" stroke="#fff" stroke-width="0.4"/>
<path d="M492.00,357.20 A12.2,12.2 0 0 1 504.01,367.28" fill="none" stroke="#2aa0dc" stroke-width="0.8"/>
<path d="M500.55,379.59 A13.3,13.3 0 0 1 483.45,379.59" fill="none" stroke="#7b6fb0" stroke-width="0.8"/>
<path d="M492.00,355.00 A14.4,14.4 0 0 1 499.20,381.87" fill="none" stroke="#3aa648" stroke-width="0.8"/>
<path d="M492.00,356.10 A13.3,13.3 0 0 1 500.55,359.21" fill="none" stroke="#5a9a8a" stroke-width="0.8"/>
<circle cx="429.50" cy="405.00" r="10.80" fill="#ebebeb"/>
<path d="M429.50,405.00 L429.50,394.20 A10.8,10.8 0 0 1 439.29,400.44 Z" fill="#111"/>
<path d="M429.50,405.00 L439.29,400.44 A10.8,10.8 0 1 1 419.35,408.69 Z" fill="#999"/>
<path d="M429.50,405.00 L419.35,408.69 A10.8,10.8 0 0 1 424.10,395.65 Z" fill="#c6c6c6"/>
<line x1="429.50" y1="405.00" x2="429.50" y2="394.20" stroke="#fff" stroke-width="0.4"/>
<circle cx="429.50" cy="405.00" r="12.00" fill="none" stroke="#2aa0dc" stroke-width="0.8"/>
<path d="M429.50,391.70 A13.3,13.3 0 0 1 442.60,402.69" fill="none" stroke="#7b6fb0" stroke-width="0.8"/>
<circle cx="429.50" cy="405.00" r="14.60" fill="none" stroke="#3aa648" stroke-width="0.8"/>
<circle cx="461.00" cy="405.00" r="10.80" fill="#ebebeb"/>
<path d="M461.00,405.00 L461.00,394.20 A10.8,10.8 0 0 1 469.27,398.06 Z" fill="#111"/>
<path d="M461.00,405.00 L469.27,398.06 A10.8,10.8 0 1 1 452.15,411.19 Z" fill="#999"/>
<path d="M461.00,405.00 L452.15,411.19 A10.8,10.8 0 0 1 455.60,395.65 Z" fill="#c6c6c6"/>
<line x1="461.00" y1="405.00" x2="461.00" y2="394.20" stroke="#fff" stroke-width="0.4"/>
<circle cx="461.00" cy="405.00" r="12.00" fill="none" stroke="#2aa0dc" stroke-width="0.8"/>
<path d="M461.00,391.70 A13.3,13.3 0 0 1 474.10,402.69" fill="none" stroke="#7b6fb0" stroke-width="0.8"/>
<circle cx="461.00" cy="405.00" r="14.60" fill="none" stroke="#3aa648" stroke-width="0.8"/>
<circle cx="492.00" cy="405.00" r="10.80" fill="#ebebeb"/>
<path d="M492.00,405.00 L492.00,394.20 A10.8,10.8 0 0 1 499.64,397.36 Z" fill="#111"/>
<path d="M492.00,405.00 L499.64,397.36 A10.8,10.8 0 0 1 484.36,412.64 Z" fill="#999"/>
<path d="M492.00,405.00 L484.36,412.64 A10.8,10.8 0 0 1 486.60,395.65 Z" fill="#c6c6c6"/>
<line x1="492.00" y1="405.00" x2="492.00" y2="394.20" stroke="#fff" stroke-width="0.4"/>
<circle cx="492.00" cy="405.00" r="12.00" fill="none" stroke="#2aa0dc" stroke-width="0.8"/>
<path d="M492.00,391.70 A13.3,13.3 0 0 1 505.10,402.69" fill="none" stroke="#7b6fb0" stroke-width="0.8"/>
<circle cx="492.00" cy="405.00" r="14.60" fill="none" stroke="#3aa648" stroke-width="0.8"/>
<rect x="380.00" y="411.30" width="4.40" height="4.20" fill="#2aa0dc"/>
<text x="384.60" y="409.70" font-size="6.6" fill="#333" stroke="#333" stroke-width="0.08" textLength="15.50" lengthAdjust="spacingAndGlyphs" transform="rotate(-90 384.60 409.70)">LAG-3</text>
<rect x="380.00" y="385.30" width="4.40" height="4.00" fill="#7b6fb0"/>
<text x="384.60" y="382.80" font-size="6.6" fill="#333" stroke="#333" stroke-width="0.08" textLength="9.90" lengthAdjust="spacingAndGlyphs" transform="rotate(-90 384.60 382.80)">PD-1</text>
<rect x="380.00" y="353.60" width="4.40" height="4.00" fill="#3aa648"/>
<text x="384.60" y="351.10" font-size="6.6" fill="#333" stroke="#333" stroke-width="0.08" textLength="18.00" lengthAdjust="spacingAndGlyphs" transform="rotate(-90 384.60 351.10)">Tim-3</text>
<text x="392.70" y="373.50" font-size="6.8" fill="#333" text-anchor="middle" textLength="85.40" lengthAdjust="spacingAndGlyphs" transform="rotate(-90 392.70 373.50)">Number of inhibitory receptors</text>
<rect x="396.20" y="405.60" width="4.40" height="4.90" fill="#111"/>
<text x="400.80" y="401.60" font-size="6.6" fill="#333" stroke="#333" stroke-width="0.2" textLength="3.30" lengthAdjust="spacingAndGlyphs" transform="rotate(-90 400.80 401.60)">3</text>
<rect x="396.20" y="387.70" width="4.40" height="4.90" fill="#8e8e8e"/>
<text x="400.80" y="383.80" font-size="6.6" fill="#333" stroke="#333" stroke-width="0.2" textLength="3.30" lengthAdjust="spacingAndGlyphs" transform="rotate(-90 400.80 383.80)">2</text>
<rect x="396.20" y="370.70" width="4.40" height="4.80" fill="#c4c4c4"/>
<text x="400.80" y="364.20" font-size="6.6" fill="#333" stroke="#333" stroke-width="0.2" textLength="2.60" lengthAdjust="spacingAndGlyphs" transform="rotate(-90 400.80 364.20)">1</text>
<rect x="396.20" y="349.50" width="4.40" height="4.90" fill="#e6e6e6"/>
<text x="400.80" y="345.60" font-size="6.6" fill="#333" stroke="#333" stroke-width="0.2" textLength="3.30" lengthAdjust="spacingAndGlyphs" transform="rotate(-90 400.80 345.60)">0</text>
<text x="410.80" y="369.00" font-size="6.8" fill="#333" stroke="#333" stroke-width="0.2" text-anchor="middle" textLength="11.40" lengthAdjust="spacingAndGlyphs" transform="rotate(-90 410.80 369.00)">CD4</text>
<text x="410.80" y="405.60" font-size="6.8" fill="#333" stroke="#333" stroke-width="0.2" text-anchor="middle" textLength="11.40" lengthAdjust="spacingAndGlyphs" transform="rotate(-90 410.80 405.60)">CD8</text>
<rect x="7.00" y="480.20" width="39.70" height="86.00" fill="#e6e6e6"/>
<text x="9.30" y="493.10" font-size="6.6" fill="#333" textLength="30.40" lengthAdjust="spacingAndGlyphs">NOG mice</text>
<text x="11.90" y="501.30" font-size="6.2" fill="#333" stroke="#333" stroke-width="0.2" textLength="6.20" lengthAdjust="spacingAndGlyphs">d0</text>
<line x1="11.90" y1="502.40" x2="18.10" y2="502.40" stroke="#333" stroke-width="0.4"/>
<text x="21.20" y="501.50" font-size="6.6" fill="#333" textLength="19.60" lengthAdjust="spacingAndGlyphs">0.5×10</text>
<text x="41.00" y="498.60" font-size="3.8" fill="#333">6</text>
<text x="22.70" y="508.50" font-size="6.6" fill="#333" textLength="20.80" lengthAdjust="spacingAndGlyphs">Nalm-6</text>
<text x="11.90" y="514.70" font-size="6.2" fill="#333" stroke="#333" stroke-width="0.2" textLength="6.20" lengthAdjust="spacingAndGlyphs">d4</text>
<line x1="11.90" y1="515.80" x2="18.10" y2="515.80" stroke="#333" stroke-width="0.4"/>
<text x="21.20" y="515.30" font-size="6.6" fill="#333" textLength="19.60" lengthAdjust="spacingAndGlyphs">0.5×10</text>
<text x="41.00" y="512.40" font-size="3.8" fill="#333">6</text>
<text x="22.70" y="523.90" font-size="6.6" fill="#333" textLength="12.60" lengthAdjust="spacingAndGlyphs">CAR</text>
<text x="35.50" y="520.80" font-size="3.8" fill="#333">+</text>
<text x="39.20" y="523.90" font-size="6.6" fill="#333" textLength="4.00" lengthAdjust="spacingAndGlyphs">T</text>
<text x="23.50" y="542.40" font-size="6.6" fill="#333" textLength="19.30" lengthAdjust="spacingAndGlyphs">weekly</text>
<text x="28.90" y="550.10" font-size="6.6" fill="#333" stroke="#333" stroke-width="0.2" textLength="8.50" lengthAdjust="spacingAndGlyphs">BLI</text>
<line x1="9.60" y1="497.00" x2="9.60" y2="562.40" stroke="#444" stroke-width="0.6"/>
<line x1="9.60" y1="503.60" x2="13.60" y2="503.60" stroke="#222" stroke-width="0.9"/>
<path d="M10.6,502.40000000000003 L9.6,503.6 L10.6,504.8" fill="none" stroke="#222" stroke-width="0.6"/>
<line x1="9.60" y1="517.20" x2="13.60" y2="517.20" stroke="#222" stroke-width="0.9"/>
<path d="M10.6,516.0 L9.6,517.2 L10.6,518.4000000000001" fill="none" stroke="#222" stroke-width="0.6"/>
<line x1="9.60" y1="530.80" x2="12.60" y2="530.80" stroke="#222" stroke-width="1.0"/>
<line x1="9.60" y1="536.20" x2="12.60" y2="536.20" stroke="#222" stroke-width="1.0"/>
<line x1="9.60" y1="541.60" x2="12.60" y2="541.60" stroke="#222" stroke-width="1.0"/>
<line x1="9.60" y1="547.00" x2="12.60" y2="547.00" stroke="#222" stroke-width="1.0"/>
<line x1="9.60" y1="552.40" x2="12.60" y2="552.40" stroke="#222" stroke-width="1.0"/>
<line x1="9.60" y1="557.40" x2="12.60" y2="557.40" stroke="#222" stroke-width="1.0"/>
<circle cx="9.60" cy="562.40" r="0.90" fill="#222"/>
<text x="75.80" y="483.30" font-size="6.6" fill="#333" textLength="23.00" lengthAdjust="spacingAndGlyphs">Mock-E'</text>
<text x="149.10" y="476.60" font-size="6.6" fill="#4a6aa6" stroke="#4a6aa6" stroke-width="0.2" text-anchor="middle" textLength="13.50" lengthAdjust="spacingAndGlyphs" font-style="italic">TRAC</text>
<text x="149.60" y="482.90" font-size="6.6" fill="#4a6aa6" stroke="#4a6aa6" stroke-width="0.2" text-anchor="middle" textLength="12.10" lengthAdjust="spacingAndGlyphs">CAR</text>
<text x="210.60" y="476.40" font-size="6.6" fill="#d4317a" stroke="#d4317a" stroke-width="0.15" text-anchor="middle" textLength="16.60" lengthAdjust="spacingAndGlyphs" font-style="italic">CD3ζ</text>
<text x="209.20" y="483.30" font-size="6.6" fill="#d4317a" stroke="#d4317a" stroke-width="0.15" text-anchor="middle" textLength="27.60" lengthAdjust="spacingAndGlyphs"><tspan font-style="italic">trunc</tspan>CAR</text>
<text x="270.60" y="476.40" font-size="6.6" fill="#a4a4cc" text-anchor="middle" textLength="15.60" lengthAdjust="spacingAndGlyphs" font-style="italic">CD3ζ</text>
<text x="266.50" y="483.30" font-size="6.6" fill="#a4a4cc" text-anchor="middle" textLength="28.00" lengthAdjust="spacingAndGlyphs"><tspan font-style="italic">trunc</tspan>CAR</text>
<text x="280.80" y="480.80" font-size="3.6" fill="#b8b8d8" textLength="7.50" lengthAdjust="spacingAndGlyphs">GSG</text>
<text x="58.30" y="497.40" font-size="6.6" fill="#333" text-anchor="middle" textLength="17.00" lengthAdjust="spacingAndGlyphs" transform="rotate(-90 58.30 497.40)">Day 3</text>
<text x="58.30" y="527.20" font-size="6.6" fill="#333" text-anchor="middle" textLength="19.60" lengthAdjust="spacingAndGlyphs" transform="rotate(-90 58.30 527.20)">Day 23</text>
<text x="58.30" y="555.80" font-size="6.6" fill="#333" text-anchor="middle" textLength="19.60" lengthAdjust="spacingAndGlyphs" transform="rotate(-90 58.30 555.80)">Day 37</text>
<g transform="translate(60.3,487.0)">
<rect x="0" y="0" width="55" height="24.7" fill="#101010"/>
<g filter="url(#bl)">
<ellipse cx="2.5999999999999996" cy="21.4" rx="2.0" ry="2.1" fill="#686868"/>
<ellipse cx="7.0" cy="21.4" rx="2.0" ry="2.1" fill="#5a5a5a"/>
<ellipse cx="10.399999999999999" cy="22.2" rx="1.2" ry="1.4" fill="#3a3a3a"/>
<g transform="translate(4.8,1.9) scale(0.98,1.0)"><path d="M0,0 C1.1,0 1.6,0.9 1.6,2.4 C1.6,3.6 2.3,4.4 2.8,5.6 C3.4,7.5 3.6,11.0 3.8,13.8 C3.9,16.2 2.2,17.4 0,17.4 C-2.2,17.4 -3.9,16.2 -3.8,13.8 C-3.6,11.0 -3.4,7.5 -2.8,5.6 C-2.3,4.4 -1.6,3.6 -1.6,2.4 C-1.6,0.9 -1.1,0 0,0 Z" fill="url(#mouseg)"/></g>
<ellipse cx="13.900000000000002" cy="21.4" rx="2.0" ry="2.1" fill="#686868"/>
<ellipse cx="18.3" cy="21.4" rx="2.0" ry="2.1" fill="#5a5a5a"/>
<ellipse cx="21.700000000000003" cy="22.2" rx="1.2" ry="1.4" fill="#3a3a3a"/>
<g transform="translate(16.1,1.9) scale(0.98,1.0)"><path d="M0,0 C1.1,0 1.6,0.9 1.6,2.4 C1.6,3.6 2.3,4.4 2.8,5.6 C3.4,7.5 3.6,11.0 3.8,13.8 C3.9,16.2 2.2,17.4 0,17.4 C-2.2,17.4 -3.9,16.2 -3.8,13.8 C-3.6,11.0 -3.4,7.5 -2.8,5.6 C-2.3,4.4 -1.6,3.6 -1.6,2.4 C-1.6,0.9 -1.1,0 0,0 Z" fill="url(#mouseg)"/></g>
<ellipse cx="25.200000000000003" cy="21.4" rx="2.0" ry="2.1" fill="#686868"/>
<ellipse cx="29.6" cy="21.4" rx="2.0" ry="2.1" fill="#5a5a5a"/>
<ellipse cx="33.0" cy="22.2" rx="1.2" ry="1.4" fill="#3a3a3a"/>
<g transform="translate(27.400000000000002,1.9) scale(0.98,1.0)"><path d="M0,0 C1.1,0 1.6,0.9 1.6,2.4 C1.6,3.6 2.3,4.4 2.8,5.6 C3.4,7.5 3.6,11.0 3.8,13.8 C3.9,16.2 2.2,17.4 0,17.4 C-2.2,17.4 -3.9,16.2 -3.8,13.8 C-3.6,11.0 -3.4,7.5 -2.8,5.6 C-2.3,4.4 -1.6,3.6 -1.6,2.4 C-1.6,0.9 -1.1,0 0,0 Z" fill="url(#mouseg)"/></g>
<ellipse cx="36.5" cy="21.4" rx="2.0" ry="2.1" fill="#686868"/>
<ellipse cx="40.900000000000006" cy="21.4" rx="2.0" ry="2.1" fill="#5a5a5a"/>
<ellipse cx="44.300000000000004" cy="22.2" rx="1.2" ry="1.4" fill="#3a3a3a"/>
<g transform="translate(38.7,1.9) scale(0.98,1.0)"><path d="M0,0 C1.1,0 1.6,0.9 1.6,2.4 C1.6,3.6 2.3,4.4 2.8,5.6 C3.4,7.5 3.6,11.0 3.8,13.8 C3.9,16.2 2.2,17.4 0,17.4 C-2.2,17.4 -3.9,16.2 -3.8,13.8 C-3.6,11.0 -3.4,7.5 -2.8,5.6 C-2.3,4.4 -1.6,3.6 -1.6,2.4 C-1.6,0.9 -1.1,0 0,0 Z" fill="url(#mouseg)"/></g>
<ellipse cx="47.8" cy="21.4" rx="2.0" ry="2.1" fill="#686868"/>
<ellipse cx="52.2" cy="21.4" rx="2.0" ry="2.1" fill="#5a5a5a"/>
<g transform="translate(50.0,1.9) scale(0.98,1.0)"><path d="M0,0 C1.1,0 1.6,0.9 1.6,2.4 C1.6,3.6 2.3,4.4 2.8,5.6 C3.4,7.5 3.6,11.0 3.8,13.8 C3.9,16.2 2.2,17.4 0,17.4 C-2.2,17.4 -3.9,16.2 -3.8,13.8 C-3.6,11.0 -3.4,7.5 -2.8,5.6 C-2.3,4.4 -1.6,3.6 -1.6,2.4 C-1.6,0.9 -1.1,0 0,0 Z" fill="url(#mouseg)"/></g>
</g>
</g>
<g transform="translate(60.3,516.0)">
<rect x="0" y="0" width="54.5" height="24.4" fill="#5424b0"/>
<rect x="0" y="0" width="54.5" height="2.2" fill="#241a80"/>
<rect x="0" y="22.4" width="54.5" height="2.0" fill="#2e1888"/>
<g filter="url(#bl)">
<rect x="0.50" y="1.6" width="8.6" height="20.4" rx="4" fill="#c83a9a"/>
<rect x="1.00" y="2.2" width="7.6" height="19.4" rx="3.6" fill="#ec3018"/>
<ellipse cx="4.80" cy="3.4" rx="2.4" ry="1.6" fill="#8ad048"/>
<ellipse cx="4.80" cy="5.6" rx="2.8" ry="1.4" fill="#f4a020"/>
<ellipse cx="5.40" cy="11.5" rx="2.0" ry="2.6" fill="#f28a1c"/>
<ellipse cx="3.80" cy="16.0" rx="1.6" ry="1.9" fill="#f6c82a"/>
<ellipse cx="6.00" cy="17.5" rx="1.4" ry="1.5" fill="#f07a20"/>
<rect x="4.40" y="21.5" width="0.8" height="2.6" fill="#b04ab8"/>
<rect x="11.80" y="1.6" width="8.6" height="20.4" rx="4" fill="#c83a9a"/>
<rect x="12.30" y="2.2" width="7.6" height="19.4" rx="3.6" fill="#ec3018"/>
<ellipse cx="16.10" cy="3.4" rx="2.4" ry="1.6" fill="#8ad048"/>
<ellipse cx="16.10" cy="5.6" rx="2.8" ry="1.4" fill="#f4a020"/>
<ellipse cx="16.70" cy="13.5" rx="2.0" ry="2.6" fill="#f28a1c"/>
<ellipse cx="15.10" cy="13.0" rx="1.6" ry="1.9" fill="#f6c82a"/>
<ellipse cx="17.30" cy="17.5" rx="1.4" ry="1.5" fill="#f07a20"/>
<rect x="15.70" y="21.5" width="0.8" height="2.6" fill="#b04ab8"/>
<rect x="23.10" y="1.6" width="8.6" height="20.4" rx="4" fill="#c83a9a"/>
<rect x="23.60" y="2.2" width="7.6" height="19.4" rx="3.6" fill="#ec3018"/>
<ellipse cx="27.40" cy="3.4" rx="2.4" ry="1.6" fill="#8ad048"/>
<ellipse cx="27.40" cy="5.6" rx="2.8" ry="1.4" fill="#f4a020"/>
<ellipse cx="28.00" cy="11.5" rx="2.0" ry="2.6" fill="#f28a1c"/>
<ellipse cx="26.40" cy="16.0" rx="1.6" ry="1.9" fill="#f6c82a"/>
<ellipse cx="28.60" cy="17.5" rx="1.4" ry="1.5" fill="#f07a20"/>
<rect x="27.00" y="21.5" width="0.8" height="2.6" fill="#b04ab8"/>
<rect x="34.40" y="1.6" width="8.6" height="20.4" rx="4" fill="#c83a9a"/>
<rect x="34.90" y="2.2" width="7.6" height="19.4" rx="3.6" fill="#ec3018"/>
<ellipse cx="38.70" cy="3.4" rx="2.4" ry="1.6" fill="#8ad048"/>
<ellipse cx="38.70" cy="5.6" rx="2.8" ry="1.4" fill="#f4a020"/>
<ellipse cx="39.30" cy="13.5" rx="2.0" ry="2.6" fill="#f28a1c"/>
<ellipse cx="37.70" cy="13.0" rx="1.6" ry="1.9" fill="#f6c82a"/>
<ellipse cx="39.90" cy="17.5" rx="1.4" ry="1.5" fill="#f07a20"/>
<rect x="38.30" y="21.5" width="0.8" height="2.6" fill="#b04ab8"/>
<rect x="45.70" y="1.6" width="8.6" height="20.4" rx="4" fill="#c83a9a"/>
<rect x="46.20" y="2.2" width="7.6" height="19.4" rx="3.6" fill="#ec3018"/>
<ellipse cx="50.00" cy="3.4" rx="2.4" ry="1.6" fill="#8ad048"/>
<ellipse cx="50.00" cy="5.6" rx="2.8" ry="1.4" fill="#f4a020"/>
<ellipse cx="50.60" cy="11.5" rx="2.0" ry="2.6" fill="#f28a1c"/>
<ellipse cx="49.00" cy="16.0" rx="1.6" ry="1.9" fill="#f6c82a"/>
<ellipse cx="51.20" cy="17.5" rx="1.4" ry="1.5" fill="#f07a20"/>
<rect x="49.60" y="21.5" width="0.8" height="2.6" fill="#b04ab8"/>
</g>
</g>
<g transform="translate(121.3,487.0)">
<rect x="0" y="0" width="55" height="24.7" fill="#101010"/>
<g filter="url(#bl)">
<ellipse cx="2.5999999999999996" cy="21.4" rx="2.0" ry="2.1" fill="#686868"/>
<ellipse cx="7.0" cy="21.4" rx="2.0" ry="2.1" fill="#5a5a5a"/>
<ellipse cx="10.399999999999999" cy="22.2" rx="1.2" ry="1.4" fill="#3a3a3a"/>
<g transform="translate(4.8,1.9) scale(0.98,1.0)"><path d="M0,0 C1.1,0 1.6,0.9 1.6,2.4 C1.6,3.6 2.3,4.4 2.8,5.6 C3.4,7.5 3.6,11.0 3.8,13.8 C3.9,16.2 2.2,17.4 0,17.4 C-2.2,17.4 -3.9,16.2 -3.8,13.8 C-3.6,11.0 -3.4,7.5 -2.8,5.6 C-2.3,4.4 -1.6,3.6 -1.6,2.4 C-1.6,0.9 -1.1,0 0,0 Z" fill="url(#mouseg)"/></g>
<ellipse cx="13.900000000000002" cy="21.4" rx="2.0" ry="2.1" fill="#686868"/>
<ellipse cx="18.3" cy="21.4" rx="2.0" ry="2.1" fill="#5a5a5a"/>
<ellipse cx="21.700000000000003" cy="22.2" rx="1.2" ry="1.4" fill="#3a3a3a"/>
<g transform="translate(16.1,1.9) scale(0.98,1.0)"><path d="M0,0 C1.1,0 1.6,0.9 1.6,2.4 C1.6,3.6 2.3,4.4 2.8,5.6 C3.4,7.5 3.6,11.0 3.8,13.8 C3.9,16.2 2.2,17.4 0,17.4 C-2.2,17.4 -3.9,16.2 -3.8,13.8 C-3.6,11.0 -3.4,7.5 -2.8,5.6 C-2.3,4.4 -1.6,3.6 -1.6,2.4 C-1.6,0.9 -1.1,0 0,0 Z" fill="url(#mouseg)"/></g>
<ellipse cx="25.200000000000003" cy="21.4" rx="2.0" ry="2.1" fill="#686868"/>
<ellipse cx="29.6" cy="21.4" rx="2.0" ry="2.1" fill="#5a5a5a"/>
<ellipse cx="33.0" cy="22.2" rx="1.2" ry="1.4" fill="#3a3a3a"/>
<g transform="translate(27.400000000000002,1.9) scale(0.98,1.0)"><path d="M0,0 C1.1,0 1.6,0.9 1.6,2.4 C1.6,3.6 2.3,4.4 2.8,5.6 C3.4,7.5 3.6,11.0 3.8,13.8 C3.9,16.2 2.2,17.4 0,17.4 C-2.2,17.4 -3.9,16.2 -3.8,13.8 C-3.6,11.0 -3.4,7.5 -2.8,5.6 C-2.3,4.4 -1.6,3.6 -1.6,2.4 C-1.6,0.9 -1.1,0 0,0 Z" fill="url(#mouseg)"/></g>
<ellipse cx="36.5" cy="21.4" rx="2.0" ry="2.1" fill="#686868"/>
<ellipse cx="40.900000000000006" cy="21.4" rx="2.0" ry="2.1" fill="#5a5a5a"/>
<ellipse cx="44.300000000000004" cy="22.2" rx="1.2" ry="1.4" fill="#3a3a3a"/>
<g transform="translate(38.7,1.9) scale(0.98,1.0)"><path d="M0,0 C1.1,0 1.6,0.9 1.6,2.4 C1.6,3.6 2.3,4.4 2.8,5.6 C3.4,7.5 3.6,11.0 3.8,13.8 C3.9,16.2 2.2,17.4 0,17.4 C-2.2,17.4 -3.9,16.2 -3.8,13.8 C-3.6,11.0 -3.4,7.5 -2.8,5.6 C-2.3,4.4 -1.6,3.6 -1.6,2.4 C-1.6,0.9 -1.1,0 0,0 Z" fill="url(#mouseg)"/></g>
<ellipse cx="47.8" cy="21.4" rx="2.0" ry="2.1" fill="#686868"/>
<ellipse cx="52.2" cy="21.4" rx="2.0" ry="2.1" fill="#5a5a5a"/>
<g transform="translate(50.0,1.9) scale(0.98,1.0)"><path d="M0,0 C1.1,0 1.6,0.9 1.6,2.4 C1.6,3.6 2.3,4.4 2.8,5.6 C3.4,7.5 3.6,11.0 3.8,13.8 C3.9,16.2 2.2,17.4 0,17.4 C-2.2,17.4 -3.9,16.2 -3.8,13.8 C-3.6,11.0 -3.4,7.5 -2.8,5.6 C-2.3,4.4 -1.6,3.6 -1.6,2.4 C-1.6,0.9 -1.1,0 0,0 Z" fill="url(#mouseg)"/></g>
</g>
</g>
<g transform="translate(121.3,516.0)">
<rect x="0" y="0" width="55" height="24.7" fill="#101010"/>
<g filter="url(#bl)">
<ellipse cx="2.5999999999999996" cy="21.4" rx="2.0" ry="2.1" fill="#686868"/>
<ellipse cx="7.0" cy="21.4" rx="2.0" ry="2.1" fill="#5a5a5a"/>
<ellipse cx="10.399999999999999" cy="22.2" rx="1.2" ry="1.4" fill="#3a3a3a"/>
<g transform="translate(4.8,1.9) scale(0.98,1.0)"><path d="M0,0 C1.1,0 1.6,0.9 1.6,2.4 C1.6,3.6 2.3,4.4 2.8,5.6 C3.4,7.5 3.6,11.0 3.8,13.8 C3.9,16.2 2.2,17.4 0,17.4 C-2.2,17.4 -3.9,16.2 -3.8,13.8 C-3.6,11.0 -3.4,7.5 -2.8,5.6 C-2.3,4.4 -1.6,3.6 -1.6,2.4 C-1.6,0.9 -1.1,0 0,0 Z" fill="url(#mouseg)"/></g>
<ellipse cx="13.900000000000002" cy="21.4" rx="2.0" ry="2.1" fill="#686868"/>
<ellipse cx="18.3" cy="21.4" rx="2.0" ry="2.1" fill="#5a5a5a"/>
<ellipse cx="21.700000000000003" cy="22.2" rx="1.2" ry="1.4" fill="#3a3a3a"/>
<g transform="translate(16.1,1.9) scale(0.98,1.0)"><path d="M0,0 C1.1,0 1.6,0.9 1.6,2.4 C1.6,3.6 2.3,4.4 2.8,5.6 C3.4,7.5 3.6,11.0 3.8,13.8 C3.9,16.2 2.2,17.4 0,17.4 C-2.2,17.4 -3.9,16.2 -3.8,13.8 C-3.6,11.0 -3.4,7.5 -2.8,5.6 C-2.3,4.4 -1.6,3.6 -1.6,2.4 C-1.6,0.9 -1.1,0 0,0 Z" fill="url(#mouseg)"/></g>
<ellipse cx="25.200000000000003" cy="21.4" rx="2.0" ry="2.1" fill="#686868"/>
<ellipse cx="29.6" cy="21.4" rx="2.0" ry="2.1" fill="#5a5a5a"/>
<ellipse cx="33.0" cy="22.2" rx="1.2" ry="1.4" fill="#3a3a3a"/>
<g transform="translate(27.400000000000002,1.9) scale(0.98,1.0)"><path d="M0,0 C1.1,0 1.6,0.9 1.6,2.4 C1.6,3.6 2.3,4.4 2.8,5.6 C3.4,7.5 3.6,11.0 3.8,13.8 C3.9,16.2 2.2,17.4 0,17.4 C-2.2,17.4 -3.9,16.2 -3.8,13.8 C-3.6,11.0 -3.4,7.5 -2.8,5.6 C-2.3,4.4 -1.6,3.6 -1.6,2.4 C-1.6,0.9 -1.1,0 0,0 Z" fill="url(#mouseg)"/></g>
<ellipse cx="36.5" cy="21.4" rx="2.0" ry="2.1" fill="#686868"/>
<ellipse cx="40.900000000000006" cy="21.4" rx="2.0" ry="2.1" fill="#5a5a5a"/>
<ellipse cx="44.300000000000004" cy="22.2" rx="1.2" ry="1.4" fill="#3a3a3a"/>
<g transform="translate(38.7,1.9) scale(0.98,1.0)"><path d="M0,0 C1.1,0 1.6,0.9 1.6,2.4 C1.6,3.6 2.3,4.4 2.8,5.6 C3.4,7.5 3.6,11.0 3.8,13.8 C3.9,16.2 2.2,17.4 0,17.4 C-2.2,17.4 -3.9,16.2 -3.8,13.8 C-3.6,11.0 -3.4,7.5 -2.8,5.6 C-2.3,4.4 -1.6,3.6 -1.6,2.4 C-1.6,0.9 -1.1,0 0,0 Z" fill="url(#mouseg)"/></g>
<ellipse cx="47.8" cy="21.4" rx="2.0" ry="2.1" fill="#686868"/>
<ellipse cx="52.2" cy="21.4" rx="2.0" ry="2.1" fill="#5a5a5a"/>
<g transform="translate(50.0,1.9) scale(0.98,1.0)"><path d="M0,0 C1.1,0 1.6,0.9 1.6,2.4 C1.6,3.6 2.3,4.4 2.8,5.6 C3.4,7.5 3.6,11.0 3.8,13.8 C3.9,16.2 2.2,17.4 0,17.4 C-2.2,17.4 -3.9,16.2 -3.8,13.8 C-3.6,11.0 -3.4,7.5 -2.8,5.6 C-2.3,4.4 -1.6,3.6 -1.6,2.4 C-1.6,0.9 -1.1,0 0,0 Z" fill="url(#mouseg)"/></g>
</g>
</g>
<g transform="translate(182.3,487.0)">
<rect x="0" y="0" width="55" height="24.7" fill="#101010"/>
<g filter="url(#bl)">
<ellipse cx="2.5999999999999996" cy="21.4" rx="2.0" ry="2.1" fill="#686868"/>
<ellipse cx="7.0" cy="21.4" rx="2.0" ry="2.1" fill="#5a5a5a"/>
<ellipse cx="10.399999999999999" cy="22.2" rx="1.2" ry="1.4" fill="#3a3a3a"/>
<g transform="translate(4.8,1.9) scale(0.98,1.0)"><path d="M0,0 C1.1,0 1.6,0.9 1.6,2.4 C1.6,3.6 2.3,4.4 2.8,5.6 C3.4,7.5 3.6,11.0 3.8,13.8 C3.9,16.2 2.2,17.4 0,17.4 C-2.2,17.4 -3.9,16.2 -3.8,13.8 C-3.6,11.0 -3.4,7.5 -2.8,5.6 C-2.3,4.4 -1.6,3.6 -1.6,2.4 C-1.6,0.9 -1.1,0 0,0 Z" fill="url(#mouseg)"/></g>
<ellipse cx="13.900000000000002" cy="21.4" rx="2.0" ry="2.1" fill="#686868"/>
<ellipse cx="18.3" cy="21.4" rx="2.0" ry="2.1" fill="#5a5a5a"/>
<ellipse cx="21.700000000000003" cy="22.2" rx="1.2" ry="1.4" fill="#3a3a3a"/>
<g transform="translate(16.1,1.9) scale(0.98,1.0)"><path d="M0,0 C1.1,0 1.6,0.9 1.6,2.4 C1.6,3.6 2.3,4.4 2.8,5.6 C3.4,7.5 3.6,11.0 3.8,13.8 C3.9,16.2 2.2,17.4 0,17.4 C-2.2,17.4 -3.9,16.2 -3.8,13.8 C-3.6,11.0 -3.4,7.5 -2.8,5.6 C-2.3,4.4 -1.6,3.6 -1.6,2.4 C-1.6,0.9 -1.1,0 0,0 Z" fill="url(#mouseg)"/></g>
<ellipse cx="25.200000000000003" cy="21.4" rx="2.0" ry="2.1" fill="#686868"/>
<ellipse cx="29.6" cy="21.4" rx="2.0" ry="2.1" fill="#5a5a5a"/>
<ellipse cx="33.0" cy="22.2" rx="1.2" ry="1.4" fill="#3a3a3a"/>
<g transform="translate(27.400000000000002,1.9) scale(0.98,1.0)"><path d="M0,0 C1.1,0 1.6,0.9 1.6,2.4 C1.6,3.6 2.3,4.4 2.8,5.6 C3.4,7.5 3.6,11.0 3.8,13.8 C3.9,16.2 2.2,17.4 0,17.4 C-2.2,17.4 -3.9,16.2 -3.8,13.8 C-3.6,11.0 -3.4,7.5 -2.8,5.6 C-2.3,4.4 -1.6,3.6 -1.6,2.4 C-1.6,0.9 -1.1,0 0,0 Z" fill="url(#mouseg)"/></g>
<ellipse cx="36.5" cy="21.4" rx="2.0" ry="2.1" fill="#686868"/>
<ellipse cx="40.900000000000006" cy="21.4" rx="2.0" ry="2.1" fill="#5a5a5a"/>
<ellipse cx="44.300000000000004" cy="22.2" rx="1.2" ry="1.4" fill="#3a3a3a"/>
<g transform="translate(38.7,1.9) scale(0.98,1.0)"><path d="M0,0 C1.1,0 1.6,0.9 1.6,2.4 C1.6,3.6 2.3,4.4 2.8,5.6 C3.4,7.5 3.6,11.0 3.8,13.8 C3.9,16.2 2.2,17.4 0,17.4 C-2.2,17.4 -3.9,16.2 -3.8,13.8 C-3.6,11.0 -3.4,7.5 -2.8,5.6 C-2.3,4.4 -1.6,3.6 -1.6,2.4 C-1.6,0.9 -1.1,0 0,0 Z" fill="url(#mouseg)"/></g>
<ellipse cx="47.8" cy="21.4" rx="2.0" ry="2.1" fill="#686868"/>
<ellipse cx="52.2" cy="21.4" rx="2.0" ry="2.1" fill="#5a5a5a"/>
<g transform="translate(50.0,1.9) scale(0.98,1.0)"><path d="M0,0 C1.1,0 1.6,0.9 1.6,2.4 C1.6,3.6 2.3,4.4 2.8,5.6 C3.4,7.5 3.6,11.0 3.8,13.8 C3.9,16.2 2.2,17.4 0,17.4 C-2.2,17.4 -3.9,16.2 -3.8,13.8 C-3.6,11.0 -3.4,7.5 -2.8,5.6 C-2.3,4.4 -1.6,3.6 -1.6,2.4 C-1.6,0.9 -1.1,0 0,0 Z" fill="url(#mouseg)"/></g>
</g>
</g>
<g transform="translate(182.3,516.0)">
<rect x="0" y="0" width="55" height="24.7" fill="#101010"/>
<g filter="url(#bl)">
<ellipse cx="2.5999999999999996" cy="21.4" rx="2.0" ry="2.1" fill="#686868"/>
<ellipse cx="7.0" cy="21.4" rx="2.0" ry="2.1" fill="#5a5a5a"/>
<ellipse cx="10.399999999999999" cy="22.2" rx="1.2" ry="1.4" fill="#3a3a3a"/>
<g transform="translate(4.8,1.9) scale(0.98,1.0)"><path d="M0,0 C1.1,0 1.6,0.9 1.6,2.4 C1.6,3.6 2.3,4.4 2.8,5.6 C3.4,7.5 3.6,11.0 3.8,13.8 C3.9,16.2 2.2,17.4 0,17.4 C-2.2,17.4 -3.9,16.2 -3.8,13.8 C-3.6,11.0 -3.4,7.5 -2.8,5.6 C-2.3,4.4 -1.6,3.6 -1.6,2.4 C-1.6,0.9 -1.1,0 0,0 Z" fill="url(#mouseg)"/></g>
<ellipse cx="13.900000000000002" cy="21.4" rx="2.0" ry="2.1" fill="#686868"/>
<ellipse cx="18.3" cy="21.4" rx="2.0" ry="2.1" fill="#5a5a5a"/>
<ellipse cx="21.700000000000003" cy="22.2" rx="1.2" ry="1.4" fill="#3a3a3a"/>
<g transform="translate(16.1,1.9) scale(0.98,1.0)"><path d="M0,0 C1.1,0 1.6,0.9 1.6,2.4 C1.6,3.6 2.3,4.4 2.8,5.6 C3.4,7.5 3.6,11.0 3.8,13.8 C3.9,16.2 2.2,17.4 0,17.4 C-2.2,17.4 -3.9,16.2 -3.8,13.8 C-3.6,11.0 -3.4,7.5 -2.8,5.6 C-2.3,4.4 -1.6,3.6 -1.6,2.4 C-1.6,0.9 -1.1,0 0,0 Z" fill="url(#mouseg)"/></g>
<ellipse cx="25.200000000000003" cy="21.4" rx="2.0" ry="2.1" fill="#686868"/>
<ellipse cx="29.6" cy="21.4" rx="2.0" ry="2.1" fill="#5a5a5a"/>
<ellipse cx="33.0" cy="22.2" rx="1.2" ry="1.4" fill="#3a3a3a"/>
<g transform="translate(27.400000000000002,1.9) scale(0.98,1.0)"><path d="M0,0 C1.1,0 1.6,0.9 1.6,2.4 C1.6,3.6 2.3,4.4 2.8,5.6 C3.4,7.5 3.6,11.0 3.8,13.8 C3.9,16.2 2.2,17.4 0,17.4 C-2.2,17.4 -3.9,16.2 -3.8,13.8 C-3.6,11.0 -3.4,7.5 -2.8,5.6 C-2.3,4.4 -1.6,3.6 -1.6,2.4 C-1.6,0.9 -1.1,0 0,0 Z" fill="url(#mouseg)"/></g>
<ellipse cx="36.5" cy="21.4" rx="2.0" ry="2.1" fill="#686868"/>
<ellipse cx="40.900000000000006" cy="21.4" rx="2.0" ry="2.1" fill="#5a5a5a"/>
<ellipse cx="44.300000000000004" cy="22.2" rx="1.2" ry="1.4" fill="#3a3a3a"/>
<g transform="translate(38.7,1.9) scale(0.98,1.0)"><path d="M0,0 C1.1,0 1.6,0.9 1.6,2.4 C1.6,3.6 2.3,4.4 2.8,5.6 C3.4,7.5 3.6,11.0 3.8,13.8 C3.9,16.2 2.2,17.4 0,17.4 C-2.2,17.4 -3.9,16.2 -3.8,13.8 C-3.6,11.0 -3.4,7.5 -2.8,5.6 C-2.3,4.4 -1.6,3.6 -1.6,2.4 C-1.6,0.9 -1.1,0 0,0 Z" fill="url(#mouseg)"/></g>
<ellipse cx="47.8" cy="21.4" rx="2.0" ry="2.1" fill="#686868"/>
<ellipse cx="52.2" cy="21.4" rx="2.0" ry="2.1" fill="#5a5a5a"/>
<g transform="translate(50.0,1.9) scale(0.98,1.0)"><path d="M0,0 C1.1,0 1.6,0.9 1.6,2.4 C1.6,3.6 2.3,4.4 2.8,5.6 C3.4,7.5 3.6,11.0 3.8,13.8 C3.9,16.2 2.2,17.4 0,17.4 C-2.2,17.4 -3.9,16.2 -3.8,13.8 C-3.6,11.0 -3.4,7.5 -2.8,5.6 C-2.3,4.4 -1.6,3.6 -1.6,2.4 C-1.6,0.9 -1.1,0 0,0 Z" fill="url(#mouseg)"/></g>
</g>
</g>
<g transform="translate(243.4,487.0)">
<rect x="0" y="0" width="55" height="24.7" fill="#101010"/>
<g filter="url(#bl)">
<ellipse cx="2.5999999999999996" cy="21.4" rx="2.0" ry="2.1" fill="#686868"/>
<ellipse cx="7.0" cy="21.4" rx="2.0" ry="2.1" fill="#5a5a5a"/>
<ellipse cx="10.399999999999999" cy="22.2" rx="1.2" ry="1.4" fill="#3a3a3a"/>
<g transform="translate(4.8,1.9) scale(0.98,1.0)"><path d="M0,0 C1.1,0 1.6,0.9 1.6,2.4 C1.6,3.6 2.3,4.4 2.8,5.6 C3.4,7.5 3.6,11.0 3.8,13.8 C3.9,16.2 2.2,17.4 0,17.4 C-2.2,17.4 -3.9,16.2 -3.8,13.8 C-3.6,11.0 -3.4,7.5 -2.8,5.6 C-2.3,4.4 -1.6,3.6 -1.6,2.4 C-1.6,0.9 -1.1,0 0,0 Z" fill="url(#mouseg)"/></g>
<ellipse cx="13.900000000000002" cy="21.4" rx="2.0" ry="2.1" fill="#686868"/>
<ellipse cx="18.3" cy="21.4" rx="2.0" ry="2.1" fill="#5a5a5a"/>
<ellipse cx="21.700000000000003" cy="22.2" rx="1.2" ry="1.4" fill="#3a3a3a"/>
<g transform="translate(16.1,1.9) scale(0.98,1.0)"><path d="M0,0 C1.1,0 1.6,0.9 1.6,2.4 C1.6,3.6 2.3,4.4 2.8,5.6 C3.4,7.5 3.6,11.0 3.8,13.8 C3.9,16.2 2.2,17.4 0,17.4 C-2.2,17.4 -3.9,16.2 -3.8,13.8 C-3.6,11.0 -3.4,7.5 -2.8,5.6 C-2.3,4.4 -1.6,3.6 -1.6,2.4 C-1.6,0.9 -1.1,0 0,0 Z" fill="url(#mouseg)"/></g>
<ellipse cx="25.200000000000003" cy="21.4" rx="2.0" ry="2.1" fill="#686868"/>
<ellipse cx="29.6" cy="21.4" rx="2.0" ry="2.1" fill="#5a5a5a"/>
<ellipse cx="33.0" cy="22.2" rx="1.2" ry="1.4" fill="#3a3a3a"/>
<g transform="translate(27.400000000000002,1.9) scale(0.98,1.0)"><path d="M0,0 C1.1,0 1.6,0.9 1.6,2.4 C1.6,3.6 2.3,4.4 2.8,5.6 C3.4,7.5 3.6,11.0 3.8,13.8 C3.9,16.2 2.2,17.4 0,17.4 C-2.2,17.4 -3.9,16.2 -3.8,13.8 C-3.6,11.0 -3.4,7.5 -2.8,5.6 C-2.3,4.4 -1.6,3.6 -1.6,2.4 C-1.6,0.9 -1.1,0 0,0 Z" fill="url(#mouseg)"/></g>
<ellipse cx="36.5" cy="21.4" rx="2.0" ry="2.1" fill="#686868"/>
<ellipse cx="40.900000000000006" cy="21.4" rx="2.0" ry="2.1" fill="#5a5a5a"/>
<ellipse cx="44.300000000000004" cy="22.2" rx="1.2" ry="1.4" fill="#3a3a3a"/>
<g transform="translate(38.7,1.9) scale(0.98,1.0)"><path d="M0,0 C1.1,0 1.6,0.9 1.6,2.4 C1.6,3.6 2.3,4.4 2.8,5.6 C3.4,7.5 3.6,11.0 3.8,13.8 C3.9,16.2 2.2,17.4 0,17.4 C-2.2,17.4 -3.9,16.2 -3.8,13.8 C-3.6,11.0 -3.4,7.5 -2.8,5.6 C-2.3,4.4 -1.6,3.6 -1.6,2.4 C-1.6,0.9 -1.1,0 0,0 Z" fill="url(#mouseg)"/></g>
<ellipse cx="47.8" cy="21.4" rx="2.0" ry="2.1" fill="#686868"/>
<ellipse cx="52.2" cy="21.4" rx="2.0" ry="2.1" fill="#5a5a5a"/>
<g transform="translate(50.0,1.9) scale(0.98,1.0)"><path d="M0,0 C1.1,0 1.6,0.9 1.6,2.4 C1.6,3.6 2.3,4.4 2.8,5.6 C3.4,7.5 3.6,11.0 3.8,13.8 C3.9,16.2 2.2,17.4 0,17.4 C-2.2,17.4 -3.9,16.2 -3.8,13.8 C-3.6,11.0 -3.4,7.5 -2.8,5.6 C-2.3,4.4 -1.6,3.6 -1.6,2.4 C-1.6,0.9 -1.1,0 0,0 Z" fill="url(#mouseg)"/></g>
</g>
</g>
<g transform="translate(243.4,516.0)">
<rect x="0" y="0" width="55" height="24.7" fill="#101010"/>
<g filter="url(#bl)">
<ellipse cx="2.5999999999999996" cy="21.4" rx="2.0" ry="2.1" fill="#686868"/>
<ellipse cx="7.0" cy="21.4" rx="2.0" ry="2.1" fill="#5a5a5a"/>
<ellipse cx="10.399999999999999" cy="22.2" rx="1.2" ry="1.4" fill="#3a3a3a"/>
<g transform="translate(4.8,1.9) scale(0.98,1.0)"><path d="M0,0 C1.1,0 1.6,0.9 1.6,2.4 C1.6,3.6 2.3,4.4 2.8,5.6 C3.4,7.5 3.6,11.0 3.8,13.8 C3.9,16.2 2.2,17.4 0,17.4 C-2.2,17.4 -3.9,16.2 -3.8,13.8 C-3.6,11.0 -3.4,7.5 -2.8,5.6 C-2.3,4.4 -1.6,3.6 -1.6,2.4 C-1.6,0.9 -1.1,0 0,0 Z" fill="url(#mouseg)"/></g>
<ellipse cx="13.900000000000002" cy="21.4" rx="2.0" ry="2.1" fill="#686868"/>
<ellipse cx="18.3" cy="21.4" rx="2.0" ry="2.1" fill="#5a5a5a"/>
<ellipse cx="21.700000000000003" cy="22.2" rx="1.2" ry="1.4" fill="#3a3a3a"/>
<g transform="translate(16.1,1.9) scale(0.98,1.0)"><path d="M0,0 C1.1,0 1.6,0.9 1.6,2.4 C1.6,3.6 2.3,4.4 2.8,5.6 C3.4,7.5 3.6,11.0 3.8,13.8 C3.9,16.2 2.2,17.4 0,17.4 C-2.2,17.4 -3.9,16.2 -3.8,13.8 C-3.6,11.0 -3.4,7.5 -2.8,5.6 C-2.3,4.4 -1.6,3.6 -1.6,2.4 C-1.6,0.9 -1.1,0 0,0 Z" fill="url(#mouseg)"/></g>
<ellipse cx="25.200000000000003" cy="21.4" rx="2.0" ry="2.1" fill="#686868"/>
<ellipse cx="29.6" cy="21.4" rx="2.0" ry="2.1" fill="#5a5a5a"/>
<ellipse cx="33.0" cy="22.2" rx="1.2" ry="1.4" fill="#3a3a3a"/>
<g transform="translate(27.400000000000002,1.9) scale(0.98,1.0)"><path d="M0,0 C1.1,0 1.6,0.9 1.6,2.4 C1.6,3.6 2.3,4.4 2.8,5.6 C3.4,7.5 3.6,11.0 3.8,13.8 C3.9,16.2 2.2,17.4 0,17.4 C-2.2,17.4 -3.9,16.2 -3.8,13.8 C-3.6,11.0 -3.4,7.5 -2.8,5.6 C-2.3,4.4 -1.6,3.6 -1.6,2.4 C-1.6,0.9 -1.1,0 0,0 Z" fill="url(#mouseg)"/></g>
<ellipse cx="36.5" cy="21.4" rx="2.0" ry="2.1" fill="#686868"/>
<ellipse cx="40.900000000000006" cy="21.4" rx="2.0" ry="2.1" fill="#5a5a5a"/>
<ellipse cx="44.300000000000004" cy="22.2" rx="1.2" ry="1.4" fill="#3a3a3a"/>
<g transform="translate(38.7,1.9) scale(0.98,1.0)"><path d="M0,0 C1.1,0 1.6,0.9 1.6,2.4 C1.6,3.6 2.3,4.4 2.8,5.6 C3.4,7.5 3.6,11.0 3.8,13.8 C3.9,16.2 2.2,17.4 0,17.4 C-2.2,17.4 -3.9,16.2 -3.8,13.8 C-3.6,11.0 -3.4,7.5 -2.8,5.6 C-2.3,4.4 -1.6,3.6 -1.6,2.4 C-1.6,0.9 -1.1,0 0,0 Z" fill="url(#mouseg)"/></g>
<ellipse cx="47.8" cy="21.4" rx="2.0" ry="2.1" fill="#686868"/>
<ellipse cx="52.2" cy="21.4" rx="2.0" ry="2.1" fill="#5a5a5a"/>
<g transform="translate(50.0,1.9) scale(0.98,1.0)"><path d="M0,0 C1.1,0 1.6,0.9 1.6,2.4 C1.6,3.6 2.3,4.4 2.8,5.6 C3.4,7.5 3.6,11.0 3.8,13.8 C3.9,16.2 2.2,17.4 0,17.4 C-2.2,17.4 -3.9,16.2 -3.8,13.8 C-3.6,11.0 -3.4,7.5 -2.8,5.6 C-2.3,4.4 -1.6,3.6 -1.6,2.4 C-1.6,0.9 -1.1,0 0,0 Z" fill="url(#mouseg)"/></g>
</g>
</g>
<g transform="translate(121.3,544.8)">
<rect x="0" y="0" width="55" height="24.7" fill="#101010"/>
<g filter="url(#bl)">
<ellipse cx="2.5999999999999996" cy="21.4" rx="2.0" ry="2.1" fill="#686868"/>
<ellipse cx="7.0" cy="21.4" rx="2.0" ry="2.1" fill="#5a5a5a"/>
<ellipse cx="10.399999999999999" cy="22.2" rx="1.2" ry="1.4" fill="#3a3a3a"/>
<g transform="translate(4.8,1.9) scale(0.98,1.0)"><path d="M0,0 C1.1,0 1.6,0.9 1.6,2.4 C1.6,3.6 2.3,4.4 2.8,5.6 C3.4,7.5 3.6,11.0 3.8,13.8 C3.9,16.2 2.2,17.4 0,17.4 C-2.2,17.4 -3.9,16.2 -3.8,13.8 C-3.6,11.0 -3.4,7.5 -2.8,5.6 C-2.3,4.4 -1.6,3.6 -1.6,2.4 C-1.6,0.9 -1.1,0 0,0 Z" fill="url(#mouseg)"/></g>
<ellipse cx="13.900000000000002" cy="21.4" rx="2.0" ry="2.1" fill="#686868"/>
<ellipse cx="18.3" cy="21.4" rx="2.0" ry="2.1" fill="#5a5a5a"/>
<ellipse cx="21.700000000000003" cy="22.2" rx="1.2" ry="1.4" fill="#3a3a3a"/>
<g transform="translate(16.1,1.9) scale(0.98,1.0)"><path d="M0,0 C1.1,0 1.6,0.9 1.6,2.4 C1.6,3.6 2.3,4.4 2.8,5.6 C3.4,7.5 3.6,11.0 3.8,13.8 C3.9,16.2 2.2,17.4 0,17.4 C-2.2,17.4 -3.9,16.2 -3.8,13.8 C-3.6,11.0 -3.4,7.5 -2.8,5.6 C-2.3,4.4 -1.6,3.6 -1.6,2.4 C-1.6,0.9 -1.1,0 0,0 Z" fill="url(#mouseg)"/></g>
<ellipse cx="25.200000000000003" cy="21.4" rx="2.0" ry="2.1" fill="#686868"/>
<ellipse cx="29.6" cy="21.4" rx="2.0" ry="2.1" fill="#5a5a5a"/>
<ellipse cx="33.0" cy="22.2" rx="1.2" ry="1.4" fill="#3a3a3a"/>
<g transform="translate(27.400000000000002,1.9) scale(0.98,1.0)"><path d="M0,0 C1.1,0 1.6,0.9 1.6,2.4 C1.6,3.6 2.3,4.4 2.8,5.6 C3.4,7.5 3.6,11.0 3.8,13.8 C3.9,16.2 2.2,17.4 0,17.4 C-2.2,17.4 -3.9,16.2 -3.8,13.8 C-3.6,11.0 -3.4,7.5 -2.8,5.6 C-2.3,4.4 -1.6,3.6 -1.6,2.4 C-1.6,0.9 -1.1,0 0,0 Z" fill="url(#mouseg)"/></g>
<ellipse cx="36.5" cy="21.4" rx="2.0" ry="2.1" fill="#686868"/>
<ellipse cx="40.900000000000006" cy="21.4" rx="2.0" ry="2.1" fill="#5a5a5a"/>
<ellipse cx="44.300000000000004" cy="22.2" rx="1.2" ry="1.4" fill="#3a3a3a"/>
<g transform="translate(38.7,1.9) scale(0.98,1.0)"><path d="M0,0 C1.1,0 1.6,0.9 1.6,2.4 C1.6,3.6 2.3,4.4 2.8,5.6 C3.4,7.5 3.6,11.0 3.8,13.8 C3.9,16.2 2.2,17.4 0,17.4 C-2.2,17.4 -3.9,16.2 -3.8,13.8 C-3.6,11.0 -3.4,7.5 -2.8,5.6 C-2.3,4.4 -1.6,3.6 -1.6,2.4 C-1.6,0.9 -1.1,0 0,0 Z" fill="url(#mouseg)"/></g>
<ellipse cx="47.8" cy="21.4" rx="2.0" ry="2.1" fill="#686868"/>
<ellipse cx="52.2" cy="21.4" rx="2.0" ry="2.1" fill="#5a5a5a"/>
<g transform="translate(50.0,1.9) scale(0.98,1.0)"><path d="M0,0 C1.1,0 1.6,0.9 1.6,2.4 C1.6,3.6 2.3,4.4 2.8,5.6 C3.4,7.5 3.6,11.0 3.8,13.8 C3.9,16.2 2.2,17.4 0,17.4 C-2.2,17.4 -3.9,16.2 -3.8,13.8 C-3.6,11.0 -3.4,7.5 -2.8,5.6 C-2.3,4.4 -1.6,3.6 -1.6,2.4 C-1.6,0.9 -1.1,0 0,0 Z" fill="url(#mouseg)"/></g>
<ellipse cx="16.10" cy="4.0" rx="2.4" ry="1.4" fill="#7a3ad0"/>
<ellipse cx="16.10" cy="4.0" rx="1.56" ry="0.84" fill="#4a22b0"/>
<ellipse cx="16.10" cy="11.5" rx="3.4" ry="2.4" fill="#7a3ad0"/>
<ellipse cx="16.10" cy="11.5" rx="2.21" ry="1.44" fill="#4a22b0"/>
<ellipse cx="27.40" cy="10.5" rx="3.6" ry="2.6" fill="#7a3ad0"/>
<ellipse cx="27.40" cy="10.5" rx="2.34" ry="1.56" fill="#4a22b0"/>
<ellipse cx="38.70" cy="5.0" rx="3.0" ry="1.8" fill="#7a3ad0"/>
<ellipse cx="38.70" cy="5.0" rx="1.95" ry="1.08" fill="#4a22b0"/>
</g>
</g>
<g transform="translate(182.3,544.8)">
<rect x="0" y="0" width="55" height="24.7" fill="#101010"/>
<g filter="url(#bl)">
<ellipse cx="2.5999999999999996" cy="21.4" rx="2.0" ry="2.1" fill="#686868"/>
<ellipse cx="7.0" cy="21.4" rx="2.0" ry="2.1" fill="#5a5a5a"/>
<ellipse cx="10.399999999999999" cy="22.2" rx="1.2" ry="1.4" fill="#3a3a3a"/>
<g transform="translate(4.8,1.9) scale(0.98,1.0)"><path d="M0,0 C1.1,0 1.6,0.9 1.6,2.4 C1.6,3.6 2.3,4.4 2.8,5.6 C3.4,7.5 3.6,11.0 3.8,13.8 C3.9,16.2 2.2,17.4 0,17.4 C-2.2,17.4 -3.9,16.2 -3.8,13.8 C-3.6,11.0 -3.4,7.5 -2.8,5.6 C-2.3,4.4 -1.6,3.6 -1.6,2.4 C-1.6,0.9 -1.1,0 0,0 Z" fill="url(#mouseg)"/></g>
<ellipse cx="13.900000000000002" cy="21.4" rx="2.0" ry="2.1" fill="#686868"/>
<ellipse cx="18.3" cy="21.4" rx="2.0" ry="2.1" fill="#5a5a5a"/>
<ellipse cx="21.700000000000003" cy="22.2" rx="1.2" ry="1.4" fill="#3a3a3a"/>
<g transform="translate(16.1,1.9) scale(0.98,1.0)"><path d="M0,0 C1.1,0 1.6,0.9 1.6,2.4 C1.6,3.6 2.3,4.4 2.8,5.6 C3.4,7.5 3.6,11.0 3.8,13.8 C3.9,16.2 2.2,17.4 0,17.4 C-2.2,17.4 -3.9,16.2 -3.8,13.8 C-3.6,11.0 -3.4,7.5 -2.8,5.6 C-2.3,4.4 -1.6,3.6 -1.6,2.4 C-1.6,0.9 -1.1,0 0,0 Z" fill="url(#mouseg)"/></g>
<ellipse cx="25.200000000000003" cy="21.4" rx="2.0" ry="2.1" fill="#686868"/>
<ellipse cx="29.6" cy="21.4" rx="2.0" ry="2.1" fill="#5a5a5a"/>
<ellipse cx="33.0" cy="22.2" rx="1.2" ry="1.4" fill="#3a3a3a"/>
<g transform="translate(27.400000000000002,1.9) scale(0.98,1.0)"><path d="M0,0 C1.1,0 1.6,0.9 1.6,2.4 C1.6,3.6 2.3,4.4 2.8,5.6 C3.4,7.5 3.6,11.0 3.8,13.8 C3.9,16.2 2.2,17.4 0,17.4 C-2.2,17.4 -3.9,16.2 -3.8,13.8 C-3.6,11.0 -3.4,7.5 -2.8,5.6 C-2.3,4.4 -1.6,3.6 -1.6,2.4 C-1.6,0.9 -1.1,0 0,0 Z" fill="url(#mouseg)"/></g>
<ellipse cx="36.5" cy="21.4" rx="2.0" ry="2.1" fill="#686868"/>
<ellipse cx="40.900000000000006" cy="21.4" rx="2.0" ry="2.1" fill="#5a5a5a"/>
<ellipse cx="44.300000000000004" cy="22.2" rx="1.2" ry="1.4" fill="#3a3a3a"/>
<g transform="translate(38.7,1.9) scale(0.98,1.0)"><path d="M0,0 C1.1,0 1.6,0.9 1.6,2.4 C1.6,3.6 2.3,4.4 2.8,5.6 C3.4,7.5 3.6,11.0 3.8,13.8 C3.9,16.2 2.2,17.4 0,17.4 C-2.2,17.4 -3.9,16.2 -3.8,13.8 C-3.6,11.0 -3.4,7.5 -2.8,5.6 C-2.3,4.4 -1.6,3.6 -1.6,2.4 C-1.6,0.9 -1.1,0 0,0 Z" fill="url(#mouseg)"/></g>
<ellipse cx="47.8" cy="21.4" rx="2.0" ry="2.1" fill="#686868"/>
<ellipse cx="52.2" cy="21.4" rx="2.0" ry="2.1" fill="#5a5a5a"/>
<g transform="translate(50.0,1.9) scale(0.98,1.0)"><path d="M0,0 C1.1,0 1.6,0.9 1.6,2.4 C1.6,3.6 2.3,4.4 2.8,5.6 C3.4,7.5 3.6,11.0 3.8,13.8 C3.9,16.2 2.2,17.4 0,17.4 C-2.2,17.4 -3.9,16.2 -3.8,13.8 C-3.6,11.0 -3.4,7.5 -2.8,5.6 C-2.3,4.4 -1.6,3.6 -1.6,2.4 C-1.6,0.9 -1.1,0 0,0 Z" fill="url(#mouseg)"/></g>
<ellipse cx="4.80" cy="4.2" rx="3.4" ry="2.0" fill="#7a3ad0"/>
<ellipse cx="4.80" cy="4.2" rx="2.21" ry="1.20" fill="#4a22b0"/>
<ellipse cx="16.10" cy="12.5" rx="3.4" ry="2.2" fill="#7a3ad0"/>
<ellipse cx="16.10" cy="12.5" rx="2.21" ry="1.32" fill="#4a22b0"/>
<ellipse cx="27.40" cy="4.0" rx="3.2" ry="1.8" fill="#7a3ad0"/>
<ellipse cx="27.40" cy="4.0" rx="2.08" ry="1.08" fill="#4a22b0"/>
<ellipse cx="27.40" cy="12.0" rx="3.4" ry="2.0" fill="#7a3ad0"/>
<ellipse cx="27.40" cy="12.0" rx="2.21" ry="1.20" fill="#4a22b0"/>
<ellipse cx="38.70" cy="11.5" rx="3.4" ry="2.4" fill="#7a3ad0"/>
<ellipse cx="38.70" cy="11.5" rx="2.21" ry="1.44" fill="#4a22b0"/>
</g>
</g>
<g transform="translate(243.4,544.8)">
<rect x="0" y="0" width="55" height="24.7" fill="#101010"/>
<g filter="url(#bl)">
<ellipse cx="2.5999999999999996" cy="21.4" rx="2.0" ry="2.1" fill="#686868"/>
<ellipse cx="7.0" cy="21.4" rx="2.0" ry="2.1" fill="#5a5a5a"/>
<ellipse cx="10.399999999999999" cy="22.2" rx="1.2" ry="1.4" fill="#3a3a3a"/>
<g transform="translate(4.8,1.9) scale(0.98,1.0)"><path d="M0,0 C1.1,0 1.6,0.9 1.6,2.4 C1.6,3.6 2.3,4.4 2.8,5.6 C3.4,7.5 3.6,11.0 3.8,13.8 C3.9,16.2 2.2,17.4 0,17.4 C-2.2,17.4 -3.9,16.2 -3.8,13.8 C-3.6,11.0 -3.4,7.5 -2.8,5.6 C-2.3,4.4 -1.6,3.6 -1.6,2.4 C-1.6,0.9 -1.1,0 0,0 Z" fill="url(#mouseg)"/></g>
<ellipse cx="13.900000000000002" cy="21.4" rx="2.0" ry="2.1" fill="#686868"/>
<ellipse cx="18.3" cy="21.4" rx="2.0" ry="2.1" fill="#5a5a5a"/>
<ellipse cx="21.700000000000003" cy="22.2" rx="1.2" ry="1.4" fill="#3a3a3a"/>
<g transform="translate(16.1,1.9) scale(0.98,1.0)"><path d="M0,0 C1.1,0 1.6,0.9 1.6,2.4 C1.6,3.6 2.3,4.4 2.8,5.6 C3.4,7.5 3.6,11.0 3.8,13.8 C3.9,16.2 2.2,17.4 0,17.4 C-2.2,17.4 -3.9,16.2 -3.8,13.8 C-3.6,11.0 -3.4,7.5 -2.8,5.6 C-2.3,4.4 -1.6,3.6 -1.6,2.4 C-1.6,0.9 -1.1,0 0,0 Z" fill="url(#mouseg)"/></g>
<ellipse cx="25.200000000000003" cy="21.4" rx="2.0" ry="2.1" fill="#686868"/>
<ellipse cx="29.6" cy="21.4" rx="2.0" ry="2.1" fill="#5a5a5a"/>
<ellipse cx="33.0" cy="22.2" rx="1.2" ry="1.4" fill="#3a3a3a"/>
<g transform="translate(27.400000000000002,1.9) scale(0.98,1.0)"><path d="M0,0 C1.1,0 1.6,0.9 1.6,2.4 C1.6,3.6 2.3,4.4 2.8,5.6 C3.4,7.5 3.6,11.0 3.8,13.8 C3.9,16.2 2.2,17.4 0,17.4 C-2.2,17.4 -3.9,16.2 -3.8,13.8 C-3.6,11.0 -3.4,7.5 -2.8,5.6 C-2.3,4.4 -1.6,3.6 -1.6,2.4 C-1.6,0.9 -1.1,0 0,0 Z" fill="url(#mouseg)"/></g>
<ellipse cx="36.5" cy="21.4" rx="2.0" ry="2.1" fill="#686868"/>
<ellipse cx="40.900000000000006" cy="21.4" rx="2.0" ry="2.1" fill="#5a5a5a"/>
<ellipse cx="44.300000000000004" cy="22.2" rx="1.2" ry="1.4" fill="#3a3a3a"/>
<g transform="translate(38.7,1.9) scale(0.98,1.0)"><path d="M0,0 C1.1,0 1.6,0.9 1.6,2.4 C1.6,3.6 2.3,4.4 2.8,5.6 C3.4,7.5 3.6,11.0 3.8,13.8 C3.9,16.2 2.2,17.4 0,17.4 C-2.2,17.4 -3.9,16.2 -3.8,13.8 C-3.6,11.0 -3.4,7.5 -2.8,5.6 C-2.3,4.4 -1.6,3.6 -1.6,2.4 C-1.6,0.9 -1.1,0 0,0 Z" fill="url(#mouseg)"/></g>
<ellipse cx="47.8" cy="21.4" rx="2.0" ry="2.1" fill="#686868"/>
<ellipse cx="52.2" cy="21.4" rx="2.0" ry="2.1" fill="#5a5a5a"/>
<g transform="translate(50.0,1.9) scale(0.98,1.0)"><path d="M0,0 C1.1,0 1.6,0.9 1.6,2.4 C1.6,3.6 2.3,4.4 2.8,5.6 C3.4,7.5 3.6,11.0 3.8,13.8 C3.9,16.2 2.2,17.4 0,17.4 C-2.2,17.4 -3.9,16.2 -3.8,13.8 C-3.6,11.0 -3.4,7.5 -2.8,5.6 C-2.3,4.4 -1.6,3.6 -1.6,2.4 C-1.6,0.9 -1.1,0 0,0 Z" fill="url(#mouseg)"/></g>
</g>
</g>
<text x="347.00" y="483.00" font-size="8.3" fill="#222" textLength="54.10" lengthAdjust="spacingAndGlyphs">Tumor burden</text>
<text x="355.40" y="490.00" font-size="6.0" fill="#333" textLength="37.70" lengthAdjust="spacingAndGlyphs" font-style="italic">in vivo exp. 3</text>
<line x1="345.40" y1="494.50" x2="345.40" y2="551.70" stroke="#222" stroke-width="0.9"/>
<line x1="343.00" y1="551.20" x2="345.40" y2="551.20" stroke="#222" stroke-width="0.9"/>
<line x1="343.00" y1="543.48" x2="345.40" y2="543.48" stroke="#222" stroke-width="0.9"/>
<line x1="343.00" y1="535.76" x2="345.40" y2="535.76" stroke="#222" stroke-width="0.9"/>
<line x1="343.00" y1="528.04" x2="345.40" y2="528.04" stroke="#222" stroke-width="0.9"/>
<line x1="343.00" y1="520.32" x2="345.40" y2="520.32" stroke="#222" stroke-width="0.9"/>
<line x1="343.00" y1="512.60" x2="345.40" y2="512.60" stroke="#222" stroke-width="0.9"/>
<line x1="343.00" y1="504.88" x2="345.40" y2="504.88" stroke="#222" stroke-width="0.9"/>
<line x1="343.00" y1="497.16" x2="345.40" y2="497.16" stroke="#222" stroke-width="0.9"/>
<line x1="345.40" y1="551.70" x2="401.50" y2="551.70" stroke="#222" stroke-width="0.9"/>
<line x1="345.40" y1="551.70" x2="345.40" y2="553.90" stroke="#222" stroke-width="0.9"/>
<text x="345.40" y="563.60" font-size="6.0" fill="#333" stroke="#333" stroke-width="0.15" text-anchor="middle" textLength="3.30" lengthAdjust="spacingAndGlyphs">0</text>
<line x1="356.10" y1="551.70" x2="356.10" y2="553.90" stroke="#222" stroke-width="0.9"/>
<text x="356.10" y="563.60" font-size="6.0" fill="#333" stroke="#333" stroke-width="0.15" text-anchor="middle" textLength="6.60" lengthAdjust="spacingAndGlyphs">20</text>
<line x1="366.80" y1="551.70" x2="366.80" y2="553.90" stroke="#222" stroke-width="0.9"/>
<text x="366.80" y="563.60" font-size="6.0" fill="#333" stroke="#333" stroke-width="0.15" text-anchor="middle" textLength="6.60" lengthAdjust="spacingAndGlyphs">40</text>
<line x1="377.50" y1="551.70" x2="377.50" y2="553.90" stroke="#222" stroke-width="0.9"/>
<text x="377.50" y="563.60" font-size="6.0" fill="#333" stroke="#333" stroke-width="0.15" text-anchor="middle" textLength="6.60" lengthAdjust="spacingAndGlyphs">60</text>
<line x1="388.20" y1="551.70" x2="388.20" y2="553.90" stroke="#222" stroke-width="0.9"/>
<text x="388.20" y="563.60" font-size="6.0" fill="#333" stroke="#333" stroke-width="0.15" text-anchor="middle" textLength="6.60" lengthAdjust="spacingAndGlyphs">80</text>
<line x1="398.90" y1="551.70" x2="398.90" y2="553.90" stroke="#222" stroke-width="0.9"/>
<text x="398.90" y="563.60" font-size="6.0" fill="#333" stroke="#333" stroke-width="0.15" text-anchor="middle" textLength="9.90" lengthAdjust="spacingAndGlyphs">100</text>
<text x="337.30" y="553.30" font-size="6.0" fill="#333" text-anchor="end" textLength="6.50" lengthAdjust="spacingAndGlyphs">10</text>
<text x="337.60" y="550.50" font-size="3.6" fill="#333">1</text>
<text x="337.30" y="545.58" font-size="6.0" fill="#333" text-anchor="end" textLength="6.50" lengthAdjust="spacingAndGlyphs">10</text>
<text x="337.60" y="542.78" font-size="3.6" fill="#333">2</text>
<text x="337.30" y="537.86" font-size="6.0" fill="#333" text-anchor="end" textLength="6.50" lengthAdjust="spacingAndGlyphs">10</text>
<text x="337.60" y="535.06" font-size="3.6" fill="#333">3</text>
<text x="337.30" y="530.14" font-size="6.0" fill="#333" text-anchor="end" textLength="6.50" lengthAdjust="spacingAndGlyphs">10</text>
<text x="337.60" y="527.34" font-size="3.6" fill="#333">4</text>
<text x="337.30" y="522.42" font-size="6.0" fill="#333" text-anchor="end" textLength="6.50" lengthAdjust="spacingAndGlyphs">10</text>
<text x="337.60" y="519.62" font-size="3.6" fill="#333">5</text>
<text x="337.30" y="514.70" font-size="6.0" fill="#333" text-anchor="end" textLength="6.50" lengthAdjust="spacingAndGlyphs">10</text>
<text x="337.60" y="511.90" font-size="3.6" fill="#333">6</text>
<text x="337.30" y="506.98" font-size="6.0" fill="#333" text-anchor="end" textLength="6.50" lengthAdjust="spacingAndGlyphs">10</text>
<text x="337.60" y="504.18" font-size="3.6" fill="#333">7</text>
<text x="337.30" y="499.26" font-size="6.0" fill="#333" text-anchor="end" textLength="6.50" lengthAdjust="spacingAndGlyphs">10</text>
<text x="337.60" y="496.46" font-size="3.6" fill="#333">8</text>
<text x="374.00" y="574.50" font-size="9.0" fill="#333" stroke="#333" stroke-width="0.2" text-anchor="middle" textLength="35.50" lengthAdjust="spacingAndGlyphs">Time (days)</text>
<text x="314.00" y="522.80" font-size="8.0" fill="#333" stroke="#333" stroke-width="0.2" text-anchor="middle" textLength="39.60" lengthAdjust="spacingAndGlyphs" transform="rotate(-90 314.00 522.80)">Relative light</text>
<text x="323.60" y="522.90" font-size="8.0" fill="#333" stroke="#333" stroke-width="0.2" text-anchor="middle" textLength="38.70" lengthAdjust="spacingAndGlyphs" transform="rotate(-90 323.60 522.90)">units/second</text>
<polyline points="345.40,534.99 346.47,531.13 348.07,523.41 349.89,517.23 351.82,512.60 353.42,509.28 355.56,506.42 357.81,504.11" fill="none" stroke="#111" stroke-width="1.9" stroke-linejoin="round"/>
<polyline points="345.40,534.99 348.38,540.39 351.25,544.74 354.46,542.71 358.74,533.44 363.02,523.41 367.30,514.14 374.56,506.92" fill="none" stroke="#c0206a" stroke-width="0.9" stroke-linejoin="round"/>
<polyline points="345.40,534.99 348.66,540.39 351.94,543.07 355.15,542.71 359.43,533.44 363.71,523.41 367.99,514.14 371.39,505.43" fill="none" stroke="#d4317a" stroke-width="0.9" stroke-linejoin="round"/>
<polyline points="345.40,534.99 348.02,540.39 350.34,544.67 353.55,542.71 357.83,533.44 362.11,523.41 366.39,514.14 371.45,504.96" fill="none" stroke="#d4317a" stroke-width="0.9" stroke-linejoin="round"/>
<polyline points="345.40,534.99 348.51,540.39 351.58,544.16 354.79,542.71 359.07,533.44 363.35,523.41 367.63,514.14 371.74,502.22" fill="none" stroke="#c0206a" stroke-width="0.9" stroke-linejoin="round"/>
<polyline points="345.40,534.99 348.77,540.39 352.23,543.49 355.44,542.71 359.72,533.44 364.00,523.41 368.28,514.14 374.17,501.38" fill="none" stroke="#d4317a" stroke-width="0.9" stroke-linejoin="round"/>
<polyline points="345.40,534.99 349.22,540.39 353.35,543.91 356.56,542.71 360.84,533.44 365.12,523.41 369.40,514.14 375.67,507.64" fill="none" stroke="#d4317a" stroke-width="0.9" stroke-linejoin="round"/>
<polyline points="345.40,534.99 348.15,540.39 350.68,541.87 353.89,542.71 358.17,533.44 362.45,523.41 366.73,514.14 372.73,507.15" fill="none" stroke="#c0206a" stroke-width="0.9" stroke-linejoin="round"/>
<polyline points="345.40,535.76 350.75,541.16 355.61,543.48 359.89,537.30 365.24,526.50 370.59,515.69 374.87,508.74" fill="none" stroke="#2a5a98" stroke-width="0.8" stroke-linejoin="round"/>
<polyline points="345.40,535.76 350.75,541.16 356.90,543.48 361.18,537.30 366.53,526.50 371.88,515.69 376.16,508.74" fill="none" stroke="#3a8aa8" stroke-width="0.8" stroke-linejoin="round"/>
<polyline points="345.40,535.76 350.75,541.16 357.08,543.48 361.36,537.30 366.71,526.50 372.06,515.69 376.34,508.74" fill="none" stroke="#2a5a98" stroke-width="0.8" stroke-linejoin="round"/>
<polyline points="345.40,535.76 352.89,541.94 360.38,545.02 370.81,541.63 375.89,528.04 381.08,514.92 388.09,507.97" fill="none" stroke="#8e8ed0" stroke-width="0.7" stroke-linejoin="round"/>
<polyline points="345.40,535.76 356.10,542.71 369.69,542.71 377.77,533.06 381.08,533.06 384.56,516.46 387.45,516.46 392.00,511.83" fill="none" stroke="#9a9ad6" stroke-width="0.7" stroke-linejoin="round"/>
<polyline points="345.40,535.76 355.03,543.48 362.52,539.62 368.94,529.58 374.82,518.78 380.71,512.60" fill="none" stroke="#7a8ac8" stroke-width="0.6" stroke-linejoin="round"/>
<text x="457.00" y="482.30" font-size="8.3" fill="#222" textLength="29.20" lengthAdjust="spacingAndGlyphs">Survival</text>
<line x1="443.30" y1="494.10" x2="443.30" y2="551.30" stroke="#222" stroke-width="0.9"/>
<line x1="441.10" y1="551.30" x2="443.30" y2="551.30" stroke="#222" stroke-width="0.9"/>
<text x="440.30" y="553.40" font-size="6.0" fill="#333" stroke="#333" stroke-width="0.15" text-anchor="end" textLength="3.33" lengthAdjust="spacingAndGlyphs">0</text>
<line x1="441.10" y1="540.94" x2="443.30" y2="540.94" stroke="#222" stroke-width="0.9"/>
<text x="440.30" y="543.04" font-size="6.0" fill="#333" stroke="#333" stroke-width="0.15" text-anchor="end" textLength="6.66" lengthAdjust="spacingAndGlyphs">20</text>
<line x1="441.10" y1="530.58" x2="443.30" y2="530.58" stroke="#222" stroke-width="0.9"/>
<text x="440.30" y="532.68" font-size="6.0" fill="#333" stroke="#333" stroke-width="0.15" text-anchor="end" textLength="6.66" lengthAdjust="spacingAndGlyphs">40</text>
<line x1="441.10" y1="520.22" x2="443.30" y2="520.22" stroke="#222" stroke-width="0.9"/>
<text x="440.30" y="522.32" font-size="6.0" fill="#333" stroke="#333" stroke-width="0.15" text-anchor="end" textLength="6.66" lengthAdjust="spacingAndGlyphs">60</text>
<line x1="441.10" y1="509.86" x2="443.30" y2="509.86" stroke="#222" stroke-width="0.9"/>
<text x="440.30" y="511.96" font-size="6.0" fill="#333" stroke="#333" stroke-width="0.15" text-anchor="end" textLength="6.66" lengthAdjust="spacingAndGlyphs">80</text>
<line x1="441.10" y1="499.50" x2="443.30" y2="499.50" stroke="#222" stroke-width="0.9"/>
<text x="440.30" y="501.60" font-size="6.0" fill="#333" stroke="#333" stroke-width="0.15" text-anchor="end" textLength="9.99" lengthAdjust="spacingAndGlyphs">100</text>
<line x1="443.30" y1="551.30" x2="501.00" y2="551.30" stroke="#222" stroke-width="0.9"/>
<line x1="443.30" y1="551.30" x2="443.30" y2="553.50" stroke="#222" stroke-width="0.9"/>
<text x="443.30" y="563.60" font-size="6.0" fill="#333" stroke="#333" stroke-width="0.15" text-anchor="middle" textLength="3.30" lengthAdjust="spacingAndGlyphs">0</text>
<line x1="454.00" y1="551.30" x2="454.00" y2="553.50" stroke="#222" stroke-width="0.9"/>
<text x="454.00" y="563.60" font-size="6.0" fill="#333" stroke="#333" stroke-width="0.15" text-anchor="middle" textLength="6.60" lengthAdjust="spacingAndGlyphs">20</text>
<line x1="464.70" y1="551.30" x2="464.70" y2="553.50" stroke="#222" stroke-width="0.9"/>
<text x="464.70" y="563.60" font-size="6.0" fill="#333" stroke="#333" stroke-width="0.15" text-anchor="middle" textLength="6.60" lengthAdjust="spacingAndGlyphs">40</text>
<line x1="475.40" y1="551.30" x2="475.40" y2="553.50" stroke="#222" stroke-width="0.9"/>
<text x="475.40" y="563.60" font-size="6.0" fill="#333" stroke="#333" stroke-width="0.15" text-anchor="middle" textLength="6.60" lengthAdjust="spacingAndGlyphs">60</text>
<line x1="486.10" y1="551.30" x2="486.10" y2="553.50" stroke="#222" stroke-width="0.9"/>
<text x="486.10" y="563.60" font-size="6.0" fill="#333" stroke="#333" stroke-width="0.15" text-anchor="middle" textLength="6.60" lengthAdjust="spacingAndGlyphs">80</text>
<line x1="496.80" y1="551.30" x2="496.80" y2="553.50" stroke="#222" stroke-width="0.9"/>
<text x="496.80" y="563.60" font-size="6.0" fill="#333" stroke="#333" stroke-width="0.15" text-anchor="middle" textLength="9.90" lengthAdjust="spacingAndGlyphs">100</text>
<text x="472.10" y="574.50" font-size="9.0" fill="#333" stroke="#333" stroke-width="0.2" text-anchor="middle" textLength="35.50" lengthAdjust="spacingAndGlyphs">Time (days)</text>
<text x="421.80" y="522.20" font-size="8.0" fill="#333" stroke="#333" stroke-width="0.2" text-anchor="middle" textLength="23.30" lengthAdjust="spacingAndGlyphs" transform="rotate(-90 421.80 522.20)">Survival</text>
<polyline points="443.30,499.50 457.75,499.50 457.75,551.30" fill="none" stroke="#666" stroke-width="1.1" stroke-linejoin="round"/>
<polyline points="443.30,499.50 475.40,499.50 475.40,520.22 486.10,520.22 486.10,540.94 491.45,540.94 491.45,551.30" fill="none" stroke="#a6a6d8" stroke-width="0.9" stroke-linejoin="round"/>
<polyline points="443.30,499.50 467.91,499.50 467.91,530.58 473.26,530.58 473.26,540.94 474.60,540.94 474.60,551.30" fill="none" stroke="#d4317a" stroke-width="1.0" stroke-linejoin="round"/>
<polyline points="443.30,499.50 471.12,499.50 471.12,509.86 473.26,509.86 473.26,520.22 475.13,520.22 475.13,551.30" fill="none" stroke="#2c4a7e" stroke-width="1.0" stroke-linejoin="round"/>
<line x1="481.10" y1="494.80" x2="486.10" y2="494.80" stroke="#2c4a7e" stroke-width="1.1"/>
<line x1="481.10" y1="501.70" x2="486.10" y2="501.70" stroke="#d4317a" stroke-width="1.1"/>
<line x1="481.10" y1="508.40" x2="486.10" y2="508.40" stroke="#9aa8c8" stroke-width="1.1"/>
<line x1="481.10" y1="516.60" x2="486.10" y2="516.60" stroke="#333" stroke-width="1.1"/>
<path d="M488.8,494.8 L490.2,494.8 L490.2,516.6 L488.8,516.6" fill="none" stroke="#555" stroke-width="0.6"/>
<circle cx="489.40" cy="501.70" r="0.60" fill="#555"/>
<circle cx="489.40" cy="508.40" r="0.60" fill="#555"/>
<path d="M496.2,494.8 L497.6,494.8 L497.6,509.0 L496.2,509.0" fill="none" stroke="#555" stroke-width="0.6"/>
<path d="M501.6,501.5 L503.0,501.5 L503.0,516.6 L501.6,516.6" fill="none" stroke="#555" stroke-width="0.6"/>
<path d="M506.8,494.8 L508.2,494.8 L508.2,516.6 L506.8,516.6" fill="none" stroke="#555" stroke-width="0.6"/>
<line x1="498.00" y1="502.00" x2="500.50" y2="502.00" stroke="#555" stroke-width="0.5"/>
<text x="493.20" y="497.40" font-size="4.6" fill="#444" text-anchor="middle" textLength="4.20" lengthAdjust="spacingAndGlyphs" transform="rotate(90 493.20 497.40)">ns</text>
<circle cx="493.60" cy="503.50" r="0.62" fill="#444"/>
<circle cx="493.60" cy="505.70" r="0.62" fill="#444"/>
<circle cx="493.60" cy="511.50" r="0.62" fill="#444"/>
<circle cx="493.60" cy="513.70" r="0.62" fill="#444"/>
<circle cx="499.60" cy="506.50" r="0.62" fill="#444"/>
<circle cx="505.00" cy="507.90" r="0.62" fill="#444"/>
<circle cx="505.00" cy="510.10" r="0.62" fill="#444"/>
<circle cx="510.60" cy="503.90" r="0.62" fill="#444"/>
<circle cx="510.60" cy="506.10" r="0.62" fill="#444"/>
<rect x="0.5" y="0.5" width="519" height="583" fill="none" stroke="#5a5a5a" stroke-width="1"/>
</svg></body></html>
